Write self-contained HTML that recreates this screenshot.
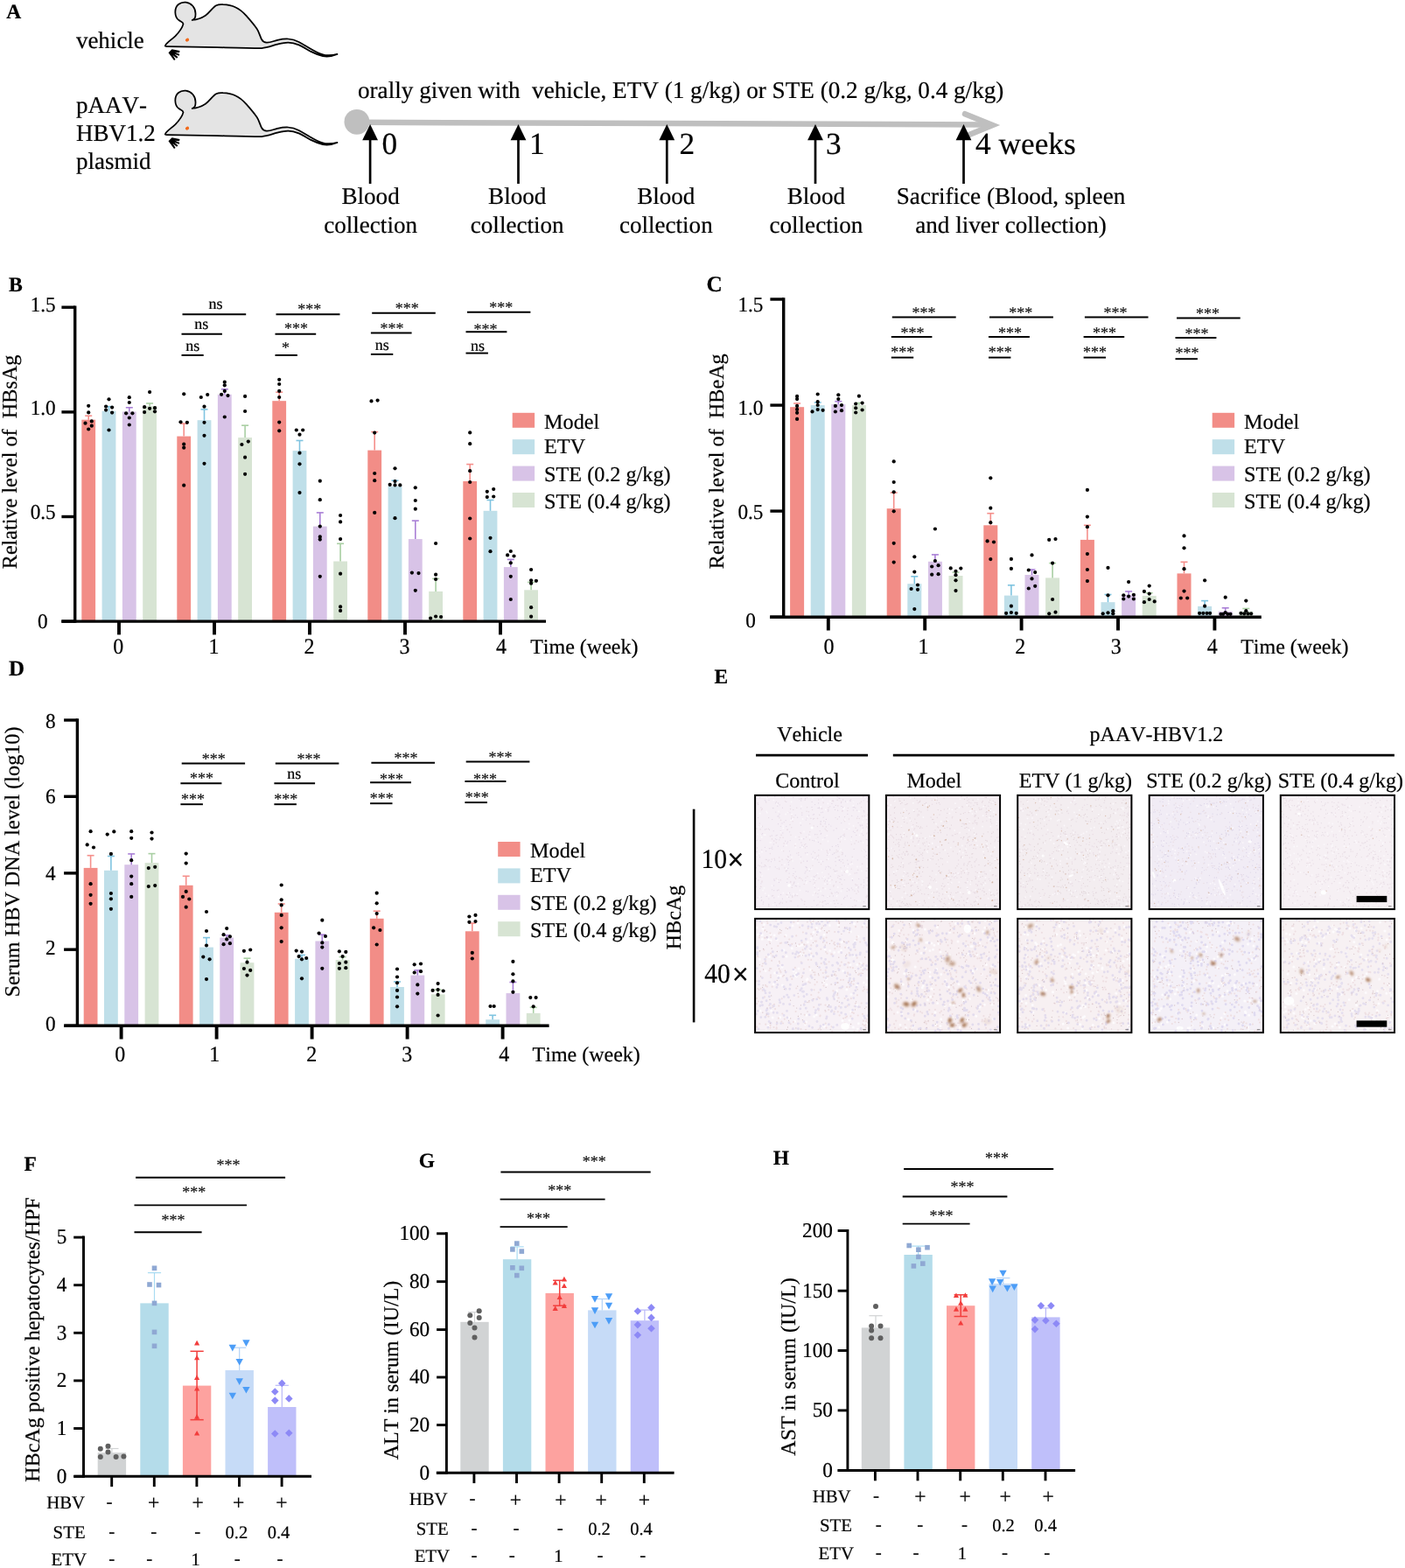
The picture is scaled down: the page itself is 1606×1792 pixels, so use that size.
<!DOCTYPE html>
<html lang="en">
<head>
<meta charset="utf-8">
<title>Figure</title>
<style>
html,body{margin:0;padding:0;background:#fff;}
body{width:1606px;height:1792px;overflow:hidden;}
svg{display:block;font-family:'Liberation Serif', serif;font-kerning:none;font-variant-ligatures:none;text-rendering:geometricPrecision;}
text{stroke:#000;stroke-width:0.22px;stroke-opacity:0.9;}
</style>
</head>
<body>
<svg width="1606" height="1792" viewBox="0 0 1606 1792">
<rect width="1606" height="1792" fill="#fff"/>
<g id="panelA">
<text x="7.3" y="21.2" font-size="23.5" font-weight="bold" xml:space="preserve">A</text>
<text x="86.9" y="55.0" font-size="27" xml:space="preserve">vehicle</text>
<text x="86.9" y="129.0" font-size="27" xml:space="preserve">pAAV-</text>
<text x="86.9" y="161.0" font-size="27" xml:space="preserve">HBV1.2</text>
<text x="86.9" y="193.0" font-size="27" xml:space="preserve">plasmid</text>
<g transform="translate(0 0)">
<path d="M188.9 52.1 C190 49 196 45.5 200.5 41.1 C204.5 37 208.5 31.5 209.5 27.4 C209.3 25 206.5 24.5 204.7 23.3 C199 19.5 199 9 204 5 C209 1 216 2 220.5 7 C223 10 224 15 223.2 19.5 C222.8 21.5 221 22.5 219.7 23 C225 22.5 230 21 234.8 17.8 C239.5 14.5 243 8.5 247.1 6.2 C250 4.8 252 4.9 254.7 5.1 C260 5.3 265 6.2 269 8.2 C274 10.5 278 14 281.4 17.8 C286 23 290 27.5 293.7 32.9 C296.5 37 297 41.5 299.2 45.2 C300.5 47.5 302.5 48.6 304.7 48.6 C309 48.8 313 46.8 317 45.9 C321 45 325 44.3 329.3 44.5 C333.5 44.7 338 46 341.6 47.9 C347.5 51 352.5 54.5 358.1 57.5 C362.5 60 367 62.5 371.8 63 C376.5 63.5 381.5 63 385.5 61.9 C381 63.8 374 65 369 64.1 C364 63 359.5 61 355.3 58.9 C350.5 56.3 346 53.5 341.6 51.4 C337.5 49.6 333.5 48.6 329.3 48.6 C325 48.6 321 49.7 317 50.7 C311 52.3 305 54.6 299.2 55.1 C282 55 265 54.5 248.5 54.1 C229 53.7 210 53.5 191 53.2 C189 53 188.4 52.6 188.9 52.1 Z" fill="#e4e4e4" stroke="#000" stroke-width="1.75" stroke-linejoin="round"/>
<path d="M196.5 56.3 L205.5 58 L205 60.2 L200.2 59.8 L205.3 61.9 L204.6 63.8 L199.5 61.8 L203.4 65.2 L202 66.8 L197.5 63 L200.6 68 L199 69 L192.5 60.3 Z" fill="#000"/>
<ellipse cx="214" cy="45.6" rx="2.2" ry="1.9" fill="#f26a1b" transform="rotate(-25 214 45.6)"/>
</g>
<g transform="translate(0 101)">
<path d="M188.9 52.1 C190 49 196 45.5 200.5 41.1 C204.5 37 208.5 31.5 209.5 27.4 C209.3 25 206.5 24.5 204.7 23.3 C199 19.5 199 9 204 5 C209 1 216 2 220.5 7 C223 10 224 15 223.2 19.5 C222.8 21.5 221 22.5 219.7 23 C225 22.5 230 21 234.8 17.8 C239.5 14.5 243 8.5 247.1 6.2 C250 4.8 252 4.9 254.7 5.1 C260 5.3 265 6.2 269 8.2 C274 10.5 278 14 281.4 17.8 C286 23 290 27.5 293.7 32.9 C296.5 37 297 41.5 299.2 45.2 C300.5 47.5 302.5 48.6 304.7 48.6 C309 48.8 313 46.8 317 45.9 C321 45 325 44.3 329.3 44.5 C333.5 44.7 338 46 341.6 47.9 C347.5 51 352.5 54.5 358.1 57.5 C362.5 60 367 62.5 371.8 63 C376.5 63.5 381.5 63 385.5 61.9 C381 63.8 374 65 369 64.1 C364 63 359.5 61 355.3 58.9 C350.5 56.3 346 53.5 341.6 51.4 C337.5 49.6 333.5 48.6 329.3 48.6 C325 48.6 321 49.7 317 50.7 C311 52.3 305 54.6 299.2 55.1 C282 55 265 54.5 248.5 54.1 C229 53.7 210 53.5 191 53.2 C189 53 188.4 52.6 188.9 52.1 Z" fill="#e4e4e4" stroke="#000" stroke-width="1.75" stroke-linejoin="round"/>
<path d="M196.5 56.3 L205.5 58 L205 60.2 L200.2 59.8 L205.3 61.9 L204.6 63.8 L199.5 61.8 L203.4 65.2 L202 66.8 L197.5 63 L200.6 68 L199 69 L192.5 60.3 Z" fill="#000"/>
<ellipse cx="214" cy="45.6" rx="2.2" ry="1.9" fill="#f26a1b" transform="rotate(-25 214 45.6)"/>
</g>
<text x="409.0" y="111.6" font-size="27.16" xml:space="preserve">orally given with  vehicle, ETV (1 g/kg) or STE (0.2 g/kg, 0.4 g/kg)</text>
<line x1="408.0" y1="139.8" x2="1130.0" y2="142.4" stroke="#bfbfbf" stroke-width="6.5"/>
<polyline points="1103,130.2 1134.6,143 1103,156" fill="none" stroke="#bfbfbf" stroke-width="6.5" stroke-linecap="round" stroke-linejoin="miter"/>
<circle cx="407.9" cy="139.3" r="14.4" fill="#bfbfbf"/>
<line x1="423.1" y1="210.0" x2="423.1" y2="158.0" stroke="#000" stroke-width="2.7"/>
<path d="M423.1 142 L432.0 160.3 L414.2 160.3 Z" fill="#000"/>
<text x="436.5" y="176.3" font-size="35.3" xml:space="preserve">0</text>
<line x1="592.5" y1="210.0" x2="592.5" y2="158.0" stroke="#000" stroke-width="2.7"/>
<path d="M592.5 142 L601.4 160.3 L583.6 160.3 Z" fill="#000"/>
<text x="605.0" y="176.3" font-size="35.3" xml:space="preserve">1</text>
<line x1="762.3" y1="210.0" x2="762.3" y2="158.0" stroke="#000" stroke-width="2.7"/>
<path d="M762.3 142 L771.2 160.3 L753.4 160.3 Z" fill="#000"/>
<text x="776.5" y="176.3" font-size="35.3" xml:space="preserve">2</text>
<line x1="932.0" y1="210.0" x2="932.0" y2="158.0" stroke="#000" stroke-width="2.7"/>
<path d="M932.0 142 L940.9 160.3 L923.1 160.3 Z" fill="#000"/>
<text x="944.0" y="176.3" font-size="35.3" xml:space="preserve">3</text>
<line x1="1101.5" y1="210.0" x2="1101.5" y2="158.0" stroke="#000" stroke-width="2.7"/>
<path d="M1101.5 142 L1110.4 160.3 L1092.6 160.3 Z" fill="#000"/>
<text x="1115.0" y="176.3" font-size="35.3" xml:space="preserve">4 weeks</text>
<text x="423.6" y="232.7" font-size="27.1" text-anchor="middle" xml:space="preserve">Blood</text>
<text x="423.6" y="265.8" font-size="27.1" text-anchor="middle" xml:space="preserve">collection</text>
<text x="591.2" y="232.7" font-size="27.1" text-anchor="middle" xml:space="preserve">Blood</text>
<text x="591.2" y="265.8" font-size="27.1" text-anchor="middle" xml:space="preserve">collection</text>
<text x="761.3" y="232.7" font-size="27.1" text-anchor="middle" xml:space="preserve">Blood</text>
<text x="761.3" y="265.8" font-size="27.1" text-anchor="middle" xml:space="preserve">collection</text>
<text x="932.9" y="232.7" font-size="27.1" text-anchor="middle" xml:space="preserve">Blood</text>
<text x="932.9" y="265.8" font-size="27.1" text-anchor="middle" xml:space="preserve">collection</text>
<text x="1155.5" y="232.7" font-size="27.15" text-anchor="middle" xml:space="preserve">Sacrifice (Blood, spleen</text>
<text x="1155.5" y="265.8" font-size="27.15" text-anchor="middle" xml:space="preserve">and liver collection)</text>
</g>
<g id="panelB">
<text x="10.0" y="333.3" font-size="23.7" font-weight="bold" xml:space="preserve">B</text>
<rect x="93.3" y="479.7" width="15.8" height="230.4" fill="#f28d87"/>
<rect x="116.6" y="469.7" width="15.8" height="240.4" fill="#bfdfe9"/>
<rect x="139.9" y="470.5" width="15.8" height="239.6" fill="#d8c3e7"/>
<rect x="163.2" y="463.9" width="15.8" height="246.2" fill="#d7e4d3"/>
<rect x="202.3" y="498.6" width="15.8" height="211.5" fill="#f28d87"/>
<rect x="225.6" y="480.2" width="15.8" height="229.9" fill="#bfdfe9"/>
<rect x="248.9" y="450.8" width="15.8" height="259.3" fill="#d8c3e7"/>
<rect x="272.2" y="500.1" width="15.8" height="210.0" fill="#d7e4d3"/>
<rect x="311.3" y="458.2" width="15.8" height="251.9" fill="#f28d87"/>
<rect x="334.6" y="515.1" width="15.8" height="195.0" fill="#bfdfe9"/>
<rect x="357.9" y="601.6" width="15.8" height="108.5" fill="#d8c3e7"/>
<rect x="381.2" y="641.5" width="15.8" height="68.6" fill="#d7e4d3"/>
<rect x="420.3" y="514.6" width="15.8" height="195.5" fill="#f28d87"/>
<rect x="443.6" y="555.7" width="15.8" height="154.4" fill="#bfdfe9"/>
<rect x="466.9" y="616.1" width="15.8" height="94.0" fill="#d8c3e7"/>
<rect x="490.2" y="675.9" width="15.8" height="34.2" fill="#d7e4d3"/>
<rect x="529.3" y="550.0" width="15.8" height="160.1" fill="#f28d87"/>
<rect x="552.6" y="583.8" width="15.8" height="126.3" fill="#bfdfe9"/>
<rect x="575.9" y="648.1" width="15.8" height="62.0" fill="#d8c3e7"/>
<rect x="599.2" y="674.3" width="15.8" height="35.8" fill="#d7e4d3"/>
<line x1="101.2" y1="479.7" x2="101.2" y2="475.2" stroke="#f58f8b" stroke-width="1.6"/>
<line x1="97.2" y1="475.2" x2="105.2" y2="475.2" stroke="#f58f8b" stroke-width="1.6"/>
<line x1="124.5" y1="469.7" x2="124.5" y2="464.7" stroke="#7fc4e0" stroke-width="1.6"/>
<line x1="120.5" y1="464.7" x2="128.5" y2="464.7" stroke="#7fc4e0" stroke-width="1.6"/>
<line x1="147.8" y1="470.5" x2="147.8" y2="465.8" stroke="#a97fd6" stroke-width="1.6"/>
<line x1="143.8" y1="465.8" x2="151.8" y2="465.8" stroke="#a97fd6" stroke-width="1.6"/>
<line x1="171.1" y1="463.9" x2="171.1" y2="461.0" stroke="#a9cfa3" stroke-width="1.6"/>
<line x1="167.1" y1="461.0" x2="175.1" y2="461.0" stroke="#a9cfa3" stroke-width="1.6"/>
<line x1="210.2" y1="498.6" x2="210.2" y2="484.1" stroke="#f58f8b" stroke-width="1.6"/>
<line x1="206.2" y1="484.1" x2="214.2" y2="484.1" stroke="#f58f8b" stroke-width="1.6"/>
<line x1="233.5" y1="480.2" x2="233.5" y2="467.9" stroke="#7fc4e0" stroke-width="1.6"/>
<line x1="229.5" y1="467.9" x2="237.5" y2="467.9" stroke="#7fc4e0" stroke-width="1.6"/>
<line x1="256.8" y1="450.8" x2="256.8" y2="444.8" stroke="#a97fd6" stroke-width="1.6"/>
<line x1="252.8" y1="444.8" x2="260.8" y2="444.8" stroke="#a97fd6" stroke-width="1.6"/>
<line x1="280.1" y1="500.1" x2="280.1" y2="486.2" stroke="#a9cfa3" stroke-width="1.6"/>
<line x1="276.1" y1="486.2" x2="284.1" y2="486.2" stroke="#a9cfa3" stroke-width="1.6"/>
<line x1="319.2" y1="458.2" x2="319.2" y2="448.2" stroke="#f58f8b" stroke-width="1.6"/>
<line x1="315.2" y1="448.2" x2="323.2" y2="448.2" stroke="#f58f8b" stroke-width="1.6"/>
<line x1="342.5" y1="515.1" x2="342.5" y2="503.5" stroke="#7fc4e0" stroke-width="1.6"/>
<line x1="338.5" y1="503.5" x2="346.5" y2="503.5" stroke="#7fc4e0" stroke-width="1.6"/>
<line x1="365.8" y1="601.6" x2="365.8" y2="585.9" stroke="#a97fd6" stroke-width="1.6"/>
<line x1="361.8" y1="585.9" x2="369.8" y2="585.9" stroke="#a97fd6" stroke-width="1.6"/>
<line x1="389.1" y1="641.5" x2="389.1" y2="621.3" stroke="#a9cfa3" stroke-width="1.6"/>
<line x1="385.1" y1="621.3" x2="393.1" y2="621.3" stroke="#a9cfa3" stroke-width="1.6"/>
<line x1="428.2" y1="514.6" x2="428.2" y2="493.6" stroke="#f58f8b" stroke-width="1.6"/>
<line x1="424.2" y1="493.6" x2="432.2" y2="493.6" stroke="#f58f8b" stroke-width="1.6"/>
<line x1="451.5" y1="555.7" x2="451.5" y2="549.2" stroke="#7fc4e0" stroke-width="1.6"/>
<line x1="447.5" y1="549.2" x2="455.5" y2="549.2" stroke="#7fc4e0" stroke-width="1.6"/>
<line x1="474.8" y1="616.1" x2="474.8" y2="595.1" stroke="#a97fd6" stroke-width="1.6"/>
<line x1="470.8" y1="595.1" x2="478.8" y2="595.1" stroke="#a97fd6" stroke-width="1.6"/>
<line x1="498.1" y1="675.9" x2="498.1" y2="661.4" stroke="#a9cfa3" stroke-width="1.6"/>
<line x1="494.1" y1="661.4" x2="502.1" y2="661.4" stroke="#a9cfa3" stroke-width="1.6"/>
<line x1="537.2" y1="550.0" x2="537.2" y2="530.6" stroke="#f58f8b" stroke-width="1.6"/>
<line x1="533.2" y1="530.6" x2="541.2" y2="530.6" stroke="#f58f8b" stroke-width="1.6"/>
<line x1="560.5" y1="583.8" x2="560.5" y2="571.5" stroke="#7fc4e0" stroke-width="1.6"/>
<line x1="556.5" y1="571.5" x2="564.5" y2="571.5" stroke="#7fc4e0" stroke-width="1.6"/>
<line x1="583.8" y1="648.1" x2="583.8" y2="639.4" stroke="#a97fd6" stroke-width="1.6"/>
<line x1="579.8" y1="639.4" x2="587.8" y2="639.4" stroke="#a97fd6" stroke-width="1.6"/>
<line x1="607.1" y1="674.3" x2="607.1" y2="665.4" stroke="#a9cfa3" stroke-width="1.6"/>
<line x1="603.1" y1="665.4" x2="611.1" y2="665.4" stroke="#a9cfa3" stroke-width="1.6"/>
<line x1="85.7" y1="349.5" x2="85.7" y2="711.8" stroke="#000" stroke-width="3.4"/>
<line x1="70.3" y1="710.1" x2="624.0" y2="710.1" stroke="#000" stroke-width="3.4"/>
<line x1="70.4" y1="351.2" x2="85.7" y2="351.2" stroke="#000" stroke-width="3.4"/>
<text transform="translate(63.7 356.1) scale(1 1.04)" font-size="23.2" text-anchor="end">1.5</text>
<line x1="70.4" y1="470.9" x2="85.7" y2="470.9" stroke="#000" stroke-width="3.4"/>
<text transform="translate(63.7 473.8) scale(1 1.04)" font-size="23.2" text-anchor="end">1.0</text>
<line x1="70.4" y1="590.5" x2="85.7" y2="590.5" stroke="#000" stroke-width="3.4"/>
<text transform="translate(63.7 592.7) scale(1 1.04)" font-size="23.2" text-anchor="end">0.5</text>
<line x1="70.4" y1="710.1" x2="85.7" y2="710.1" stroke="#000" stroke-width="3.4"/>
<text transform="translate(54.6 717.6) scale(1 1.04)" font-size="23.2" text-anchor="end">0</text>
<line x1="136.0" y1="710.1" x2="136.0" y2="725.4" stroke="#000" stroke-width="3.9"/>
<text transform="translate(135.2 747.2) scale(1 1.05)" font-size="24" text-anchor="middle">0</text>
<line x1="245.0" y1="710.1" x2="245.0" y2="725.4" stroke="#000" stroke-width="3.9"/>
<text transform="translate(244.6 747.2) scale(1 1.05)" font-size="24" text-anchor="middle">1</text>
<line x1="354.0" y1="710.1" x2="354.0" y2="725.4" stroke="#000" stroke-width="3.9"/>
<text transform="translate(353.6 747.2) scale(1 1.05)" font-size="24" text-anchor="middle">2</text>
<line x1="463.0" y1="710.1" x2="463.0" y2="725.4" stroke="#000" stroke-width="3.9"/>
<text transform="translate(462.6 747.2) scale(1 1.05)" font-size="24" text-anchor="middle">3</text>
<line x1="572.0" y1="710.1" x2="572.0" y2="725.4" stroke="#000" stroke-width="3.9"/>
<text transform="translate(573.0 747.2) scale(1 1.05)" font-size="24" text-anchor="middle">4</text>
<text x="606.2" y="747.2" font-size="24" xml:space="preserve">Time (week)</text>
<circle cx="101.2" cy="463.8" r="2.1" fill="#000"/>
<circle cx="101.2" cy="471.4" r="2.1" fill="#000"/>
<circle cx="104.8" cy="481.4" r="2.1" fill="#000"/>
<circle cx="97.5" cy="483.7" r="2.1" fill="#000"/>
<circle cx="104.8" cy="486.7" r="2.1" fill="#000"/>
<circle cx="101.2" cy="490.5" r="2.1" fill="#000"/>
<circle cx="124.5" cy="456.3" r="2.1" fill="#000"/>
<circle cx="121.1" cy="464.5" r="2.1" fill="#000"/>
<circle cx="128.1" cy="465.6" r="2.1" fill="#000"/>
<circle cx="121.1" cy="468.6" r="2.1" fill="#000"/>
<circle cx="128.1" cy="471.6" r="2.1" fill="#000"/>
<circle cx="124.5" cy="491.5" r="2.1" fill="#000"/>
<circle cx="147.8" cy="454.2" r="2.1" fill="#000"/>
<circle cx="147.8" cy="460.0" r="2.1" fill="#000"/>
<circle cx="144.1" cy="472.3" r="2.1" fill="#000"/>
<circle cx="151.4" cy="472.3" r="2.1" fill="#000"/>
<circle cx="147.8" cy="477.5" r="2.1" fill="#000"/>
<circle cx="147.8" cy="485.5" r="2.1" fill="#000"/>
<circle cx="171.1" cy="448.1" r="2.1" fill="#000"/>
<circle cx="165.1" cy="465.2" r="2.1" fill="#000"/>
<circle cx="171.1" cy="466.8" r="2.1" fill="#000"/>
<circle cx="177.0" cy="466.2" r="2.1" fill="#000"/>
<circle cx="165.1" cy="471.1" r="2.1" fill="#000"/>
<circle cx="177.0" cy="470.3" r="2.1" fill="#000"/>
<circle cx="210.2" cy="450.3" r="2.1" fill="#000"/>
<circle cx="206.5" cy="482.3" r="2.1" fill="#000"/>
<circle cx="213.9" cy="482.8" r="2.1" fill="#000"/>
<circle cx="210.2" cy="507.7" r="2.1" fill="#000"/>
<circle cx="210.2" cy="511.7" r="2.1" fill="#000"/>
<circle cx="210.2" cy="554.7" r="2.1" fill="#000"/>
<circle cx="229.8" cy="454.0" r="2.1" fill="#000"/>
<circle cx="237.2" cy="451.1" r="2.1" fill="#000"/>
<circle cx="233.5" cy="464.7" r="2.1" fill="#000"/>
<circle cx="233.5" cy="482.8" r="2.1" fill="#000"/>
<circle cx="233.5" cy="497.8" r="2.1" fill="#000"/>
<circle cx="233.5" cy="529.8" r="2.1" fill="#000"/>
<circle cx="256.8" cy="436.7" r="2.1" fill="#000"/>
<circle cx="256.8" cy="440.3" r="2.1" fill="#000"/>
<circle cx="253.1" cy="450.8" r="2.1" fill="#000"/>
<circle cx="260.5" cy="452.1" r="2.1" fill="#000"/>
<circle cx="256.8" cy="446.9" r="2.1" fill="#000"/>
<circle cx="256.8" cy="476.5" r="2.1" fill="#000"/>
<circle cx="280.1" cy="452.9" r="2.1" fill="#000"/>
<circle cx="280.1" cy="470.0" r="2.1" fill="#000"/>
<circle cx="276.4" cy="508.0" r="2.1" fill="#000"/>
<circle cx="283.8" cy="504.6" r="2.1" fill="#000"/>
<circle cx="280.1" cy="522.7" r="2.1" fill="#000"/>
<circle cx="280.1" cy="541.8" r="2.1" fill="#000"/>
<circle cx="319.2" cy="433.8" r="2.1" fill="#000"/>
<circle cx="319.2" cy="439.0" r="2.1" fill="#000"/>
<circle cx="319.2" cy="446.9" r="2.1" fill="#000"/>
<circle cx="319.2" cy="454.0" r="2.1" fill="#000"/>
<circle cx="319.2" cy="482.6" r="2.1" fill="#000"/>
<circle cx="319.2" cy="492.3" r="2.1" fill="#000"/>
<circle cx="338.8" cy="491.5" r="2.1" fill="#000"/>
<circle cx="346.2" cy="491.5" r="2.1" fill="#000"/>
<circle cx="342.5" cy="496.7" r="2.1" fill="#000"/>
<circle cx="342.5" cy="517.7" r="2.1" fill="#000"/>
<circle cx="342.5" cy="530.3" r="2.1" fill="#000"/>
<circle cx="342.5" cy="563.1" r="2.1" fill="#000"/>
<circle cx="365.8" cy="549.7" r="2.1" fill="#000"/>
<circle cx="365.8" cy="571.2" r="2.1" fill="#000"/>
<circle cx="365.8" cy="601.6" r="2.1" fill="#000"/>
<circle cx="365.8" cy="613.4" r="2.1" fill="#000"/>
<circle cx="365.8" cy="616.6" r="2.1" fill="#000"/>
<circle cx="365.8" cy="658.8" r="2.1" fill="#000"/>
<circle cx="389.1" cy="589.0" r="2.1" fill="#000"/>
<circle cx="389.1" cy="596.4" r="2.1" fill="#000"/>
<circle cx="389.1" cy="616.1" r="2.1" fill="#000"/>
<circle cx="389.1" cy="655.7" r="2.1" fill="#000"/>
<circle cx="389.1" cy="693.4" r="2.1" fill="#000"/>
<circle cx="389.1" cy="697.9" r="2.1" fill="#000"/>
<circle cx="424.5" cy="458.4" r="2.1" fill="#000"/>
<circle cx="431.6" cy="457.6" r="2.1" fill="#000"/>
<circle cx="428.2" cy="494.6" r="2.1" fill="#000"/>
<circle cx="428.2" cy="541.0" r="2.1" fill="#000"/>
<circle cx="428.2" cy="549.2" r="2.1" fill="#000"/>
<circle cx="428.2" cy="585.9" r="2.1" fill="#000"/>
<circle cx="451.5" cy="535.3" r="2.1" fill="#000"/>
<circle cx="451.5" cy="550.0" r="2.1" fill="#000"/>
<circle cx="445.7" cy="553.9" r="2.1" fill="#000"/>
<circle cx="451.5" cy="554.4" r="2.1" fill="#000"/>
<circle cx="457.3" cy="554.4" r="2.1" fill="#000"/>
<circle cx="451.5" cy="592.2" r="2.1" fill="#000"/>
<circle cx="474.8" cy="557.3" r="2.1" fill="#000"/>
<circle cx="474.8" cy="572.0" r="2.1" fill="#000"/>
<circle cx="474.8" cy="581.7" r="2.1" fill="#000"/>
<circle cx="470.9" cy="654.6" r="2.1" fill="#000"/>
<circle cx="478.5" cy="655.1" r="2.1" fill="#000"/>
<circle cx="474.8" cy="674.8" r="2.1" fill="#000"/>
<circle cx="498.1" cy="621.0" r="2.1" fill="#000"/>
<circle cx="498.1" cy="656.7" r="2.1" fill="#000"/>
<circle cx="498.1" cy="662.0" r="2.1" fill="#000"/>
<circle cx="492.1" cy="706.6" r="2.1" fill="#000"/>
<circle cx="498.1" cy="704.5" r="2.1" fill="#000"/>
<circle cx="504.1" cy="705.0" r="2.1" fill="#000"/>
<circle cx="537.2" cy="494.4" r="2.1" fill="#000"/>
<circle cx="537.2" cy="507.2" r="2.1" fill="#000"/>
<circle cx="537.2" cy="538.2" r="2.1" fill="#000"/>
<circle cx="537.2" cy="551.0" r="2.1" fill="#000"/>
<circle cx="537.2" cy="592.5" r="2.1" fill="#000"/>
<circle cx="537.2" cy="615.5" r="2.1" fill="#000"/>
<circle cx="556.8" cy="561.8" r="2.1" fill="#000"/>
<circle cx="564.2" cy="559.1" r="2.1" fill="#000"/>
<circle cx="556.8" cy="568.1" r="2.1" fill="#000"/>
<circle cx="564.2" cy="567.5" r="2.1" fill="#000"/>
<circle cx="560.5" cy="614.8" r="2.1" fill="#000"/>
<circle cx="560.5" cy="630.2" r="2.1" fill="#000"/>
<circle cx="583.8" cy="630.0" r="2.1" fill="#000"/>
<circle cx="580.1" cy="634.4" r="2.1" fill="#000"/>
<circle cx="587.5" cy="635.5" r="2.1" fill="#000"/>
<circle cx="583.8" cy="643.3" r="2.1" fill="#000"/>
<circle cx="583.8" cy="658.8" r="2.1" fill="#000"/>
<circle cx="583.8" cy="685.0" r="2.1" fill="#000"/>
<circle cx="607.1" cy="651.0" r="2.1" fill="#000"/>
<circle cx="607.1" cy="663.3" r="2.1" fill="#000"/>
<circle cx="612.9" cy="663.8" r="2.1" fill="#000"/>
<circle cx="607.1" cy="666.7" r="2.1" fill="#000"/>
<circle cx="607.1" cy="694.2" r="2.1" fill="#000"/>
<circle cx="607.1" cy="704.7" r="2.1" fill="#000"/>
<line x1="208.5" y1="359.3" x2="281.2" y2="359.3" stroke="#000" stroke-width="1.95"/>
<text x="246.6" y="353.2" font-size="18" text-anchor="middle" xml:space="preserve">ns</text>
<line x1="207.5" y1="381.8" x2="253.9" y2="381.8" stroke="#000" stroke-width="1.95"/>
<text x="230.3" y="376.3" font-size="18" text-anchor="middle" xml:space="preserve">ns</text>
<line x1="207.5" y1="406.0" x2="232.7" y2="406.0" stroke="#000" stroke-width="1.95"/>
<text x="220.3" y="401.0" font-size="18" text-anchor="middle" xml:space="preserve">ns</text>
<line x1="315.5" y1="359.3" x2="388.5" y2="359.3" stroke="#000" stroke-width="1.95"/>
<text x="353.7" y="358.8" font-size="18" text-anchor="middle" fill="#222" xml:space="preserve">***</text>
<line x1="314.5" y1="381.8" x2="361.2" y2="381.8" stroke="#000" stroke-width="1.95"/>
<text x="338.6" y="381.1" font-size="18" text-anchor="middle" fill="#222" xml:space="preserve">***</text>
<line x1="314.5" y1="406.0" x2="339.9" y2="406.0" stroke="#000" stroke-width="1.95"/>
<text x="326.6" y="403.4" font-size="18" text-anchor="middle" fill="#222" xml:space="preserve">*</text>
<line x1="425.2" y1="357.7" x2="497.8" y2="357.7" stroke="#000" stroke-width="1.95"/>
<text x="465.2" y="358.0" font-size="18" text-anchor="middle" fill="#222" xml:space="preserve">***</text>
<line x1="423.9" y1="380.5" x2="470.6" y2="380.5" stroke="#000" stroke-width="1.95"/>
<text x="448.1" y="381.1" font-size="18" text-anchor="middle" fill="#222" xml:space="preserve">***</text>
<line x1="423.9" y1="404.9" x2="449.3" y2="404.9" stroke="#000" stroke-width="1.95"/>
<text x="436.7" y="399.7" font-size="18" text-anchor="middle" xml:space="preserve">ns</text>
<line x1="534.0" y1="356.7" x2="606.4" y2="356.7" stroke="#000" stroke-width="1.95"/>
<text x="572.7" y="357.2" font-size="18" text-anchor="middle" fill="#222" xml:space="preserve">***</text>
<line x1="532.5" y1="379.2" x2="579.4" y2="379.2" stroke="#000" stroke-width="1.95"/>
<text x="555.1" y="382.2" font-size="18" text-anchor="middle" fill="#222" xml:space="preserve">***</text>
<line x1="532.5" y1="403.6" x2="557.9" y2="403.6" stroke="#000" stroke-width="1.95"/>
<text x="546.1" y="401.0" font-size="18" text-anchor="middle" xml:space="preserve">ns</text>
<text x="19.2" y="528.0" font-size="24.2" text-anchor="middle" transform="rotate(-90 19.2 528.0)" xml:space="preserve">Relative level of  HBsAg</text>
<rect x="585.7" y="471.8" width="25.4" height="17.0" fill="#f28d87"/>
<text x="622.1" y="490.2" font-size="24.2" xml:space="preserve">Model</text>
<rect x="585.7" y="502.2" width="25.4" height="17.0" fill="#bfdfe9"/>
<text x="622.1" y="517.9" font-size="24.2" xml:space="preserve">ETV</text>
<rect x="585.7" y="532.6" width="25.4" height="17.0" fill="#d8c3e7"/>
<text x="622.1" y="549.6" font-size="24.2" xml:space="preserve">STE (0.2 g/kg)</text>
<rect x="585.7" y="563.0" width="25.4" height="17.0" fill="#d7e4d3"/>
<text x="622.1" y="581.0" font-size="24.2" xml:space="preserve">STE (0.4 g/kg)</text>
</g>
<g id="panelC">
<text x="807.6" y="333.3" font-size="25.2" font-weight="bold" xml:space="preserve">C</text>
<rect x="903.1" y="465.2" width="16.0" height="240.0" fill="#f28d87"/>
<rect x="926.7" y="463.1" width="16.0" height="242.1" fill="#bfdfe9"/>
<rect x="950.3" y="462.1" width="16.0" height="243.1" fill="#d8c3e7"/>
<rect x="973.9" y="463.1" width="16.0" height="242.1" fill="#d7e4d3"/>
<rect x="1013.7" y="581.2" width="16.0" height="124.0" fill="#f28d87"/>
<rect x="1037.3" y="667.2" width="16.0" height="38.0" fill="#bfdfe9"/>
<rect x="1060.9" y="641.8" width="16.0" height="63.4" fill="#d8c3e7"/>
<rect x="1084.5" y="658.0" width="16.0" height="47.2" fill="#d7e4d3"/>
<rect x="1124.3" y="600.3" width="16.0" height="104.9" fill="#f28d87"/>
<rect x="1147.9" y="680.6" width="16.0" height="24.6" fill="#bfdfe9"/>
<rect x="1171.5" y="657.0" width="16.0" height="48.2" fill="#d8c3e7"/>
<rect x="1195.1" y="660.4" width="16.0" height="44.8" fill="#d7e4d3"/>
<rect x="1234.9" y="616.9" width="16.0" height="88.3" fill="#f28d87"/>
<rect x="1258.5" y="688.2" width="16.0" height="17.0" fill="#bfdfe9"/>
<rect x="1282.1" y="679.8" width="16.0" height="25.4" fill="#d8c3e7"/>
<rect x="1305.7" y="680.9" width="16.0" height="24.3" fill="#d7e4d3"/>
<rect x="1345.5" y="655.4" width="16.0" height="49.8" fill="#f28d87"/>
<rect x="1369.1" y="692.9" width="16.0" height="12.3" fill="#bfdfe9"/>
<rect x="1392.7" y="698.7" width="16.0" height="6.5" fill="#d8c3e7"/>
<rect x="1416.3" y="698.7" width="16.0" height="6.5" fill="#d7e4d3"/>
<line x1="911.1" y1="465.2" x2="911.1" y2="461.0" stroke="#f58f8b" stroke-width="1.6"/>
<line x1="907.1" y1="461.0" x2="915.1" y2="461.0" stroke="#f58f8b" stroke-width="1.6"/>
<line x1="934.7" y1="463.1" x2="934.7" y2="460.0" stroke="#7fc4e0" stroke-width="1.6"/>
<line x1="930.7" y1="460.0" x2="938.7" y2="460.0" stroke="#7fc4e0" stroke-width="1.6"/>
<line x1="958.3" y1="462.1" x2="958.3" y2="458.7" stroke="#a97fd6" stroke-width="1.6"/>
<line x1="954.3" y1="458.7" x2="962.3" y2="458.7" stroke="#a97fd6" stroke-width="1.6"/>
<line x1="981.9" y1="463.1" x2="981.9" y2="460.5" stroke="#a9cfa3" stroke-width="1.6"/>
<line x1="977.9" y1="460.5" x2="985.9" y2="460.5" stroke="#a9cfa3" stroke-width="1.6"/>
<line x1="1021.7" y1="581.2" x2="1021.7" y2="563.1" stroke="#f58f8b" stroke-width="1.6"/>
<line x1="1017.7" y1="563.1" x2="1025.7" y2="563.1" stroke="#f58f8b" stroke-width="1.6"/>
<line x1="1045.3" y1="667.2" x2="1045.3" y2="658.8" stroke="#7fc4e0" stroke-width="1.6"/>
<line x1="1041.3" y1="658.8" x2="1049.3" y2="658.8" stroke="#7fc4e0" stroke-width="1.6"/>
<line x1="1068.9" y1="641.8" x2="1068.9" y2="633.9" stroke="#a97fd6" stroke-width="1.6"/>
<line x1="1064.9" y1="633.9" x2="1072.9" y2="633.9" stroke="#a97fd6" stroke-width="1.6"/>
<line x1="1092.5" y1="658.0" x2="1092.5" y2="654.1" stroke="#a9cfa3" stroke-width="1.6"/>
<line x1="1088.5" y1="654.1" x2="1096.5" y2="654.1" stroke="#a9cfa3" stroke-width="1.6"/>
<line x1="1132.3" y1="600.3" x2="1132.3" y2="586.7" stroke="#f58f8b" stroke-width="1.6"/>
<line x1="1128.3" y1="586.7" x2="1136.3" y2="586.7" stroke="#f58f8b" stroke-width="1.6"/>
<line x1="1155.9" y1="680.6" x2="1155.9" y2="668.8" stroke="#7fc4e0" stroke-width="1.6"/>
<line x1="1151.9" y1="668.8" x2="1159.9" y2="668.8" stroke="#7fc4e0" stroke-width="1.6"/>
<line x1="1179.5" y1="657.0" x2="1179.5" y2="651.0" stroke="#a97fd6" stroke-width="1.6"/>
<line x1="1175.5" y1="651.0" x2="1183.5" y2="651.0" stroke="#a97fd6" stroke-width="1.6"/>
<line x1="1203.1" y1="660.4" x2="1203.1" y2="643.6" stroke="#a9cfa3" stroke-width="1.6"/>
<line x1="1199.1" y1="643.6" x2="1207.1" y2="643.6" stroke="#a9cfa3" stroke-width="1.6"/>
<line x1="1242.9" y1="616.9" x2="1242.9" y2="600.3" stroke="#f58f8b" stroke-width="1.6"/>
<line x1="1238.9" y1="600.3" x2="1246.9" y2="600.3" stroke="#f58f8b" stroke-width="1.6"/>
<line x1="1266.5" y1="688.2" x2="1266.5" y2="679.5" stroke="#7fc4e0" stroke-width="1.6"/>
<line x1="1262.5" y1="679.5" x2="1270.5" y2="679.5" stroke="#7fc4e0" stroke-width="1.6"/>
<line x1="1290.1" y1="679.8" x2="1290.1" y2="675.9" stroke="#a97fd6" stroke-width="1.6"/>
<line x1="1286.1" y1="675.9" x2="1294.1" y2="675.9" stroke="#a97fd6" stroke-width="1.6"/>
<line x1="1313.7" y1="680.9" x2="1313.7" y2="677.7" stroke="#a9cfa3" stroke-width="1.6"/>
<line x1="1309.7" y1="677.7" x2="1317.7" y2="677.7" stroke="#a9cfa3" stroke-width="1.6"/>
<line x1="1353.5" y1="655.4" x2="1353.5" y2="642.3" stroke="#f58f8b" stroke-width="1.6"/>
<line x1="1349.5" y1="642.3" x2="1357.5" y2="642.3" stroke="#f58f8b" stroke-width="1.6"/>
<line x1="1377.1" y1="692.9" x2="1377.1" y2="686.6" stroke="#7fc4e0" stroke-width="1.6"/>
<line x1="1373.1" y1="686.6" x2="1381.1" y2="686.6" stroke="#7fc4e0" stroke-width="1.6"/>
<line x1="1400.7" y1="698.7" x2="1400.7" y2="694.8" stroke="#a97fd6" stroke-width="1.6"/>
<line x1="1396.7" y1="694.8" x2="1404.7" y2="694.8" stroke="#a97fd6" stroke-width="1.6"/>
<line x1="1424.3" y1="698.7" x2="1424.3" y2="695.5" stroke="#a9cfa3" stroke-width="1.6"/>
<line x1="1420.3" y1="695.5" x2="1428.3" y2="695.5" stroke="#a9cfa3" stroke-width="1.6"/>
<line x1="895.7" y1="340.3" x2="895.7" y2="706.9" stroke="#000" stroke-width="3.4"/>
<line x1="880.0" y1="705.2" x2="1441.8" y2="705.2" stroke="#000" stroke-width="3.4"/>
<line x1="880.4" y1="342.0" x2="895.7" y2="342.0" stroke="#000" stroke-width="3.4"/>
<text transform="translate(872.4 356.1) scale(1 1.04)" font-size="23.2" text-anchor="end">1.5</text>
<line x1="880.4" y1="463.1" x2="895.7" y2="463.1" stroke="#000" stroke-width="3.4"/>
<text transform="translate(872.4 473.8) scale(1 1.04)" font-size="23.2" text-anchor="end">1.0</text>
<line x1="880.4" y1="584.1" x2="895.7" y2="584.1" stroke="#000" stroke-width="3.4"/>
<text transform="translate(872.4 592.5) scale(1 1.04)" font-size="23.2" text-anchor="end">0.5</text>
<line x1="880.4" y1="705.2" x2="895.7" y2="705.2" stroke="#000" stroke-width="3.4"/>
<text transform="translate(863.9 717.3) scale(1 1.04)" font-size="23.2" text-anchor="end">0</text>
<line x1="946.8" y1="705.2" x2="946.8" y2="720.5" stroke="#000" stroke-width="3.9"/>
<text transform="translate(947.4 747.2) scale(1 1.05)" font-size="24" text-anchor="middle">0</text>
<line x1="1057.2" y1="705.2" x2="1057.2" y2="720.5" stroke="#000" stroke-width="3.9"/>
<text transform="translate(1055.6 747.2) scale(1 1.05)" font-size="24" text-anchor="middle">1</text>
<line x1="1167.6" y1="705.2" x2="1167.6" y2="720.5" stroke="#000" stroke-width="3.9"/>
<text transform="translate(1166.2 747.2) scale(1 1.05)" font-size="24" text-anchor="middle">2</text>
<line x1="1278.0" y1="705.2" x2="1278.0" y2="720.5" stroke="#000" stroke-width="3.9"/>
<text transform="translate(1275.8 747.2) scale(1 1.05)" font-size="24" text-anchor="middle">3</text>
<line x1="1388.4" y1="705.2" x2="1388.4" y2="720.5" stroke="#000" stroke-width="3.9"/>
<text transform="translate(1385.8 747.2) scale(1 1.05)" font-size="24" text-anchor="middle">4</text>
<text x="1418.2" y="747.2" font-size="24" xml:space="preserve">Time (week)</text>
<circle cx="911.1" cy="452.9" r="2.1" fill="#000"/>
<circle cx="911.1" cy="456.1" r="2.1" fill="#000"/>
<circle cx="911.1" cy="463.9" r="2.1" fill="#000"/>
<circle cx="911.1" cy="467.9" r="2.1" fill="#000"/>
<circle cx="911.1" cy="471.8" r="2.1" fill="#000"/>
<circle cx="911.1" cy="478.9" r="2.1" fill="#000"/>
<circle cx="934.7" cy="450.5" r="2.1" fill="#000"/>
<circle cx="934.7" cy="459.2" r="2.1" fill="#000"/>
<circle cx="934.7" cy="463.0" r="2.1" fill="#000"/>
<circle cx="928.5" cy="470.4" r="2.1" fill="#000"/>
<circle cx="934.7" cy="468.1" r="2.1" fill="#000"/>
<circle cx="940.6" cy="468.8" r="2.1" fill="#000"/>
<circle cx="958.3" cy="451.3" r="2.1" fill="#000"/>
<circle cx="958.3" cy="456.1" r="2.1" fill="#000"/>
<circle cx="954.9" cy="463.9" r="2.1" fill="#000"/>
<circle cx="962.0" cy="463.1" r="2.1" fill="#000"/>
<circle cx="954.9" cy="470.5" r="2.1" fill="#000"/>
<circle cx="962.0" cy="469.2" r="2.1" fill="#000"/>
<circle cx="981.9" cy="452.7" r="2.1" fill="#000"/>
<circle cx="978.2" cy="461.5" r="2.1" fill="#000"/>
<circle cx="985.6" cy="460.6" r="2.1" fill="#000"/>
<circle cx="978.2" cy="466.3" r="2.1" fill="#000"/>
<circle cx="985.6" cy="468.5" r="2.1" fill="#000"/>
<circle cx="978.2" cy="471.5" r="2.1" fill="#000"/>
<circle cx="1021.7" cy="527.4" r="2.1" fill="#000"/>
<circle cx="1021.7" cy="551.0" r="2.1" fill="#000"/>
<circle cx="1021.7" cy="562.3" r="2.1" fill="#000"/>
<circle cx="1021.7" cy="584.3" r="2.1" fill="#000"/>
<circle cx="1021.7" cy="620.8" r="2.1" fill="#000"/>
<circle cx="1021.7" cy="642.6" r="2.1" fill="#000"/>
<circle cx="1045.3" cy="636.3" r="2.1" fill="#000"/>
<circle cx="1045.3" cy="653.6" r="2.1" fill="#000"/>
<circle cx="1041.6" cy="673.0" r="2.1" fill="#000"/>
<circle cx="1049.0" cy="668.5" r="2.1" fill="#000"/>
<circle cx="1049.0" cy="673.8" r="2.1" fill="#000"/>
<circle cx="1045.3" cy="696.1" r="2.1" fill="#000"/>
<circle cx="1068.9" cy="604.5" r="2.1" fill="#000"/>
<circle cx="1068.9" cy="641.0" r="2.1" fill="#000"/>
<circle cx="1065.2" cy="647.5" r="2.1" fill="#000"/>
<circle cx="1072.6" cy="646.2" r="2.1" fill="#000"/>
<circle cx="1065.2" cy="656.7" r="2.1" fill="#000"/>
<circle cx="1072.6" cy="656.2" r="2.1" fill="#000"/>
<circle cx="1086.7" cy="649.4" r="2.1" fill="#000"/>
<circle cx="1098.3" cy="649.6" r="2.1" fill="#000"/>
<circle cx="1092.5" cy="652.8" r="2.1" fill="#000"/>
<circle cx="1092.5" cy="657.2" r="2.1" fill="#000"/>
<circle cx="1092.5" cy="663.3" r="2.1" fill="#000"/>
<circle cx="1092.5" cy="675.1" r="2.1" fill="#000"/>
<circle cx="1132.3" cy="546.3" r="2.1" fill="#000"/>
<circle cx="1132.3" cy="580.7" r="2.1" fill="#000"/>
<circle cx="1132.3" cy="597.2" r="2.1" fill="#000"/>
<circle cx="1128.6" cy="618.4" r="2.1" fill="#000"/>
<circle cx="1136.0" cy="619.5" r="2.1" fill="#000"/>
<circle cx="1132.3" cy="639.1" r="2.1" fill="#000"/>
<circle cx="1155.9" cy="638.9" r="2.1" fill="#000"/>
<circle cx="1155.9" cy="649.9" r="2.1" fill="#000"/>
<circle cx="1155.9" cy="692.7" r="2.1" fill="#000"/>
<circle cx="1150.1" cy="700.8" r="2.1" fill="#000"/>
<circle cx="1155.9" cy="700.0" r="2.1" fill="#000"/>
<circle cx="1161.7" cy="700.8" r="2.1" fill="#000"/>
<circle cx="1179.5" cy="634.4" r="2.1" fill="#000"/>
<circle cx="1175.8" cy="651.5" r="2.1" fill="#000"/>
<circle cx="1183.2" cy="654.1" r="2.1" fill="#000"/>
<circle cx="1179.5" cy="661.4" r="2.1" fill="#000"/>
<circle cx="1175.8" cy="672.5" r="2.1" fill="#000"/>
<circle cx="1183.2" cy="669.8" r="2.1" fill="#000"/>
<circle cx="1199.2" cy="616.9" r="2.1" fill="#000"/>
<circle cx="1206.5" cy="616.1" r="2.1" fill="#000"/>
<circle cx="1203.1" cy="643.6" r="2.1" fill="#000"/>
<circle cx="1203.1" cy="685.0" r="2.1" fill="#000"/>
<circle cx="1199.2" cy="701.3" r="2.1" fill="#000"/>
<circle cx="1206.5" cy="699.7" r="2.1" fill="#000"/>
<circle cx="1242.9" cy="559.9" r="2.1" fill="#000"/>
<circle cx="1242.9" cy="590.6" r="2.1" fill="#000"/>
<circle cx="1242.9" cy="602.2" r="2.1" fill="#000"/>
<circle cx="1242.9" cy="633.1" r="2.1" fill="#000"/>
<circle cx="1242.9" cy="651.0" r="2.1" fill="#000"/>
<circle cx="1242.9" cy="664.1" r="2.1" fill="#000"/>
<circle cx="1266.5" cy="648.9" r="2.1" fill="#000"/>
<circle cx="1266.5" cy="680.3" r="2.1" fill="#000"/>
<circle cx="1260.7" cy="701.3" r="2.1" fill="#000"/>
<circle cx="1266.5" cy="700.3" r="2.1" fill="#000"/>
<circle cx="1272.3" cy="698.2" r="2.1" fill="#000"/>
<circle cx="1272.3" cy="701.3" r="2.1" fill="#000"/>
<circle cx="1290.1" cy="665.1" r="2.1" fill="#000"/>
<circle cx="1284.3" cy="680.3" r="2.1" fill="#000"/>
<circle cx="1290.1" cy="681.6" r="2.1" fill="#000"/>
<circle cx="1295.9" cy="679.8" r="2.1" fill="#000"/>
<circle cx="1284.3" cy="684.5" r="2.1" fill="#000"/>
<circle cx="1295.9" cy="684.5" r="2.1" fill="#000"/>
<circle cx="1313.7" cy="669.6" r="2.1" fill="#000"/>
<circle cx="1307.9" cy="675.9" r="2.1" fill="#000"/>
<circle cx="1313.7" cy="678.5" r="2.1" fill="#000"/>
<circle cx="1307.9" cy="688.2" r="2.1" fill="#000"/>
<circle cx="1313.7" cy="685.0" r="2.1" fill="#000"/>
<circle cx="1319.7" cy="687.4" r="2.1" fill="#000"/>
<circle cx="1353.5" cy="612.4" r="2.1" fill="#000"/>
<circle cx="1353.5" cy="626.3" r="2.1" fill="#000"/>
<circle cx="1353.5" cy="650.2" r="2.1" fill="#000"/>
<circle cx="1353.5" cy="675.6" r="2.1" fill="#000"/>
<circle cx="1349.8" cy="683.5" r="2.1" fill="#000"/>
<circle cx="1357.2" cy="683.5" r="2.1" fill="#000"/>
<circle cx="1377.1" cy="663.3" r="2.1" fill="#000"/>
<circle cx="1377.1" cy="692.7" r="2.1" fill="#000"/>
<circle cx="1371.1" cy="700.8" r="2.1" fill="#000"/>
<circle cx="1375.3" cy="700.8" r="2.1" fill="#000"/>
<circle cx="1379.5" cy="700.8" r="2.1" fill="#000"/>
<circle cx="1383.1" cy="700.8" r="2.1" fill="#000"/>
<circle cx="1400.7" cy="682.7" r="2.1" fill="#000"/>
<circle cx="1400.7" cy="700.0" r="2.1" fill="#000"/>
<circle cx="1395.5" cy="701.8" r="2.1" fill="#000"/>
<circle cx="1398.1" cy="701.8" r="2.1" fill="#000"/>
<circle cx="1403.3" cy="701.8" r="2.1" fill="#000"/>
<circle cx="1406.5" cy="701.8" r="2.1" fill="#000"/>
<circle cx="1424.3" cy="686.6" r="2.1" fill="#000"/>
<circle cx="1424.3" cy="698.2" r="2.1" fill="#000"/>
<circle cx="1418.5" cy="700.8" r="2.1" fill="#000"/>
<circle cx="1422.2" cy="701.3" r="2.1" fill="#000"/>
<circle cx="1426.4" cy="701.3" r="2.1" fill="#000"/>
<circle cx="1430.1" cy="701.3" r="2.1" fill="#000"/>
<line x1="1019.8" y1="362.4" x2="1092.7" y2="362.4" stroke="#000" stroke-width="1.95"/>
<text x="1055.9" y="362.8" font-size="18" text-anchor="middle" fill="#222" xml:space="preserve">***</text>
<line x1="1018.8" y1="385.0" x2="1065.4" y2="385.0" stroke="#000" stroke-width="1.95"/>
<text x="1043.0" y="385.8" font-size="18" text-anchor="middle" fill="#222" xml:space="preserve">***</text>
<line x1="1018.8" y1="408.6" x2="1044.2" y2="408.6" stroke="#000" stroke-width="1.95"/>
<text x="1031.7" y="408.1" font-size="18" text-anchor="middle" fill="#222" xml:space="preserve">***</text>
<line x1="1131.0" y1="362.4" x2="1203.9" y2="362.4" stroke="#000" stroke-width="1.95"/>
<text x="1166.8" y="362.8" font-size="18" text-anchor="middle" fill="#222" xml:space="preserve">***</text>
<line x1="1130.0" y1="385.0" x2="1176.9" y2="385.0" stroke="#000" stroke-width="1.95"/>
<text x="1154.4" y="385.8" font-size="18" text-anchor="middle" fill="#222" xml:space="preserve">***</text>
<line x1="1130.0" y1="408.6" x2="1155.4" y2="408.6" stroke="#000" stroke-width="1.95"/>
<text x="1143.2" y="408.1" font-size="18" text-anchor="middle" fill="#222" xml:space="preserve">***</text>
<line x1="1239.9" y1="362.4" x2="1312.5" y2="362.4" stroke="#000" stroke-width="1.95"/>
<text x="1275.1" y="362.8" font-size="18" text-anchor="middle" fill="#222" xml:space="preserve">***</text>
<line x1="1238.6" y1="385.0" x2="1285.2" y2="385.0" stroke="#000" stroke-width="1.95"/>
<text x="1262.6" y="385.8" font-size="18" text-anchor="middle" fill="#222" xml:space="preserve">***</text>
<line x1="1238.6" y1="408.6" x2="1264.0" y2="408.6" stroke="#000" stroke-width="1.95"/>
<text x="1251.5" y="408.1" font-size="18" text-anchor="middle" fill="#222" xml:space="preserve">***</text>
<line x1="1345.0" y1="363.5" x2="1417.7" y2="363.5" stroke="#000" stroke-width="1.95"/>
<text x="1380.6" y="363.8" font-size="18" text-anchor="middle" fill="#222" xml:space="preserve">***</text>
<line x1="1343.5" y1="386.0" x2="1390.4" y2="386.0" stroke="#000" stroke-width="1.95"/>
<text x="1368.0" y="386.9" font-size="18" text-anchor="middle" fill="#222" xml:space="preserve">***</text>
<line x1="1343.5" y1="410.2" x2="1368.9" y2="410.2" stroke="#000" stroke-width="1.95"/>
<text x="1357.0" y="409.4" font-size="18" text-anchor="middle" fill="#222" xml:space="preserve">***</text>
<text x="827.4" y="527.2" font-size="24.2" text-anchor="middle" transform="rotate(-90 827.4 527.2)" xml:space="preserve">Relative level of  HBeAg</text>
<rect x="1385.7" y="471.8" width="25.4" height="17.0" fill="#f28d87"/>
<text x="1422.1" y="490.2" font-size="24.2" xml:space="preserve">Model</text>
<rect x="1385.7" y="502.2" width="25.4" height="17.0" fill="#bfdfe9"/>
<text x="1422.1" y="517.9" font-size="24.2" xml:space="preserve">ETV</text>
<rect x="1385.7" y="532.6" width="25.4" height="17.0" fill="#d8c3e7"/>
<text x="1422.1" y="549.6" font-size="24.2" xml:space="preserve">STE (0.2 g/kg)</text>
<rect x="1385.7" y="563.0" width="25.4" height="17.0" fill="#d7e4d3"/>
<text x="1422.1" y="581.0" font-size="24.2" xml:space="preserve">STE (0.4 g/kg)</text>
</g>
<g id="panelD">
<text x="10.0" y="771.8" font-size="25" font-weight="bold" xml:space="preserve">D</text>
<rect x="95.7" y="991.9" width="15.8" height="180.4" fill="#f28d87"/>
<rect x="119.0" y="994.8" width="15.8" height="177.5" fill="#bfdfe9"/>
<rect x="142.3" y="988.2" width="15.8" height="184.1" fill="#d8c3e7"/>
<rect x="165.6" y="986.1" width="15.8" height="186.2" fill="#d7e4d3"/>
<rect x="204.8" y="1011.8" width="15.8" height="160.5" fill="#f28d87"/>
<rect x="228.1" y="1082.6" width="15.8" height="89.7" fill="#bfdfe9"/>
<rect x="251.3" y="1071.6" width="15.8" height="100.7" fill="#d8c3e7"/>
<rect x="274.6" y="1100.2" width="15.8" height="72.1" fill="#d7e4d3"/>
<rect x="313.8" y="1042.8" width="15.8" height="129.5" fill="#f28d87"/>
<rect x="337.1" y="1095.7" width="15.8" height="76.6" fill="#bfdfe9"/>
<rect x="360.4" y="1075.5" width="15.8" height="96.8" fill="#d8c3e7"/>
<rect x="383.7" y="1097.0" width="15.8" height="75.3" fill="#d7e4d3"/>
<rect x="422.8" y="1049.8" width="15.8" height="122.5" fill="#f28d87"/>
<rect x="446.1" y="1128.0" width="15.8" height="44.3" fill="#bfdfe9"/>
<rect x="469.4" y="1114.6" width="15.8" height="57.7" fill="#d8c3e7"/>
<rect x="492.8" y="1136.4" width="15.8" height="35.9" fill="#d7e4d3"/>
<rect x="531.9" y="1064.3" width="15.8" height="108.0" fill="#f28d87"/>
<rect x="555.2" y="1165.2" width="15.8" height="7.1" fill="#bfdfe9"/>
<rect x="578.5" y="1135.1" width="15.8" height="37.2" fill="#d8c3e7"/>
<rect x="601.8" y="1157.9" width="15.8" height="14.4" fill="#d7e4d3"/>
<line x1="103.6" y1="991.9" x2="103.6" y2="977.7" stroke="#f58f8b" stroke-width="1.6"/>
<line x1="99.6" y1="977.7" x2="107.6" y2="977.7" stroke="#f58f8b" stroke-width="1.6"/>
<line x1="126.9" y1="994.8" x2="126.9" y2="978.5" stroke="#7fc4e0" stroke-width="1.6"/>
<line x1="122.9" y1="978.5" x2="130.9" y2="978.5" stroke="#7fc4e0" stroke-width="1.6"/>
<line x1="150.2" y1="988.2" x2="150.2" y2="975.9" stroke="#a97fd6" stroke-width="1.6"/>
<line x1="146.2" y1="975.9" x2="154.2" y2="975.9" stroke="#a97fd6" stroke-width="1.6"/>
<line x1="173.5" y1="986.1" x2="173.5" y2="975.6" stroke="#a9cfa3" stroke-width="1.6"/>
<line x1="169.5" y1="975.6" x2="177.5" y2="975.6" stroke="#a9cfa3" stroke-width="1.6"/>
<line x1="212.7" y1="1011.8" x2="212.7" y2="1001.3" stroke="#f58f8b" stroke-width="1.6"/>
<line x1="208.7" y1="1001.3" x2="216.7" y2="1001.3" stroke="#f58f8b" stroke-width="1.6"/>
<line x1="236.0" y1="1082.6" x2="236.0" y2="1071.6" stroke="#7fc4e0" stroke-width="1.6"/>
<line x1="232.0" y1="1071.6" x2="240.0" y2="1071.6" stroke="#7fc4e0" stroke-width="1.6"/>
<line x1="259.2" y1="1071.6" x2="259.2" y2="1069.0" stroke="#a97fd6" stroke-width="1.6"/>
<line x1="255.2" y1="1069.0" x2="263.2" y2="1069.0" stroke="#a97fd6" stroke-width="1.6"/>
<line x1="282.5" y1="1100.2" x2="282.5" y2="1095.2" stroke="#a9cfa3" stroke-width="1.6"/>
<line x1="278.5" y1="1095.2" x2="286.5" y2="1095.2" stroke="#a9cfa3" stroke-width="1.6"/>
<line x1="321.7" y1="1042.8" x2="321.7" y2="1033.0" stroke="#f58f8b" stroke-width="1.6"/>
<line x1="317.7" y1="1033.0" x2="325.7" y2="1033.0" stroke="#f58f8b" stroke-width="1.6"/>
<line x1="345.0" y1="1095.7" x2="345.0" y2="1091.5" stroke="#7fc4e0" stroke-width="1.6"/>
<line x1="341.0" y1="1091.5" x2="349.0" y2="1091.5" stroke="#7fc4e0" stroke-width="1.6"/>
<line x1="368.3" y1="1075.5" x2="368.3" y2="1068.2" stroke="#a97fd6" stroke-width="1.6"/>
<line x1="364.3" y1="1068.2" x2="372.3" y2="1068.2" stroke="#a97fd6" stroke-width="1.6"/>
<line x1="391.6" y1="1097.0" x2="391.6" y2="1093.6" stroke="#a9cfa3" stroke-width="1.6"/>
<line x1="387.6" y1="1093.6" x2="395.6" y2="1093.6" stroke="#a9cfa3" stroke-width="1.6"/>
<line x1="430.7" y1="1049.8" x2="430.7" y2="1041.2" stroke="#f58f8b" stroke-width="1.6"/>
<line x1="426.7" y1="1041.2" x2="434.7" y2="1041.2" stroke="#f58f8b" stroke-width="1.6"/>
<line x1="454.0" y1="1128.0" x2="454.0" y2="1122.0" stroke="#7fc4e0" stroke-width="1.6"/>
<line x1="450.0" y1="1122.0" x2="458.0" y2="1122.0" stroke="#7fc4e0" stroke-width="1.6"/>
<line x1="477.3" y1="1114.6" x2="477.3" y2="1108.9" stroke="#a97fd6" stroke-width="1.6"/>
<line x1="473.3" y1="1108.9" x2="481.3" y2="1108.9" stroke="#a97fd6" stroke-width="1.6"/>
<line x1="500.6" y1="1136.4" x2="500.6" y2="1131.1" stroke="#a9cfa3" stroke-width="1.6"/>
<line x1="496.6" y1="1131.1" x2="504.6" y2="1131.1" stroke="#a9cfa3" stroke-width="1.6"/>
<line x1="539.8" y1="1064.3" x2="539.8" y2="1055.1" stroke="#f58f8b" stroke-width="1.6"/>
<line x1="535.8" y1="1055.1" x2="543.8" y2="1055.1" stroke="#f58f8b" stroke-width="1.6"/>
<line x1="563.1" y1="1165.2" x2="563.1" y2="1160.3" stroke="#7fc4e0" stroke-width="1.6"/>
<line x1="559.1" y1="1160.3" x2="567.1" y2="1160.3" stroke="#7fc4e0" stroke-width="1.6"/>
<line x1="586.4" y1="1135.1" x2="586.4" y2="1122.5" stroke="#a97fd6" stroke-width="1.6"/>
<line x1="582.4" y1="1122.5" x2="590.4" y2="1122.5" stroke="#a97fd6" stroke-width="1.6"/>
<line x1="609.7" y1="1157.9" x2="609.7" y2="1151.3" stroke="#a9cfa3" stroke-width="1.6"/>
<line x1="605.7" y1="1151.3" x2="613.7" y2="1151.3" stroke="#a9cfa3" stroke-width="1.6"/>
<line x1="88.4" y1="821.3" x2="88.4" y2="1174.0" stroke="#000" stroke-width="3.4"/>
<line x1="73.4" y1="1172.3" x2="627.6" y2="1172.3" stroke="#000" stroke-width="3.4"/>
<line x1="73.1" y1="823.0" x2="88.4" y2="823.0" stroke="#000" stroke-width="3.4"/>
<text transform="translate(63.7 831.6) scale(1 1.04)" font-size="23.2" text-anchor="end">8</text>
<line x1="73.1" y1="910.3" x2="88.4" y2="910.3" stroke="#000" stroke-width="3.4"/>
<text transform="translate(63.7 918.2) scale(1 1.04)" font-size="23.2" text-anchor="end">6</text>
<line x1="73.1" y1="997.9" x2="88.4" y2="997.9" stroke="#000" stroke-width="3.4"/>
<text transform="translate(63.7 1005.6) scale(1 1.04)" font-size="23.2" text-anchor="end">4</text>
<line x1="73.1" y1="1085.2" x2="88.4" y2="1085.2" stroke="#000" stroke-width="3.4"/>
<text transform="translate(63.7 1091.0) scale(1 1.04)" font-size="23.2" text-anchor="end">2</text>
<line x1="73.1" y1="1172.3" x2="88.4" y2="1172.3" stroke="#000" stroke-width="3.4"/>
<text transform="translate(63.7 1178.0) scale(1 1.04)" font-size="23.2" text-anchor="end">0</text>
<line x1="138.6" y1="1172.3" x2="138.6" y2="1187.6" stroke="#000" stroke-width="3.9"/>
<text transform="translate(137.2 1213.2) scale(1 1.05)" font-size="24" text-anchor="middle">0</text>
<line x1="247.6" y1="1172.3" x2="247.6" y2="1187.6" stroke="#000" stroke-width="3.9"/>
<text transform="translate(245.2 1213.2) scale(1 1.05)" font-size="24" text-anchor="middle">1</text>
<line x1="356.6" y1="1172.3" x2="356.6" y2="1187.6" stroke="#000" stroke-width="3.9"/>
<text transform="translate(356.2 1213.2) scale(1 1.05)" font-size="24" text-anchor="middle">2</text>
<line x1="465.6" y1="1172.3" x2="465.6" y2="1187.6" stroke="#000" stroke-width="3.9"/>
<text transform="translate(465.2 1213.2) scale(1 1.05)" font-size="24" text-anchor="middle">3</text>
<line x1="574.6" y1="1172.3" x2="574.6" y2="1187.6" stroke="#000" stroke-width="3.9"/>
<text transform="translate(576.2 1213.2) scale(1 1.05)" font-size="24" text-anchor="middle">4</text>
<text x="608.6" y="1213.2" font-size="24" xml:space="preserve">Time (week)</text>
<circle cx="103.6" cy="950.2" r="2.1" fill="#000"/>
<circle cx="99.7" cy="965.4" r="2.1" fill="#000"/>
<circle cx="107.0" cy="968.5" r="2.1" fill="#000"/>
<circle cx="103.6" cy="1010.2" r="2.1" fill="#000"/>
<circle cx="103.6" cy="1022.8" r="2.1" fill="#000"/>
<circle cx="103.6" cy="1032.8" r="2.1" fill="#000"/>
<circle cx="122.7" cy="953.6" r="2.1" fill="#000"/>
<circle cx="130.3" cy="950.4" r="2.1" fill="#000"/>
<circle cx="126.9" cy="975.9" r="2.1" fill="#000"/>
<circle cx="126.9" cy="1021.0" r="2.1" fill="#000"/>
<circle cx="126.9" cy="1027.3" r="2.1" fill="#000"/>
<circle cx="126.9" cy="1038.8" r="2.1" fill="#000"/>
<circle cx="150.2" cy="950.2" r="2.1" fill="#000"/>
<circle cx="150.2" cy="957.8" r="2.1" fill="#000"/>
<circle cx="150.2" cy="983.2" r="2.1" fill="#000"/>
<circle cx="150.2" cy="1001.6" r="2.1" fill="#000"/>
<circle cx="150.2" cy="1010.2" r="2.1" fill="#000"/>
<circle cx="150.2" cy="1024.9" r="2.1" fill="#000"/>
<circle cx="173.5" cy="951.5" r="2.1" fill="#000"/>
<circle cx="173.5" cy="958.6" r="2.1" fill="#000"/>
<circle cx="169.8" cy="992.1" r="2.1" fill="#000"/>
<circle cx="177.2" cy="990.8" r="2.1" fill="#000"/>
<circle cx="169.8" cy="1013.1" r="2.1" fill="#000"/>
<circle cx="177.2" cy="1012.1" r="2.1" fill="#000"/>
<circle cx="212.7" cy="975.6" r="2.1" fill="#000"/>
<circle cx="212.7" cy="986.6" r="2.1" fill="#000"/>
<circle cx="212.7" cy="1018.9" r="2.1" fill="#000"/>
<circle cx="209.0" cy="1024.9" r="2.1" fill="#000"/>
<circle cx="216.3" cy="1027.5" r="2.1" fill="#000"/>
<circle cx="212.7" cy="1036.7" r="2.1" fill="#000"/>
<circle cx="236.0" cy="1042.0" r="2.1" fill="#000"/>
<circle cx="236.0" cy="1064.0" r="2.1" fill="#000"/>
<circle cx="236.0" cy="1080.5" r="2.1" fill="#000"/>
<circle cx="232.3" cy="1093.6" r="2.1" fill="#000"/>
<circle cx="239.6" cy="1096.3" r="2.1" fill="#000"/>
<circle cx="236.0" cy="1119.1" r="2.1" fill="#000"/>
<circle cx="259.2" cy="1061.1" r="2.1" fill="#000"/>
<circle cx="255.6" cy="1068.2" r="2.1" fill="#000"/>
<circle cx="262.9" cy="1070.3" r="2.1" fill="#000"/>
<circle cx="259.2" cy="1073.4" r="2.1" fill="#000"/>
<circle cx="255.6" cy="1079.2" r="2.1" fill="#000"/>
<circle cx="262.9" cy="1078.2" r="2.1" fill="#000"/>
<circle cx="278.9" cy="1086.8" r="2.1" fill="#000"/>
<circle cx="286.2" cy="1085.5" r="2.1" fill="#000"/>
<circle cx="282.5" cy="1099.7" r="2.1" fill="#000"/>
<circle cx="278.9" cy="1107.0" r="2.1" fill="#000"/>
<circle cx="286.2" cy="1108.9" r="2.1" fill="#000"/>
<circle cx="282.5" cy="1114.6" r="2.1" fill="#000"/>
<circle cx="321.7" cy="1011.5" r="2.1" fill="#000"/>
<circle cx="321.7" cy="1028.3" r="2.1" fill="#000"/>
<circle cx="321.7" cy="1034.4" r="2.1" fill="#000"/>
<circle cx="321.7" cy="1045.9" r="2.1" fill="#000"/>
<circle cx="321.7" cy="1060.3" r="2.1" fill="#000"/>
<circle cx="321.7" cy="1076.1" r="2.1" fill="#000"/>
<circle cx="338.7" cy="1086.6" r="2.1" fill="#000"/>
<circle cx="345.0" cy="1087.6" r="2.1" fill="#000"/>
<circle cx="341.6" cy="1093.1" r="2.1" fill="#000"/>
<circle cx="350.2" cy="1095.0" r="2.1" fill="#000"/>
<circle cx="345.0" cy="1096.3" r="2.1" fill="#000"/>
<circle cx="345.0" cy="1118.3" r="2.1" fill="#000"/>
<circle cx="368.3" cy="1051.7" r="2.1" fill="#000"/>
<circle cx="364.6" cy="1066.6" r="2.1" fill="#000"/>
<circle cx="372.0" cy="1070.0" r="2.1" fill="#000"/>
<circle cx="368.3" cy="1077.4" r="2.1" fill="#000"/>
<circle cx="368.3" cy="1082.6" r="2.1" fill="#000"/>
<circle cx="368.3" cy="1106.8" r="2.1" fill="#000"/>
<circle cx="387.9" cy="1087.3" r="2.1" fill="#000"/>
<circle cx="395.3" cy="1087.9" r="2.1" fill="#000"/>
<circle cx="391.6" cy="1093.1" r="2.1" fill="#000"/>
<circle cx="387.9" cy="1101.0" r="2.1" fill="#000"/>
<circle cx="395.3" cy="1099.7" r="2.1" fill="#000"/>
<circle cx="387.9" cy="1106.8" r="2.1" fill="#000"/>
<circle cx="395.3" cy="1106.2" r="2.1" fill="#000"/>
<circle cx="430.7" cy="1020.7" r="2.1" fill="#000"/>
<circle cx="430.7" cy="1032.3" r="2.1" fill="#000"/>
<circle cx="430.7" cy="1044.1" r="2.1" fill="#000"/>
<circle cx="427.1" cy="1060.3" r="2.1" fill="#000"/>
<circle cx="434.4" cy="1063.0" r="2.1" fill="#000"/>
<circle cx="430.7" cy="1079.5" r="2.1" fill="#000"/>
<circle cx="454.0" cy="1107.5" r="2.1" fill="#000"/>
<circle cx="454.0" cy="1116.5" r="2.1" fill="#000"/>
<circle cx="454.0" cy="1123.3" r="2.1" fill="#000"/>
<circle cx="454.0" cy="1131.9" r="2.1" fill="#000"/>
<circle cx="454.0" cy="1139.5" r="2.1" fill="#000"/>
<circle cx="454.0" cy="1150.3" r="2.1" fill="#000"/>
<circle cx="473.7" cy="1102.3" r="2.1" fill="#000"/>
<circle cx="481.0" cy="1101.5" r="2.1" fill="#000"/>
<circle cx="473.7" cy="1111.5" r="2.1" fill="#000"/>
<circle cx="481.0" cy="1110.2" r="2.1" fill="#000"/>
<circle cx="477.3" cy="1125.4" r="2.1" fill="#000"/>
<circle cx="477.3" cy="1135.6" r="2.1" fill="#000"/>
<circle cx="500.6" cy="1124.1" r="2.1" fill="#000"/>
<circle cx="494.6" cy="1131.9" r="2.1" fill="#000"/>
<circle cx="500.6" cy="1131.1" r="2.1" fill="#000"/>
<circle cx="506.7" cy="1132.5" r="2.1" fill="#000"/>
<circle cx="500.6" cy="1136.9" r="2.1" fill="#000"/>
<circle cx="500.6" cy="1160.5" r="2.1" fill="#000"/>
<circle cx="536.4" cy="1047.5" r="2.1" fill="#000"/>
<circle cx="543.5" cy="1045.9" r="2.1" fill="#000"/>
<circle cx="536.4" cy="1053.8" r="2.1" fill="#000"/>
<circle cx="543.5" cy="1053.0" r="2.1" fill="#000"/>
<circle cx="539.8" cy="1088.9" r="2.1" fill="#000"/>
<circle cx="539.8" cy="1095.5" r="2.1" fill="#000"/>
<circle cx="560.5" cy="1150.0" r="2.1" fill="#000"/>
<circle cx="564.7" cy="1150.0" r="2.1" fill="#000"/>
<circle cx="586.4" cy="1098.9" r="2.1" fill="#000"/>
<circle cx="586.4" cy="1113.3" r="2.1" fill="#000"/>
<circle cx="586.4" cy="1121.4" r="2.1" fill="#000"/>
<circle cx="586.4" cy="1133.8" r="2.1" fill="#000"/>
<circle cx="606.3" cy="1140.1" r="2.1" fill="#000"/>
<circle cx="612.6" cy="1140.1" r="2.1" fill="#000"/>
<circle cx="609.7" cy="1150.3" r="2.1" fill="#000"/>
<line x1="207.7" y1="872.5" x2="280.1" y2="872.5" stroke="#000" stroke-width="1.95"/>
<text x="244.3" y="873.1" font-size="18" text-anchor="middle" fill="#222" xml:space="preserve">***</text>
<line x1="206.4" y1="895.3" x2="253.4" y2="895.3" stroke="#000" stroke-width="1.95"/>
<text x="230.4" y="895.4" font-size="18" text-anchor="middle" fill="#222" xml:space="preserve">***</text>
<line x1="206.4" y1="919.2" x2="231.9" y2="919.2" stroke="#000" stroke-width="1.95"/>
<text x="220.5" y="918.8" font-size="18" text-anchor="middle" fill="#222" xml:space="preserve">***</text>
<line x1="314.8" y1="872.5" x2="387.4" y2="872.5" stroke="#000" stroke-width="1.95"/>
<text x="352.9" y="873.1" font-size="18" text-anchor="middle" fill="#222" xml:space="preserve">***</text>
<line x1="313.4" y1="895.3" x2="360.1" y2="895.3" stroke="#000" stroke-width="1.95"/>
<text x="336.3" y="890.4" font-size="18" text-anchor="middle" xml:space="preserve">ns</text>
<line x1="313.4" y1="919.2" x2="338.9" y2="919.2" stroke="#000" stroke-width="1.95"/>
<text x="326.7" y="918.8" font-size="18" text-anchor="middle" fill="#222" xml:space="preserve">***</text>
<line x1="424.4" y1="871.7" x2="497.0" y2="871.7" stroke="#000" stroke-width="1.95"/>
<text x="463.9" y="872.3" font-size="18" text-anchor="middle" fill="#222" xml:space="preserve">***</text>
<line x1="423.1" y1="894.3" x2="470.0" y2="894.3" stroke="#000" stroke-width="1.95"/>
<text x="447.6" y="895.7" font-size="18" text-anchor="middle" fill="#222" xml:space="preserve">***</text>
<line x1="423.1" y1="918.2" x2="448.5" y2="918.2" stroke="#000" stroke-width="1.95"/>
<text x="436.3" y="918.2" font-size="18" text-anchor="middle" fill="#222" xml:space="preserve">***</text>
<line x1="532.7" y1="870.4" x2="605.4" y2="870.4" stroke="#000" stroke-width="1.95"/>
<text x="571.9" y="871.3" font-size="18" text-anchor="middle" fill="#222" xml:space="preserve">***</text>
<line x1="531.4" y1="893.0" x2="578.4" y2="893.0" stroke="#000" stroke-width="1.95"/>
<text x="554.4" y="895.7" font-size="18" text-anchor="middle" fill="#222" xml:space="preserve">***</text>
<line x1="531.4" y1="917.1" x2="556.9" y2="917.1" stroke="#000" stroke-width="1.95"/>
<text x="545.2" y="916.9" font-size="18" text-anchor="middle" fill="#222" xml:space="preserve">***</text>
<text x="21.5" y="985.0" font-size="24.2" text-anchor="middle" transform="rotate(-90 21.5 985.0)" xml:space="preserve">Serum HBV DNA level (log10)</text>
<rect x="569.2" y="962.0" width="25.4" height="17.0" fill="#f28d87"/>
<text x="606.1" y="980.4" font-size="24.2" xml:space="preserve">Model</text>
<rect x="569.2" y="992.4" width="25.4" height="17.0" fill="#bfdfe9"/>
<text x="606.1" y="1008.1" font-size="24.2" xml:space="preserve">ETV</text>
<rect x="569.2" y="1022.8" width="25.4" height="17.0" fill="#d8c3e7"/>
<text x="606.1" y="1039.8" font-size="24.2" xml:space="preserve">STE (0.2 g/kg)</text>
<rect x="569.2" y="1053.2" width="25.4" height="17.0" fill="#d7e4d3"/>
<text x="606.1" y="1071.2" font-size="24.2" xml:space="preserve">STE (0.4 g/kg)</text>
</g>
<g id="panelE">
<text x="816.5" y="781.2" font-size="23.5" font-weight="bold" xml:space="preserve">E</text>
<text x="925.6" y="846.6" font-size="24" text-anchor="middle" xml:space="preserve">Vehicle</text>
<text x="1321.9" y="846.6" font-size="24" text-anchor="middle" xml:space="preserve">pAAV-HBV1.2</text>
<line x1="864.0" y1="863.1" x2="992.0" y2="863.1" stroke="#000" stroke-width="2.6"/>
<line x1="1020.8" y1="863.1" x2="1593.9" y2="863.1" stroke="#000" stroke-width="2.6"/>
<text x="923.0" y="899.8" font-size="24" text-anchor="middle" xml:space="preserve">Control</text>
<text x="1067.8" y="899.8" font-size="24" text-anchor="middle" xml:space="preserve">Model</text>
<text x="1229.4" y="899.8" font-size="24" text-anchor="middle" xml:space="preserve">ETV (1 g/kg)</text>
<text x="1381.8" y="899.8" font-size="24" text-anchor="middle" xml:space="preserve">STE (0.2 g/kg)</text>
<text x="1532.3" y="899.8" font-size="24" text-anchor="middle" xml:space="preserve">STE (0.4 g/kg)</text>
<line x1="793.1" y1="924.7" x2="793.1" y2="1168.4" stroke="#000" stroke-width="2.6"/>
<text x="777.6" y="1048.5" font-size="24" text-anchor="middle" transform="rotate(-90 777.6 1048.5)" xml:space="preserve">HBcAg</text>
<text transform="translate(801.4 991.8) scale(1 1.06)" font-size="29.6" xml:space="preserve">10<tspan font-size="33" dx="0.6" dy="1.7" style="stroke-width:0.7px">×</tspan></text>
<text transform="translate(805.2 1122.9) scale(1 1.06)" font-size="29.6" xml:space="preserve">40<tspan font-size="33" dx="2.2" dy="1.7" style="stroke-width:0.7px">×</tspan></text>
<defs><filter id="bl" x="-5%" y="-5%" width="110%" height="110%"><feGaussianBlur stdDeviation="0.7"/></filter><filter id="bl2" x="-5%" y="-5%" width="110%" height="110%"><feGaussianBlur stdDeviation="0.8"/></filter>
<clipPath id="cp00"><rect x="864.0" y="909.8" width="128.4" height="128.4"/></clipPath>
<clipPath id="cp01"><rect x="1013.8" y="909.8" width="128.4" height="128.4"/></clipPath>
<clipPath id="cp02"><rect x="1164.1" y="909.8" width="128.4" height="128.4"/></clipPath>
<clipPath id="cp03"><rect x="1314.6" y="909.8" width="128.4" height="128.4"/></clipPath>
<clipPath id="cp04"><rect x="1464.7" y="909.8" width="128.4" height="128.4"/></clipPath>
<clipPath id="cp10"><rect x="864.0" y="1050.8" width="128.4" height="128.4"/></clipPath>
<clipPath id="cp11"><rect x="1013.8" y="1050.8" width="128.4" height="128.4"/></clipPath>
<clipPath id="cp12"><rect x="1164.1" y="1050.8" width="128.4" height="128.4"/></clipPath>
<clipPath id="cp13"><rect x="1314.6" y="1050.8" width="128.4" height="128.4"/></clipPath>
<clipPath id="cp14"><rect x="1464.7" y="1050.8" width="128.4" height="128.4"/></clipPath>
</defs>
<rect x="863.1" y="908.9" width="130.2" height="130.2" fill="#f5eff5"/>
<g clip-path="url(#cp00)"><g filter="url(#bl)">
<path d="M882.7 968.1h0M962.8 1000.2h0M957.8 965.4h0M966.5 978.1h0M874.4 968.3h0M870.2 1029.3h0M985.3 952.8h0M903.7 1008.2h0M890.2 932.7h0M888.2 954.3h0M944.3 1033.2h0M891.1 1032.3h0M935.2 1025.2h0M968.8 930.4h0M947.1 925.8h0M864.8 960.5h0M963.1 982.4h0M888.8 1017.6h0M981.1 940.3h0M921.5 991.5h0M979.6 926.1h0M935.0 1033.9h0M942.1 1001.7h0M963.3 974.8h0M901.2 985.5h0M931.7 953.8h0M973.4 956.4h0M926.0 1007.4h0M968.3 1023.9h0M947.5 942.2h0M972.6 1026.3h0M955.6 1008.1h0M929.8 973.1h0M938.7 928.7h0M950.6 1020.2h0M885.2 1006.4h0M954.5 925.4h0M870.6 986.1h0M892.2 949.6h0M943.6 993.2h0M959.9 982.6h0M906.8 911.5h0M878.7 934.6h0M931.3 1002.1h0M890.9 959.8h0M984.0 961.2h0M955.4 989.1h0M948.5 970.9h0M933.9 999.6h0M884.7 1012.1h0M975.8 915.9h0M889.5 941.7h0M876.2 927.8h0M946.2 925.6h0M872.7 1031.0h0M915.6 979.1h0M924.8 953.9h0M922.2 934.8h0M938.3 942.1h0M882.7 936.6h0M916.9 1029.0h0M940.6 1035.4h0M915.4 943.2h0M955.1 934.3h0M991.9 959.9h0M898.8 944.6h0M903.1 1029.8h0M991.1 981.4h0M893.8 911.1h0M874.3 948.0h0M946.4 990.1h0M973.3 1015.0h0M909.2 996.1h0M921.0 1003.1h0M887.7 1034.9h0M867.0 989.0h0M909.2 1012.4h0M882.5 1023.9h0M864.5 1004.0h0M954.1 974.8h0M886.4 958.8h0M921.3 937.1h0M884.7 1017.7h0M934.4 944.6h0M944.2 990.9h0M881.5 984.7h0M938.9 924.1h0M902.6 1020.4h0M938.2 938.5h0M914.5 968.6h0M954.8 1020.1h0M875.3 915.9h0M920.6 912.5h0M883.9 923.5h0M875.4 989.9h0M876.3 982.4h0M987.8 927.9h0M961.2 984.7h0M885.9 1031.5h0M958.4 958.5h0M977.8 923.2h0M970.8 1017.7h0M878.9 1027.1h0M964.5 1027.0h0M900.1 1004.4h0M963.9 954.5h0M868.6 911.7h0M928.9 980.0h0M880.1 990.7h0M870.8 971.1h0M929.5 936.0h0M870.2 1025.5h0M973.2 985.2h0M867.9 977.1h0M987.4 1008.1h0M952.2 915.0h0M938.1 939.7h0M990.4 911.3h0M892.6 1022.5h0M879.5 948.3h0M903.3 1022.8h0M953.2 1029.4h0M888.7 921.2h0M908.0 1008.0h0M943.3 1029.6h0M955.3 920.4h0M904.4 936.0h0M898.4 995.2h0M920.9 1006.7h0M866.1 1026.2h0M884.9 1005.0h0M972.2 915.3h0M933.5 1034.7h0M865.0 973.5h0M918.5 958.7h0M889.0 933.0h0M898.1 937.7h0M901.7 1025.3h0M985.6 943.2h0M867.6 944.0h0M973.7 932.4h0M948.8 921.8h0M909.2 931.6h0M943.0 957.3h0M963.2 976.2h0M915.8 912.7h0M971.4 914.9h0M928.0 1036.3h0M965.3 955.4h0M983.1 943.0h0M938.5 983.5h0M956.4 946.8h0M915.0 951.4h0M981.7 1004.4h0M907.6 1008.9h0M943.2 941.5h0M928.0 922.4h0M891.2 919.8h0M874.4 988.7h0M970.3 1016.7h0M892.2 1031.2h0M907.0 998.4h0M940.3 970.8h0M952.4 1023.9h0M953.2 975.1h0M974.4 1005.4h0M912.0 1035.2h0M915.7 915.0h0M987.4 1030.6h0M932.6 1005.9h0M953.2 922.5h0M965.9 990.3h0M987.7 971.2h0M899.7 1008.4h0M934.9 1021.6h0M869.6 997.5h0M980.5 933.2h0M875.7 972.7h0M947.7 990.7h0M931.9 953.3h0M955.1 1036.4h0M928.9 960.5h0M988.1 932.6h0M936.1 1017.4h0M965.3 1005.6h0M951.3 967.5h0M987.7 910.1h0M918.3 967.6h0M956.0 946.7h0M889.4 967.2h0M945.5 977.6h0M976.1 970.4h0M890.4 992.1h0M913.9 913.1h0M915.4 924.1h0M945.9 1025.5h0M957.9 1032.4h0M882.4 1016.8h0M961.8 940.6h0M924.7 932.0h0M903.7 977.0h0M913.8 959.7h0M955.1 996.6h0M879.0 982.9h0M963.6 914.0h0M959.7 912.5h0M918.9 958.8h0M866.7 919.4h0M949.9 944.1h0M930.5 930.7h0M942.9 1029.6h0M960.4 956.8h0M986.7 954.7h0M899.7 963.9h0M990.2 959.4h0M901.3 979.4h0M945.5 1007.0h0M954.9 996.0h0M916.8 966.0h0M989.7 973.2h0M961.5 955.9h0M865.5 960.0h0M930.9 961.0h0M891.0 930.5h0M870.5 1000.3h0M931.6 1014.3h0M974.6 1006.2h0M965.8 1025.5h0M981.1 1014.9h0M978.8 954.5h0M991.7 1024.2h0M968.1 1018.6h0M959.6 983.4h0M930.4 1029.1h0M900.8 992.4h0M983.6 943.9h0M884.2 949.7h0M920.7 974.9h0M894.0 940.9h0M882.9 970.2h0M882.2 955.0h0M886.2 990.9h0M943.5 939.3h0M992.0 946.3h0M980.2 948.3h0M936.0 985.4h0M938.1 953.2h0M965.3 989.6h0M935.9 971.6h0M900.4 962.1h0M958.1 1000.8h0M991.5 1003.1h0M991.1 951.9h0M899.5 1037.5h0M918.6 984.1h0M975.3 925.9h0M879.3 969.7h0M889.7 917.8h0M955.3 980.4h0M922.3 991.7h0M903.2 960.6h0M907.0 992.4h0M922.8 983.9h0M934.4 982.7h0M869.9 1009.8h0M980.4 918.8h0M959.1 983.0h0M958.9 912.0h0M868.6 979.6h0M935.0 923.4h0M963.5 922.4h0M978.3 1011.9h0M956.7 1019.5h0M901.4 988.2h0M867.0 1006.0h0M887.3 916.3h0M961.4 917.7h0M946.4 1032.7h0M933.3 980.0h0M961.4 1005.0h0M928.1 916.5h0M990.1 1003.1h0M925.3 995.3h0M896.2 939.7h0M869.1 960.7h0M936.5 922.9h0M887.8 959.6h0M864.1 1013.5h0M884.8 1025.9h0M937.1 949.7h0M873.2 990.5h0M871.6 952.6h0M991.8 1016.0h0M955.0 984.7h0M943.3 1005.2h0M976.3 922.5h0M978.7 1034.8h0M938.7 952.3h0M870.8 953.9h0M868.7 996.6h0M940.2 1003.5h0M975.4 950.2h0M960.1 1004.5h0M935.6 917.9h0M974.8 980.4h0M923.6 1019.0h0M879.0 914.3h0M949.3 1001.5h0M931.9 981.4h0M962.9 1015.5h0M947.1 1003.7h0M929.2 931.1h0M966.5 916.0h0M885.7 983.0h0M911.1 1023.6h0M902.6 972.8h0M888.3 1017.8h0M910.3 1001.7h0M958.3 967.5h0M878.8 1033.4h0M868.8 1015.6h0M884.3 964.9h0M920.9 964.3h0M939.5 996.5h0M950.9 918.4h0M911.6 934.2h0M988.0 979.1h0M990.8 936.8h0M951.8 976.5h0M906.3 934.3h0M941.5 1023.8h0M927.3 976.1h0M985.1 943.1h0M909.2 1022.8h0M874.3 914.6h0M949.0 971.6h0M980.2 982.8h0M899.7 994.7h0M921.0 990.3h0M889.3 918.1h0M980.6 1017.8h0M883.4 923.6h0M970.1 1000.6h0M921.5 1018.5h0M968.7 1015.3h0M981.1 1013.5h0M864.4 991.8h0M876.2 1024.4h0M969.5 987.5h0M920.1 997.9h0M902.1 998.1h0M987.2 914.8h0M914.1 1013.1h0M887.1 954.9h0M968.7 983.1h0M897.7 961.2h0M910.8 975.1h0M991.2 941.7h0M905.4 1023.9h0M926.5 992.6h0M975.1 922.8h0M886.8 928.1h0M886.7 917.9h0M894.4 1027.2h0M979.2 997.7h0M930.1 1005.4h0M986.5 946.1h0M957.6 926.2h0M912.9 977.2h0M944.4 936.4h0M916.8 931.3h0M910.5 1012.8h0M894.8 952.0h0M941.1 934.2h0M977.0 951.4h0M902.7 950.8h0M922.2 967.4h0M915.9 963.0h0M889.0 918.2h0M974.8 1016.8h0M959.3 972.0h0M987.4 926.5h0M870.7 1028.6h0M933.6 979.2h0M930.2 1001.7h0M949.0 1004.8h0M929.9 1010.8h0M949.0 1016.4h0M963.2 926.3h0M921.0 995.9h0M955.6 966.7h0M940.0 1023.2h0M892.3 944.3h0M903.0 928.8h0M940.7 984.7h0M990.4 977.7h0M894.5 923.2h0M940.5 928.2h0M881.1 969.4h0M968.0 947.3h0M898.8 916.4h0M987.6 1012.3h0M931.5 919.6h0M985.4 987.3h0M954.8 995.2h0M935.4 962.5h0M961.8 921.4h0M899.0 981.9h0M922.8 974.3h0M936.3 923.8h0M885.8 910.5h0M949.3 992.0h0M866.6 934.6h0M906.0 1011.6h0M959.4 933.5h0M922.5 984.3h0M965.6 933.6h0M890.4 1008.4h0M953.0 948.9h0M895.6 967.1h0" stroke="#e3d9e6" stroke-width="1.3" stroke-linecap="round" fill="none"/>
<path d="M868.6 989.8h0M964.9 937.2h0M976.9 1018.2h0M871.1 1007.0h0M963.8 986.1h0M893.1 971.3h0M985.8 987.2h0M987.1 1014.5h0M940.8 1014.9h0M924.4 927.8h0M934.5 935.4h0M903.4 921.0h0M931.3 1008.9h0M991.9 1006.9h0M955.7 1007.5h0M893.8 988.5h0M980.8 994.2h0M913.5 1003.4h0M977.0 964.1h0M893.1 954.4h0M957.3 936.1h0M891.1 1033.0h0M869.8 923.0h0M967.1 994.5h0M976.7 1028.7h0M887.3 1004.0h0M898.6 995.9h0M870.9 1008.1h0M890.6 993.4h0M922.7 994.4h0M916.0 912.9h0M903.0 942.6h0M991.9 915.7h0M962.8 927.1h0M906.4 1000.7h0M935.8 914.0h0M900.4 948.0h0M946.7 975.5h0M922.5 911.6h0M920.4 969.0h0M882.3 982.0h0M882.5 958.9h0M880.4 955.8h0M875.3 982.3h0M940.8 1030.4h0M903.5 924.6h0M915.9 1004.2h0M894.4 1032.1h0M897.0 992.0h0M878.0 984.0h0M962.5 974.2h0M900.4 982.7h0M991.1 943.8h0M959.1 978.9h0M990.5 945.0h0M972.6 913.8h0M984.4 916.3h0M906.1 938.8h0M899.9 1022.7h0M891.1 984.4h0M941.1 917.4h0M962.0 1033.6h0M930.6 935.5h0M902.7 983.6h0M987.5 1005.6h0M900.8 927.9h0M957.8 972.9h0M905.2 1014.2h0M903.7 1007.6h0M962.2 1010.8h0M895.6 972.8h0M978.1 946.2h0M875.7 917.0h0M945.1 972.1h0M956.3 1029.0h0M938.0 964.4h0M977.1 998.0h0M871.4 944.4h0M941.8 938.3h0M991.4 916.2h0M979.3 1029.7h0M913.4 956.5h0M937.8 941.7h0M991.4 992.5h0M930.1 944.0h0M938.6 987.7h0M957.7 1003.0h0M957.8 920.9h0M925.5 959.9h0M965.5 938.7h0M904.8 945.8h0M904.5 1029.9h0M977.3 1035.1h0M908.8 966.6h0M870.8 990.7h0M921.6 956.8h0M976.0 1037.8h0M951.0 1005.6h0M952.7 1012.9h0M937.4 1031.0h0M888.3 992.7h0M925.7 950.7h0M952.7 915.7h0M979.9 1011.6h0M883.6 1023.5h0M908.4 1002.9h0M869.9 1013.6h0M960.4 962.1h0M912.7 974.6h0M878.7 1035.4h0M928.9 989.3h0M936.8 931.4h0M954.1 1032.7h0M991.3 966.2h0M921.8 1036.8h0M965.3 996.6h0M951.1 1021.4h0M904.0 954.3h0M907.2 934.3h0M940.6 911.1h0M943.1 947.2h0M916.7 929.0h0M970.4 936.0h0M869.5 1013.3h0M869.1 947.9h0M991.8 931.2h0M932.8 1000.8h0M935.6 977.2h0M961.8 916.4h0M905.0 932.6h0M990.2 1024.9h0M890.6 980.0h0M958.0 979.2h0M960.0 1008.5h0M871.3 924.4h0M892.5 937.4h0M878.5 947.3h0M919.8 965.6h0M885.1 981.2h0M944.3 944.9h0M990.3 995.4h0M985.4 972.2h0M961.0 991.8h0M979.7 949.6h0M915.9 1027.6h0M896.1 963.9h0M897.5 915.7h0M986.5 910.9h0M934.9 979.0h0M974.6 1036.4h0M956.0 973.7h0M979.6 935.4h0M945.6 949.8h0M982.9 918.0h0M940.6 944.4h0M985.6 932.8h0M957.1 910.9h0M895.1 957.2h0M945.7 1010.6h0M922.0 927.3h0M906.8 925.5h0M973.3 965.0h0M923.0 1001.8h0M945.6 974.1h0M915.7 985.9h0M869.3 1002.5h0M899.8 948.4h0M872.2 1033.2h0M920.2 914.3h0M991.0 1011.8h0M968.7 926.5h0M892.2 1005.8h0M936.2 1003.9h0M953.9 995.8h0M978.9 1021.2h0M946.6 927.3h0M931.5 974.6h0M919.9 1030.4h0M932.4 1020.9h0M978.0 1010.6h0M874.4 988.8h0M909.5 1004.2h0M877.5 910.8h0M952.9 993.7h0M947.0 923.2h0M948.3 1024.3h0M974.2 979.3h0M908.8 1023.7h0M984.2 1010.9h0M922.6 922.7h0M917.3 1006.1h0M891.8 957.4h0M907.3 1009.9h0M904.5 982.4h0M898.9 1030.9h0M890.0 1017.1h0M914.3 1003.2h0M984.6 922.5h0M890.9 934.8h0M889.7 1005.8h0M900.6 978.8h0M880.4 975.6h0M902.0 1002.5h0M910.8 923.2h0M925.8 941.5h0M865.5 969.1h0M942.4 1006.9h0M957.1 914.2h0M915.6 952.4h0M973.2 993.2h0M894.1 982.4h0M968.7 996.2h0M945.1 982.6h0M990.8 1023.3h0M919.5 1033.5h0M972.6 960.7h0M920.4 914.0h0M969.4 923.5h0M905.9 1024.8h0M982.2 935.5h0M934.0 953.8h0M956.2 971.5h0M947.2 999.0h0M990.6 952.8h0M864.9 946.9h0M866.2 917.9h0M868.3 941.0h0M939.7 924.1h0M919.2 1010.5h0M934.9 957.0h0M956.8 1024.7h0M981.3 962.3h0M959.8 1001.5h0M905.0 934.8h0M951.5 915.2h0M868.4 1037.4h0M933.0 959.3h0M926.9 935.4h0M884.7 961.0h0M958.3 1020.8h0M869.6 955.3h0M962.4 976.8h0M978.7 960.8h0M950.2 1020.8h0M928.6 925.5h0M870.5 925.6h0M939.6 1031.4h0M887.2 963.1h0M870.9 945.1h0M896.5 911.4h0M953.1 1011.9h0M905.7 1025.4h0M981.2 1019.2h0M944.2 948.8h0M965.1 953.4h0M990.4 1025.8h0M899.1 1022.2h0M876.1 947.5h0M911.6 1023.6h0M956.7 995.2h0" stroke="#eadfe6" stroke-width="1.6" stroke-linecap="round" fill="none"/>
<path d="M959.6 972.1h0M900.5 928.2h0M961.7 958.5h0M917.6 936.1h0M989.9 934.7h0M866.1 953.4h0M895.3 946.4h0M872.1 1017.5h0M922.3 1007.5h0M946.3 918.5h0M970.7 947.2h0M965.9 959.2h0M904.6 916.5h0M876.1 927.3h0M931.0 1019.5h0M874.9 1021.1h0M907.0 1021.7h0M905.1 930.7h0M889.8 1024.6h0M968.9 916.6h0M925.1 993.2h0M929.0 982.3h0M943.8 925.2h0M876.7 912.3h0M869.8 954.9h0M923.0 933.4h0M946.8 981.6h0M932.1 1004.9h0M992.1 927.5h0M985.2 948.6h0M946.5 961.4h0M983.4 1029.5h0M884.3 914.4h0M932.8 959.9h0M955.1 997.7h0M970.1 1000.3h0M949.0 915.4h0M927.3 1003.6h0M948.0 1006.2h0M938.4 1032.1h0M949.7 1031.8h0M975.2 920.7h0M981.7 927.2h0M946.2 1024.6h0M898.8 992.9h0M935.4 1015.6h0M965.7 937.1h0M882.3 1012.1h0M878.8 1023.5h0M864.9 977.2h0M965.2 923.3h0M922.7 976.5h0M906.0 983.8h0M888.1 919.0h0M888.9 1006.5h0M975.6 943.8h0M870.8 957.0h0M945.8 1037.2h0M909.4 968.6h0M964.4 924.9h0M980.7 1029.3h0M972.9 960.5h0M961.9 995.3h0M964.7 948.1h0M974.2 1004.2h0M921.8 1009.3h0M911.1 1021.8h0M968.9 991.6h0M939.6 971.1h0M947.7 976.1h0M914.9 940.5h0M934.2 980.0h0M922.7 909.9h0M868.3 1024.9h0M984.3 950.6h0M971.8 999.2h0M881.3 962.9h0M873.5 954.2h0M941.0 1002.8h0M974.3 987.2h0M986.6 963.0h0M938.2 1018.6h0M898.2 1037.1h0M878.3 993.4h0M930.6 1011.6h0M919.0 950.4h0M928.9 912.3h0M978.8 1014.1h0M961.2 971.1h0M883.8 1033.8h0M873.5 1014.9h0M945.3 954.8h0M980.0 990.5h0M866.3 1027.6h0M984.9 995.3h0M895.1 944.1h0M906.3 935.1h0M916.0 921.4h0M943.5 1015.6h0M903.9 937.4h0M982.3 927.3h0M917.3 968.4h0M870.9 1001.0h0M943.1 1010.2h0M901.2 1020.7h0M949.0 1004.9h0M927.6 993.1h0M925.8 956.4h0M991.7 943.3h0M898.1 930.5h0M870.2 944.5h0M985.9 939.4h0M972.3 988.0h0M909.4 956.7h0M940.4 959.6h0M991.3 990.2h0M868.7 929.7h0M975.7 916.1h0M880.2 962.9h0M982.7 954.3h0M912.3 1009.9h0M948.9 1009.3h0M905.6 936.7h0M970.7 941.6h0M957.9 1014.0h0M905.0 979.8h0M897.1 988.2h0M875.0 954.2h0M939.8 997.0h0M938.6 984.0h0M940.4 914.0h0M967.5 1036.7h0M956.7 1024.6h0M986.9 935.6h0M899.9 1024.7h0M864.6 959.7h0M898.7 966.2h0M909.3 964.5h0M971.2 998.6h0M956.8 1023.7h0M938.2 922.0h0M934.5 998.5h0M867.0 944.6h0M975.0 980.8h0M892.3 950.6h0M929.3 1023.0h0M870.9 973.7h0M890.0 927.3h0M868.0 975.6h0M914.3 1017.4h0M876.8 928.8h0M893.4 971.4h0M915.0 981.8h0M961.6 1018.5h0M942.8 1001.9h0M966.4 990.1h0M983.4 990.6h0M986.3 971.7h0M895.3 1020.6h0M916.2 958.3h0" stroke="#fbf8fb" stroke-width="1.8" stroke-linecap="round" fill="none"/>
<ellipse cx="902.1" cy="1011.9" rx="1.8" ry="1.8" fill="#fff" opacity="0.9" transform="rotate(0 902.1 1011.9)"/>
<ellipse cx="968.1" cy="995.9" rx="2" ry="2" fill="#fff" opacity="0.9" transform="rotate(0 968.1 995.9)"/>
<ellipse cx="928.1" cy="945.9" rx="1.5" ry="1.5" fill="#fff" opacity="0.9" transform="rotate(0 928.1 945.9)"/>
</g><g>
</g></g>
<rect x="863.1" y="908.9" width="130.2" height="130.2" fill="none" stroke="#000" stroke-width="2"/>
<line x1="986.3" y1="1035.8" x2="989.8" y2="1035.8" stroke="#444" stroke-width="0.7"/>
<rect x="1012.9" y="908.9" width="130.2" height="130.2" fill="#f4edf1"/>
<g clip-path="url(#cp01)"><g filter="url(#bl)">
<path d="M1088.3 934.8h0M1137.5 1028.2h0M1073.7 994.8h0M1041.4 938.3h0M1050.8 998.5h0M1041.1 1034.2h0M1022.9 934.6h0M1025.3 1008.4h0M1060.8 970.3h0M1055.6 991.5h0M1065.6 936.6h0M1069.0 948.8h0M1028.1 1015.3h0M1101.0 995.0h0M1126.9 960.4h0M1062.4 964.0h0M1065.7 995.5h0M1014.7 969.3h0M1082.4 954.1h0M1016.7 1000.1h0M1015.1 982.1h0M1033.5 914.3h0M1037.0 918.3h0M1033.2 997.6h0M1107.1 956.3h0M1097.4 970.7h0M1077.7 1022.0h0M1053.7 1021.3h0M1102.4 997.4h0M1014.7 920.7h0M1018.0 954.2h0M1135.0 1022.0h0M1121.2 925.1h0M1104.2 1009.0h0M1117.5 1011.3h0M1031.9 932.8h0M1115.3 1004.4h0M1128.1 967.0h0M1127.8 927.7h0M1136.4 1023.1h0M1057.1 918.5h0M1084.1 998.1h0M1058.7 917.3h0M1049.6 1015.4h0M1025.5 1029.9h0M1045.9 936.1h0M1028.3 1035.5h0M1129.2 950.8h0M1026.1 993.5h0M1127.5 911.5h0M1094.9 1019.6h0M1072.6 982.8h0M1116.8 940.4h0M1048.9 994.4h0M1084.6 978.4h0M1056.7 1029.8h0M1050.8 996.8h0M1128.4 961.2h0M1020.9 938.1h0M1022.4 928.9h0M1029.3 953.7h0M1061.3 967.2h0M1099.0 996.5h0M1101.9 956.5h0M1098.7 980.3h0M1030.2 979.8h0M1054.6 996.4h0M1108.0 940.7h0M1069.6 968.1h0M1051.9 915.1h0M1020.3 1037.0h0M1108.6 966.1h0M1099.2 944.3h0M1104.8 1031.6h0M1112.9 969.4h0M1139.8 1027.9h0M1021.4 962.6h0M1071.8 945.0h0M1092.8 928.3h0M1109.5 1019.7h0M1021.8 998.5h0M1047.9 991.6h0M1102.4 1034.9h0M1116.1 953.3h0M1107.3 928.7h0M1105.2 963.3h0M1047.8 940.4h0M1041.6 1011.8h0M1026.2 939.6h0M1038.5 930.1h0M1107.3 985.1h0M1099.0 1025.1h0M1071.3 914.7h0M1038.1 976.0h0M1105.5 1027.5h0M1079.3 938.9h0M1089.8 1029.5h0M1056.5 1029.1h0M1129.6 983.7h0M1075.5 926.4h0M1028.0 915.1h0M1092.2 1001.1h0M1141.1 987.0h0M1141.1 961.5h0M1031.0 917.5h0M1050.8 977.8h0M1140.1 947.9h0M1044.0 1002.5h0M1063.6 981.4h0M1033.3 1019.1h0M1131.6 1006.6h0M1133.7 952.5h0M1018.0 948.9h0M1128.8 970.0h0M1039.5 929.3h0M1034.9 966.1h0M1132.4 1023.0h0M1110.9 1006.7h0M1038.3 1009.4h0M1042.6 977.2h0M1018.2 1024.1h0M1030.3 985.8h0M1098.7 992.3h0M1101.2 957.2h0M1115.3 1030.0h0M1092.9 1035.3h0M1122.7 917.0h0M1099.9 921.6h0M1098.5 957.4h0M1123.3 915.6h0M1135.1 915.5h0M1021.2 910.2h0M1030.0 1036.1h0M1120.8 1027.3h0M1037.8 997.9h0M1115.7 1002.9h0M1048.4 1034.2h0M1107.1 997.5h0M1050.3 960.8h0M1110.9 976.0h0M1076.4 1027.6h0M1067.7 1019.8h0M1019.9 977.8h0M1105.2 911.3h0M1103.0 946.5h0M1094.0 989.7h0M1031.4 1030.7h0M1045.0 927.4h0M1070.6 918.1h0M1026.9 1007.4h0M1026.4 979.2h0M1127.2 968.0h0M1118.2 1016.2h0M1035.0 919.7h0M1114.3 1020.8h0M1123.1 1001.3h0M1079.2 1032.5h0M1108.6 1007.6h0M1130.6 916.9h0M1108.8 984.7h0M1015.5 942.6h0M1105.6 977.6h0M1085.9 946.7h0M1086.5 1022.4h0M1139.3 980.6h0M1107.5 921.1h0M1031.9 981.5h0M1119.7 925.2h0M1032.8 973.9h0M1052.9 927.9h0M1034.2 964.3h0M1115.4 931.8h0M1117.1 919.5h0M1046.0 995.5h0M1014.8 951.1h0M1033.7 939.4h0M1127.4 930.3h0M1106.1 1026.4h0M1045.4 1020.3h0M1054.9 1008.8h0M1088.3 954.8h0M1127.3 999.0h0M1054.8 983.3h0M1051.6 946.5h0M1134.0 1034.8h0M1034.1 1027.2h0M1105.3 911.3h0M1027.8 965.7h0M1127.5 1021.7h0M1046.0 966.9h0M1132.3 936.7h0M1027.3 963.0h0M1101.0 1021.6h0M1126.1 911.4h0M1036.4 926.3h0M1090.2 961.8h0M1132.0 988.7h0M1092.6 997.8h0M1040.1 1024.4h0M1124.1 1015.2h0M1114.1 932.0h0M1020.7 956.6h0M1105.7 935.6h0M1125.1 1019.6h0M1103.1 971.9h0M1033.2 1013.5h0M1036.0 973.4h0M1111.0 991.2h0M1044.1 1022.4h0M1054.9 963.7h0M1070.0 999.7h0M1018.9 991.6h0M1076.3 1012.4h0M1060.7 983.0h0M1137.8 917.4h0M1115.3 969.8h0M1052.3 945.0h0M1041.7 1017.8h0M1039.8 1033.1h0M1080.0 946.4h0M1114.1 984.3h0M1127.1 928.4h0M1102.5 913.5h0M1037.4 963.0h0M1054.0 946.1h0M1086.8 1005.5h0M1067.1 975.0h0M1114.0 938.8h0M1141.6 912.9h0M1061.4 1015.5h0M1044.0 952.2h0M1035.8 1034.6h0M1126.0 920.3h0M1082.8 929.4h0M1016.2 938.2h0M1103.8 977.6h0M1050.7 984.1h0M1024.5 953.7h0M1026.5 1015.4h0M1062.9 1001.5h0M1056.8 963.1h0M1087.5 943.1h0M1083.9 1008.8h0M1023.4 935.3h0M1016.5 972.4h0M1028.0 976.6h0M1034.5 977.2h0M1050.0 1005.8h0M1118.3 1032.7h0M1073.2 1023.8h0M1124.2 952.9h0M1139.4 1032.5h0M1034.0 1006.1h0M1101.9 988.8h0M1104.9 945.5h0M1120.7 1002.3h0M1037.4 1033.5h0M1107.8 917.0h0M1018.0 931.6h0M1098.7 1002.4h0M1133.1 1023.0h0M1040.1 934.8h0M1024.8 959.8h0M1068.1 958.6h0M1119.0 988.4h0M1116.8 1020.3h0M1111.8 975.7h0M1066.3 978.5h0M1072.8 995.5h0M1123.0 996.4h0M1046.5 982.1h0M1072.2 925.6h0M1027.4 967.6h0M1134.3 999.9h0M1021.1 1027.2h0M1106.7 987.2h0M1014.7 949.6h0M1056.6 971.7h0M1029.6 990.5h0M1092.2 991.9h0M1077.2 981.3h0M1028.4 1015.7h0M1125.0 1018.9h0M1112.1 940.9h0M1051.5 916.4h0M1114.4 1019.9h0M1133.8 986.8h0M1116.2 1018.1h0M1029.4 918.6h0M1126.1 1034.1h0M1105.6 989.2h0M1064.6 1019.8h0M1050.4 916.8h0M1116.8 917.7h0M1105.6 993.1h0M1028.0 965.8h0M1048.8 1013.2h0M1113.4 952.0h0M1033.6 953.7h0M1070.2 987.4h0M1135.2 951.0h0M1032.8 990.1h0M1068.4 1004.8h0M1098.7 979.9h0M1118.3 935.0h0M1114.1 933.3h0M1075.3 981.0h0M1083.5 924.2h0M1072.7 945.8h0M1049.3 963.8h0M1066.8 936.3h0M1101.7 1029.1h0M1135.2 933.0h0M1043.6 962.0h0M1090.0 998.6h0M1089.3 973.0h0M1141.7 1032.9h0M1116.8 942.1h0M1112.1 914.5h0M1135.2 999.7h0M1132.3 964.1h0M1104.9 942.0h0M1132.3 932.7h0M1015.0 945.8h0M1099.0 978.7h0M1117.2 997.4h0M1113.8 1030.5h0M1022.4 923.4h0M1050.8 927.0h0M1084.5 1002.0h0M1037.1 973.4h0M1045.5 912.1h0M1047.8 943.9h0M1101.9 1033.9h0M1022.5 972.7h0M1073.3 990.3h0M1032.9 1032.3h0M1049.2 984.0h0M1066.2 981.9h0M1126.6 989.0h0M1057.6 1031.8h0M1036.4 1032.7h0M1100.1 941.2h0M1140.1 1020.7h0M1079.0 1013.4h0M1025.9 945.1h0M1075.2 1030.7h0M1061.2 1036.9h0M1088.1 1001.8h0M1114.0 926.8h0M1131.5 985.8h0M1029.5 929.2h0M1116.2 981.8h0M1132.6 1020.0h0M1084.2 963.5h0M1111.4 1035.1h0M1053.1 976.4h0M1029.0 915.6h0M1021.7 957.8h0M1092.9 1020.4h0M1109.9 1033.3h0M1046.6 1019.2h0M1055.0 957.9h0M1083.5 1037.5h0M1073.3 917.4h0M1060.8 982.5h0M1101.3 929.6h0M1050.3 931.2h0M1079.5 960.2h0M1054.7 975.0h0M1110.3 988.8h0M1107.8 961.6h0M1132.4 924.8h0M1023.1 922.3h0M1075.4 951.5h0M1039.3 910.8h0M1114.7 917.3h0M1094.7 1033.5h0M1046.2 985.3h0M1127.0 966.0h0M1131.6 914.3h0M1087.2 1009.5h0M1077.1 1016.0h0M1139.5 1017.2h0M1075.2 998.4h0M1125.4 989.7h0M1019.8 936.3h0M1092.1 924.7h0M1034.3 1034.3h0M1078.1 1036.5h0M1121.1 1010.1h0M1067.6 939.9h0M1022.4 938.3h0M1077.5 987.8h0M1033.1 968.4h0M1061.1 1022.4h0M1052.1 1017.1h0M1096.4 1029.7h0M1049.7 944.7h0M1076.2 943.3h0M1091.0 1031.8h0M1082.0 934.6h0M1020.7 990.5h0M1071.1 911.1h0M1061.0 1012.0h0M1094.1 952.8h0M1136.8 1035.6h0M1017.3 939.0h0M1092.0 953.4h0M1041.1 1012.8h0M1129.5 972.9h0M1137.3 983.6h0M1094.5 975.8h0M1115.8 1025.3h0M1078.1 971.0h0M1115.5 1017.6h0M1098.1 930.4h0M1030.4 956.5h0M1019.7 955.1h0M1060.2 925.8h0" stroke="#e2d5db" stroke-width="1.3" stroke-linecap="round" fill="none"/>
<path d="M1032.3 991.5h0M1127.9 938.0h0M1106.4 962.8h0M1015.3 1029.3h0M1028.1 971.5h0M1016.1 946.2h0M1059.1 958.5h0M1080.6 1033.7h0M1092.3 967.6h0M1120.5 968.2h0M1103.4 967.0h0M1109.6 922.0h0M1036.0 999.2h0M1108.7 956.1h0M1019.2 988.3h0M1027.3 959.4h0M1117.3 1012.4h0M1119.1 923.3h0M1107.6 913.7h0M1139.7 1005.0h0M1112.8 1019.8h0M1118.9 1007.4h0M1133.1 918.2h0M1024.1 1000.2h0M1029.0 1012.7h0M1067.1 1006.4h0M1027.4 980.4h0M1105.8 1004.4h0M1037.0 940.8h0M1122.5 1011.0h0M1079.1 912.3h0M1105.9 1006.5h0M1096.8 1034.5h0M1095.0 1014.3h0M1045.6 946.8h0M1139.3 1037.8h0M1027.7 989.7h0M1101.7 988.0h0M1063.6 955.1h0M1131.9 927.8h0M1025.3 1005.6h0M1015.7 959.2h0M1085.5 996.7h0M1046.8 991.4h0M1097.9 1014.9h0M1074.3 1029.2h0M1071.6 1027.2h0M1064.8 1003.0h0M1051.2 990.2h0M1109.9 917.8h0M1113.0 920.6h0M1115.0 928.3h0M1044.6 950.2h0M1047.5 987.7h0M1058.6 1015.1h0M1062.5 1009.5h0M1054.4 977.8h0M1089.1 954.9h0M1114.5 990.1h0M1084.9 994.7h0M1043.2 951.0h0M1126.0 998.6h0M1073.4 1037.6h0M1134.6 1000.6h0M1029.3 959.9h0M1064.3 981.5h0M1051.9 969.3h0M1127.3 924.1h0M1025.1 977.8h0M1016.0 956.5h0M1045.8 1008.6h0M1037.5 977.1h0M1125.1 996.3h0M1064.1 934.1h0M1134.9 1008.2h0M1102.1 942.7h0M1044.7 1021.5h0M1120.3 1016.4h0M1052.8 1001.5h0M1118.2 1024.6h0M1105.2 918.3h0M1020.7 946.0h0M1116.1 953.0h0M1020.3 969.8h0M1034.7 962.8h0M1104.4 974.3h0M1083.3 975.5h0M1137.1 1028.7h0M1079.3 925.1h0M1103.1 928.5h0M1015.1 922.0h0M1070.2 1019.6h0M1077.6 1009.7h0M1081.8 1002.5h0M1080.4 1003.5h0M1059.4 944.3h0M1115.8 1010.5h0M1115.2 996.3h0M1115.5 983.5h0M1098.8 998.5h0M1065.2 914.8h0M1125.0 1023.0h0M1055.4 965.1h0M1028.2 1029.4h0M1023.7 965.3h0M1017.2 1020.1h0M1103.2 1008.5h0M1087.7 997.8h0M1129.8 921.2h0M1048.5 924.5h0M1074.3 919.2h0M1095.5 987.5h0M1106.0 1015.9h0M1022.3 914.9h0M1070.8 976.5h0M1105.0 952.8h0M1133.8 978.2h0M1076.4 996.6h0M1130.5 1004.5h0M1127.8 933.3h0M1027.8 912.9h0M1090.7 1003.0h0M1038.9 987.1h0M1040.6 985.7h0M1139.5 1021.7h0M1049.4 917.7h0M1045.1 978.4h0M1057.4 967.0h0M1079.9 1026.6h0M1059.2 962.0h0M1055.1 980.7h0M1034.2 975.9h0M1080.0 1012.4h0M1084.2 1027.7h0M1056.9 970.8h0M1058.9 910.3h0M1106.5 999.4h0M1137.3 916.5h0M1123.9 1008.7h0M1128.8 928.3h0M1047.5 1004.0h0M1100.4 922.6h0M1018.7 1033.7h0M1106.1 958.0h0M1074.0 931.1h0M1051.0 1032.9h0M1025.8 1029.8h0M1113.2 957.3h0M1111.0 979.9h0M1095.6 983.1h0M1067.6 1031.3h0M1111.8 961.5h0M1082.7 945.7h0M1030.5 945.3h0M1123.3 939.1h0M1048.2 914.8h0M1139.4 943.3h0M1038.2 1001.2h0M1025.8 1012.8h0M1105.9 914.9h0M1114.8 937.5h0M1026.0 1006.1h0M1133.1 956.2h0M1051.0 974.2h0M1114.3 1034.4h0M1100.8 958.9h0M1073.7 1021.0h0M1048.3 958.0h0M1038.1 1035.8h0M1114.9 940.4h0M1113.4 1031.1h0M1052.9 952.2h0M1049.9 1018.9h0M1071.7 1019.2h0M1064.0 1005.8h0M1136.0 972.0h0M1037.1 1022.7h0M1137.1 961.8h0M1126.7 1037.2h0M1137.7 1023.8h0M1072.1 951.6h0M1043.8 942.5h0M1049.1 930.5h0M1014.1 950.4h0M1028.8 1006.3h0M1065.9 1035.7h0M1101.5 941.3h0M1102.1 986.7h0M1138.3 1001.0h0M1048.7 932.4h0M1067.9 951.7h0M1043.0 1011.6h0M1052.6 976.2h0M1060.3 991.3h0M1036.5 956.1h0M1049.1 984.3h0M1087.2 1020.3h0M1098.8 910.4h0M1110.0 1018.1h0M1132.4 939.1h0M1088.7 933.5h0M1093.9 1003.2h0M1124.7 976.7h0M1085.9 947.7h0M1026.2 964.2h0M1037.1 997.7h0M1044.3 958.8h0M1015.5 949.4h0M1122.1 924.6h0M1078.6 1004.6h0M1134.6 992.4h0M1019.9 1006.8h0M1122.9 1017.9h0M1114.9 1001.7h0M1110.2 965.4h0M1021.3 937.7h0M1074.1 974.5h0M1141.2 956.7h0M1069.6 1007.1h0M1051.2 958.3h0M1036.4 972.3h0M1032.6 988.4h0M1071.3 934.4h0M1047.6 985.4h0M1055.0 1034.9h0M1137.7 960.1h0M1102.4 941.7h0M1036.1 1010.0h0M1133.5 941.0h0M1053.0 990.3h0M1033.3 936.5h0M1076.8 965.8h0M1048.6 972.9h0M1049.6 961.8h0M1114.2 985.2h0M1070.1 968.4h0M1137.6 1033.9h0M1126.0 1006.4h0M1069.0 976.4h0M1030.4 1031.7h0M1036.4 919.2h0M1093.9 923.5h0M1109.2 948.9h0M1108.4 980.2h0M1031.1 976.0h0M1099.2 910.2h0M1030.9 957.7h0M1089.6 962.0h0M1065.7 995.2h0M1044.9 947.9h0M1073.8 1029.5h0M1065.6 919.2h0M1043.4 976.6h0M1138.8 992.4h0M1082.1 940.2h0M1056.8 1021.9h0M1139.5 957.2h0M1096.3 999.1h0M1106.9 946.3h0M1044.2 957.1h0" stroke="#eadfe6" stroke-width="1.6" stroke-linecap="round" fill="none"/>
<path d="M1075.8 938.7h0M1018.4 1027.5h0M1059.5 972.8h0M1051.0 1030.9h0M1097.8 1020.0h0M1043.5 1007.6h0M1070.0 941.6h0M1096.4 923.0h0M1135.9 928.2h0M1117.1 966.2h0M1032.1 1009.0h0M1024.1 1015.1h0M1042.6 944.9h0M1018.2 920.0h0M1124.4 1011.6h0M1070.9 1016.0h0M1049.7 964.6h0M1065.2 955.8h0M1080.3 971.7h0M1105.9 1007.6h0M1061.9 965.0h0M1085.5 929.6h0M1022.8 915.3h0M1111.5 930.1h0M1027.7 1006.1h0M1099.9 966.4h0M1031.2 1025.6h0M1044.2 926.0h0M1108.3 939.4h0M1138.2 1024.2h0M1070.2 1008.1h0M1033.9 996.3h0M1055.4 934.0h0M1106.1 1029.9h0M1083.7 1010.4h0M1062.9 955.6h0M1104.4 995.6h0M1015.3 936.9h0M1100.7 974.4h0M1032.3 955.6h0M1132.5 925.8h0M1014.4 917.8h0M1085.0 1032.5h0M1137.1 982.0h0M1033.4 924.7h0M1126.3 1009.3h0M1093.9 1031.9h0M1084.0 1003.8h0M1065.2 909.9h0M1129.4 968.9h0M1021.0 1013.2h0M1030.3 944.1h0M1119.3 997.5h0M1133.7 1021.0h0M1057.8 957.9h0M1034.1 1012.2h0M1123.2 965.0h0M1116.9 1037.4h0M1096.7 973.0h0M1100.2 979.8h0M1060.2 973.9h0M1123.0 944.6h0M1025.2 1032.6h0M1035.7 934.4h0M1051.1 1033.6h0M1084.9 1015.6h0M1105.6 1014.2h0M1016.0 923.0h0M1096.3 1008.2h0M1113.8 958.8h0M1061.9 1026.1h0M1113.9 953.5h0M1105.3 919.9h0M1113.0 946.5h0M1032.0 986.3h0M1083.0 985.1h0M1042.9 1018.6h0M1097.6 913.1h0M1139.1 941.9h0M1024.6 995.3h0M1088.3 925.3h0M1041.3 958.2h0M1123.7 932.2h0M1040.7 912.3h0M1058.9 920.1h0M1072.4 967.9h0M1041.9 956.4h0M1084.5 999.9h0M1130.8 925.9h0M1128.1 964.5h0M1033.4 952.1h0M1045.6 1019.4h0M1015.2 937.1h0M1083.1 937.8h0M1124.2 921.7h0M1132.0 995.1h0M1124.0 973.3h0M1020.8 1014.2h0M1063.2 982.4h0M1109.7 926.7h0M1044.3 950.7h0M1035.1 1020.9h0M1097.1 951.7h0M1109.2 1007.6h0M1054.0 1006.8h0M1109.2 1010.6h0M1117.9 913.4h0M1065.8 964.2h0M1069.6 1035.0h0M1089.9 1024.8h0M1065.7 963.3h0M1050.3 992.2h0M1118.7 1001.4h0M1016.4 953.1h0M1014.8 946.4h0M1040.5 937.9h0M1032.0 934.8h0M1134.5 916.7h0M1115.2 1017.0h0M1115.9 927.7h0M1127.3 1035.1h0M1116.8 1028.9h0M1053.9 1011.3h0M1070.3 912.5h0M1085.1 924.5h0M1126.5 1002.8h0M1080.7 1020.1h0M1132.3 944.7h0M1087.7 1008.9h0M1019.7 938.7h0M1136.9 968.3h0M1132.5 975.8h0M1129.7 1026.7h0M1106.1 1016.9h0M1124.8 980.1h0M1054.7 1008.0h0M1130.9 1017.2h0M1091.2 949.1h0M1108.7 927.2h0M1032.5 1001.3h0M1048.0 1009.0h0M1107.9 949.0h0M1139.7 938.8h0M1070.0 999.6h0M1019.3 969.3h0M1085.7 1026.3h0M1130.8 934.3h0M1045.1 952.4h0M1043.8 917.8h0M1091.8 1000.1h0M1018.9 1026.9h0M1095.3 998.0h0M1065.1 1020.5h0M1115.8 961.0h0M1084.4 1023.9h0M1091.9 918.2h0M1017.7 1018.8h0M1104.2 970.3h0M1086.9 968.6h0M1021.7 996.5h0" stroke="#fbf8fb" stroke-width="1.8" stroke-linecap="round" fill="none"/>
<path d="M1021.2 939.4h0M1074.7 962.1h0M1095.2 1013.7h0M1071.1 976.3h0M1087.2 997.8h0M1043.1 953.3h0M1122.7 955.8h0M1082.2 1019.5h0M1087.7 1027.0h0M1074.8 949.1h0M1076.5 965.7h0M1089.8 1028.2h0M1122.5 965.0h0M1054.7 920.3h0M1023.7 1014.6h0M1074.8 997.3h0M1140.0 982.5h0M1123.6 967.9h0M1040.2 1005.4h0M1067.4 930.9h0M1120.9 1026.7h0M1043.4 999.9h0M1106.4 960.1h0M1067.3 1025.6h0M1020.3 944.6h0M1081.9 938.4h0M1118.2 1033.4h0M1066.0 970.2h0M1138.1 991.4h0M1095.1 965.6h0M1095.2 963.4h0M1111.3 924.4h0M1129.5 987.1h0M1134.9 973.4h0M1112.2 959.8h0M1138.3 930.9h0M1046.8 1030.6h0M1032.8 928.4h0M1117.1 1018.9h0M1104.0 941.5h0M1044.7 998.3h0M1130.3 926.3h0M1068.8 914.3h0M1137.9 919.4h0M1121.2 996.4h0M1039.1 966.2h0M1113.9 965.7h0M1018.1 1011.8h0M1062.4 920.9h0M1015.7 978.9h0" stroke="#dcc2b6" stroke-width="1.5" stroke-linecap="round" fill="none"/>
<ellipse cx="1062.9" cy="1013.9" rx="2" ry="2" fill="#fff" opacity="0.9" transform="rotate(0 1062.9 1013.9)"/>
<ellipse cx="1107.9" cy="1019.9" rx="2" ry="2" fill="#fff" opacity="0.9" transform="rotate(0 1107.9 1019.9)"/>
<ellipse cx="1047.9" cy="954.9" rx="1.6" ry="1.6" fill="#fff" opacity="0.9" transform="rotate(0 1047.9 954.9)"/>
</g><g>
<ellipse cx="1039.0" cy="948.6" rx="1.1" ry="0.8" fill="#b4805a" opacity="0.48" transform="rotate(109 1039.0 948.6)"/>
<ellipse cx="1067.9" cy="955.2" rx="1.1" ry="0.8" fill="#b4805a" opacity="0.48" transform="rotate(54 1067.9 955.2)"/>
<ellipse cx="1081.0" cy="959.8" rx="1.1" ry="0.8" fill="#b4805a" opacity="0.48" transform="rotate(144 1081.0 959.8)"/>
<ellipse cx="1078.2" cy="944.0" rx="1.1" ry="0.8" fill="#b4805a" opacity="0.48" transform="rotate(118 1078.2 944.0)"/>
<ellipse cx="1047.4" cy="982.3" rx="1.1" ry="0.8" fill="#b4805a" opacity="0.48" transform="rotate(112 1047.4 982.3)"/>
<ellipse cx="1051.1" cy="991.6" rx="1.1" ry="0.8" fill="#b4805a" opacity="0.48" transform="rotate(61 1051.1 991.6)"/>
<ellipse cx="1048.3" cy="1001.9" rx="1.1" ry="0.8" fill="#b4805a" opacity="0.48" transform="rotate(171 1048.3 1001.9)"/>
<ellipse cx="1030.6" cy="1005.6" rx="1.1" ry="0.8" fill="#b4805a" opacity="0.48" transform="rotate(156 1030.6 1005.6)"/>
<ellipse cx="1020.3" cy="981.3" rx="1.1" ry="0.8" fill="#b4805a" opacity="0.48" transform="rotate(90 1020.3 981.3)"/>
<ellipse cx="1082.0" cy="1000.9" rx="1.1" ry="0.8" fill="#b4805a" opacity="0.48" transform="rotate(51 1082.0 1000.9)"/>
<ellipse cx="1114.6" cy="958.0" rx="1.1" ry="0.8" fill="#b4805a" opacity="0.48" transform="rotate(139 1114.6 958.0)"/>
<ellipse cx="1134.3" cy="1008.4" rx="1.1" ry="0.8" fill="#b4805a" opacity="0.48" transform="rotate(125 1134.3 1008.4)"/>
<ellipse cx="1041.8" cy="1023.3" rx="1.1" ry="0.8" fill="#b4805a" opacity="0.48" transform="rotate(32 1041.8 1023.3)"/>
<ellipse cx="1134.3" cy="1029.0" rx="1.1" ry="0.8" fill="#b4805a" opacity="0.48" transform="rotate(145 1134.3 1029.0)"/>
<ellipse cx="1125.9" cy="980.4" rx="1.1" ry="0.8" fill="#b4805a" opacity="0.48" transform="rotate(17 1125.9 980.4)"/>
<ellipse cx="1060.5" cy="922.5" rx="1.1" ry="0.8" fill="#b4805a" opacity="0.48" transform="rotate(107 1060.5 922.5)"/>
<ellipse cx="1097.8" cy="937.4" rx="1.1" ry="0.8" fill="#b4805a" opacity="0.48" transform="rotate(73 1097.8 937.4)"/>
<ellipse cx="1023.1" cy="1012.1" rx="1.1" ry="0.8" fill="#b4805a" opacity="0.48" transform="rotate(158 1023.1 1012.1)"/>
</g></g>
<rect x="1012.9" y="908.9" width="130.2" height="130.2" fill="none" stroke="#000" stroke-width="2"/>
<line x1="1136.1" y1="1035.8" x2="1139.6" y2="1035.8" stroke="#444" stroke-width="0.7"/>
<rect x="1163.2" y="908.9" width="130.2" height="130.2" fill="#f3edf0"/>
<g clip-path="url(#cp02)"><g filter="url(#bl)">
<path d="M1183.2 988.7h0M1185.9 1001.1h0M1242.0 959.1h0M1243.2 982.4h0M1169.7 977.8h0M1243.5 976.4h0M1276.8 1004.0h0M1212.5 938.9h0M1180.6 1013.6h0M1252.5 987.9h0M1220.7 974.0h0M1192.6 977.8h0M1182.8 989.4h0M1244.9 995.7h0M1195.7 921.7h0M1206.8 997.9h0M1229.5 1005.6h0M1219.4 960.9h0M1280.4 931.3h0M1190.7 985.3h0M1245.0 965.3h0M1235.6 966.3h0M1249.8 1023.7h0M1269.8 991.7h0M1224.4 1031.2h0M1221.4 990.0h0M1275.4 997.4h0M1214.2 1005.0h0M1241.0 1027.0h0M1244.0 978.2h0M1288.9 977.4h0M1215.2 1029.9h0M1285.0 931.9h0M1173.5 1019.7h0M1277.2 959.1h0M1196.8 997.5h0M1284.5 937.2h0M1221.5 994.7h0M1192.5 963.0h0M1182.5 971.3h0M1193.6 920.2h0M1214.0 929.1h0M1179.4 929.2h0M1217.7 950.6h0M1257.4 962.9h0M1195.3 934.0h0M1202.2 1005.0h0M1190.0 969.5h0M1267.5 1016.1h0M1223.4 1017.8h0M1246.4 938.9h0M1176.1 931.7h0M1265.3 959.8h0M1271.4 1033.7h0M1281.9 970.0h0M1165.2 945.3h0M1192.2 993.0h0M1254.0 1027.9h0M1254.5 1032.7h0M1245.9 970.7h0M1271.3 945.0h0M1263.8 1003.0h0M1275.2 917.6h0M1188.3 1031.5h0M1182.4 967.7h0M1241.2 971.6h0M1276.7 1032.2h0M1207.9 927.1h0M1281.3 968.0h0M1196.0 927.6h0M1165.4 984.5h0M1200.2 981.1h0M1282.5 971.9h0M1286.2 918.5h0M1261.2 1006.5h0M1286.9 913.9h0M1229.1 981.1h0M1240.8 970.2h0M1199.1 1025.5h0M1276.6 999.7h0M1287.0 980.7h0M1174.4 998.7h0M1177.6 1006.0h0M1247.2 936.4h0M1183.7 918.5h0M1186.8 1035.1h0M1193.4 1023.1h0M1181.4 953.2h0M1224.6 955.8h0M1287.6 940.6h0M1226.1 936.2h0M1178.2 998.3h0M1207.6 972.2h0M1252.9 921.3h0M1171.2 997.9h0M1291.4 912.3h0M1222.1 1037.2h0M1270.8 1036.5h0M1231.9 1034.3h0M1171.4 970.3h0M1272.7 959.9h0M1220.6 967.4h0M1212.8 1014.0h0M1288.7 939.4h0M1205.5 1012.8h0M1259.4 1014.1h0M1251.5 1027.0h0M1272.3 991.0h0M1200.5 920.8h0M1274.3 1019.7h0M1278.3 943.8h0M1258.7 1029.0h0M1190.7 912.9h0M1186.5 937.9h0M1251.2 1015.0h0M1269.0 998.1h0M1289.4 1034.4h0M1220.4 1027.9h0M1256.2 941.3h0M1239.1 931.7h0M1215.4 1014.0h0M1165.5 978.6h0M1220.0 946.1h0M1172.5 976.9h0M1206.9 922.4h0M1215.6 996.9h0M1174.4 1010.4h0M1174.9 970.1h0M1211.1 1019.6h0M1278.5 1004.3h0M1201.9 951.4h0M1269.8 975.2h0M1245.5 1002.6h0M1188.7 959.1h0M1286.4 952.4h0M1272.8 929.7h0M1166.0 974.2h0M1200.4 986.2h0M1262.7 914.9h0M1228.1 957.7h0M1280.2 1018.0h0M1277.4 1004.8h0M1208.6 989.2h0M1233.8 957.0h0M1201.3 992.9h0M1278.9 940.9h0M1209.8 930.2h0M1210.9 959.6h0M1176.2 992.5h0M1208.2 1013.2h0M1195.3 1003.9h0M1289.6 931.5h0M1211.6 1034.3h0M1215.8 952.0h0M1183.8 1016.0h0M1205.9 1022.5h0M1235.6 932.9h0M1291.3 1025.2h0M1260.0 986.9h0M1260.7 1031.2h0M1189.4 940.8h0M1261.8 963.4h0M1290.3 1016.6h0M1231.0 930.3h0M1242.5 986.9h0M1238.5 1009.6h0M1225.3 1024.2h0M1240.4 930.4h0M1269.3 931.5h0M1280.1 1028.5h0M1189.2 935.7h0M1254.1 968.4h0M1212.2 1006.0h0M1207.1 926.6h0M1234.7 1022.2h0M1287.1 923.5h0M1259.7 951.3h0M1288.5 959.8h0M1177.3 952.2h0M1230.2 932.4h0M1262.7 952.1h0M1259.2 939.6h0M1227.1 994.3h0M1190.6 946.9h0M1271.7 960.4h0M1208.8 989.0h0M1252.7 1020.5h0M1236.5 1019.2h0M1278.5 1028.5h0M1281.9 998.8h0M1253.3 959.7h0M1177.8 1028.0h0M1217.2 953.2h0M1234.5 1006.7h0M1270.4 924.5h0M1264.5 1030.4h0M1289.4 1030.5h0M1237.4 1023.7h0M1239.8 1018.5h0M1290.9 957.9h0M1180.0 1005.9h0M1284.3 1025.7h0M1223.4 967.4h0M1180.2 1018.9h0M1199.0 925.5h0M1177.2 1029.1h0M1217.4 1011.4h0M1173.2 971.5h0M1259.7 1008.7h0M1188.5 971.5h0M1268.2 1026.8h0M1176.2 985.1h0M1278.1 989.3h0M1264.7 948.0h0M1227.2 911.7h0M1266.4 982.0h0M1187.4 1030.4h0M1191.3 914.2h0M1256.9 920.1h0M1248.5 927.4h0M1167.1 1004.2h0M1242.7 994.3h0M1254.9 1001.7h0M1186.7 964.2h0M1240.0 1020.8h0M1246.8 972.3h0M1269.1 1018.0h0M1196.2 933.4h0M1164.9 1021.5h0M1191.3 983.9h0M1231.5 994.1h0M1284.3 994.0h0M1186.2 965.0h0M1187.9 958.8h0M1259.0 993.4h0M1244.6 1020.4h0M1291.9 942.1h0M1254.0 992.6h0M1167.7 1036.9h0M1215.3 996.1h0M1193.6 964.1h0M1179.3 1033.8h0M1169.6 919.2h0M1257.2 983.7h0M1205.5 1030.3h0M1253.7 967.3h0M1255.3 1029.8h0M1275.9 956.5h0M1263.3 938.1h0M1213.6 1037.0h0M1258.3 961.2h0M1233.8 965.8h0M1254.7 976.8h0M1222.2 963.6h0M1276.8 1013.7h0M1195.2 960.8h0M1279.5 1003.3h0M1241.1 990.5h0M1190.0 982.6h0M1259.7 966.4h0M1216.6 965.1h0M1240.9 938.0h0M1269.4 918.2h0M1263.2 977.1h0M1196.3 942.1h0M1198.7 930.6h0M1291.3 945.6h0M1175.0 994.1h0M1289.1 946.7h0M1193.8 984.7h0M1205.9 968.7h0M1237.5 1037.7h0M1212.5 956.3h0M1254.8 982.9h0M1276.4 965.5h0M1245.6 975.2h0M1241.5 972.5h0M1185.0 925.7h0M1215.0 1037.9h0M1229.4 973.8h0M1221.6 1009.2h0M1209.5 959.8h0M1207.2 983.1h0M1225.6 987.1h0M1284.0 953.8h0M1244.2 1036.9h0M1259.2 1017.9h0M1268.2 935.0h0M1245.3 954.1h0M1209.7 926.3h0M1264.2 1028.0h0M1274.6 965.7h0M1281.8 1012.8h0M1243.0 1012.7h0M1263.7 911.4h0M1243.6 993.1h0M1210.2 1013.4h0M1258.7 921.6h0M1213.8 911.0h0M1212.1 924.1h0M1164.4 948.1h0M1255.9 932.3h0M1288.3 933.8h0M1270.3 944.5h0M1276.3 974.8h0M1271.8 966.9h0M1200.0 1023.3h0M1166.8 926.3h0M1182.1 981.6h0M1261.4 941.3h0M1238.6 1019.0h0M1164.8 1007.6h0M1181.8 913.3h0M1227.3 959.4h0M1214.7 991.4h0M1166.1 987.3h0M1182.9 1030.7h0M1224.8 937.2h0M1231.3 962.7h0M1173.3 1007.4h0M1219.3 1017.8h0M1261.3 1015.6h0M1286.1 947.7h0M1236.5 983.0h0M1243.3 1005.3h0M1261.9 993.2h0M1241.4 979.3h0M1182.3 944.7h0M1179.5 986.3h0M1241.7 938.6h0M1212.6 1020.8h0M1184.2 978.6h0M1229.8 970.2h0M1200.7 1031.8h0M1236.0 974.2h0M1174.1 914.8h0M1224.3 943.8h0M1251.8 1000.6h0M1171.9 958.4h0M1204.0 993.0h0M1236.7 1020.1h0M1169.2 971.2h0M1257.3 931.1h0M1169.4 967.0h0M1194.2 915.7h0M1272.9 1004.8h0M1250.0 1021.6h0M1258.3 966.4h0M1262.1 1029.0h0M1285.2 1021.8h0M1265.4 1033.8h0M1285.0 990.6h0M1218.0 998.5h0M1289.0 921.9h0M1219.7 927.6h0M1177.7 983.1h0M1188.1 923.1h0M1238.5 980.9h0M1227.6 913.1h0M1181.4 978.9h0M1172.3 923.9h0M1208.0 1030.9h0M1262.1 1023.5h0M1264.3 923.1h0M1256.7 995.7h0M1282.4 917.6h0M1186.4 926.4h0M1218.4 953.4h0M1199.1 1009.1h0M1284.1 1030.0h0M1174.1 931.2h0M1221.5 1008.6h0M1261.7 1017.3h0M1180.2 981.4h0M1170.9 998.0h0M1270.4 950.2h0M1212.9 919.3h0M1276.5 953.5h0M1200.0 958.8h0M1184.4 1036.5h0M1284.0 979.5h0M1215.2 972.2h0M1284.0 914.3h0M1192.4 996.3h0M1204.2 973.6h0M1176.5 964.8h0M1283.5 999.1h0M1240.4 1018.8h0M1186.7 1000.4h0M1287.6 957.6h0M1166.2 987.6h0M1281.3 924.2h0M1199.3 1000.1h0M1231.9 1036.9h0M1234.6 956.5h0M1210.0 972.7h0M1264.3 1007.1h0M1220.5 958.3h0M1242.7 933.6h0M1226.5 954.2h0M1166.5 997.0h0M1175.5 947.8h0M1241.2 1020.7h0M1246.3 1032.4h0M1167.0 1012.7h0M1258.8 1000.4h0M1287.1 918.7h0M1174.9 1031.9h0M1277.9 924.6h0M1223.3 1021.8h0M1240.0 913.8h0M1192.0 1016.7h0M1184.1 946.3h0M1269.4 933.4h0M1239.2 931.8h0M1185.8 980.3h0M1264.2 959.7h0M1195.6 1000.5h0M1256.7 911.7h0M1250.2 976.8h0" stroke="#e1d5d9" stroke-width="1.3" stroke-linecap="round" fill="none"/>
<path d="M1290.5 986.9h0M1242.9 919.5h0M1225.6 916.3h0M1186.1 974.4h0M1273.6 1033.7h0M1271.5 973.6h0M1221.6 998.9h0M1209.9 912.8h0M1259.9 1031.1h0M1277.8 991.8h0M1266.6 935.3h0M1194.3 1021.1h0M1230.2 939.0h0M1247.4 1002.4h0M1277.4 925.8h0M1202.8 975.5h0M1271.8 1036.2h0M1177.3 952.1h0M1217.4 1029.0h0M1248.1 949.3h0M1238.3 934.7h0M1274.6 963.6h0M1236.3 1012.0h0M1229.9 918.5h0M1209.0 911.2h0M1219.1 1036.0h0M1262.1 1034.7h0M1182.8 997.4h0M1264.3 966.8h0M1269.0 922.6h0M1279.8 1032.7h0M1190.2 919.1h0M1275.4 984.5h0M1290.3 980.4h0M1193.7 944.3h0M1249.2 953.6h0M1289.8 1009.3h0M1238.3 1021.4h0M1266.6 959.1h0M1241.9 964.8h0M1169.8 924.6h0M1198.1 913.6h0M1275.5 974.5h0M1196.0 921.5h0M1251.1 964.0h0M1274.6 989.9h0M1176.7 1033.9h0M1277.2 956.0h0M1266.1 991.0h0M1177.2 940.4h0M1205.1 982.1h0M1228.6 982.4h0M1168.0 956.6h0M1181.1 959.0h0M1291.7 922.6h0M1165.7 961.8h0M1212.9 920.6h0M1274.3 1012.5h0M1269.9 992.5h0M1229.5 982.1h0M1187.2 912.9h0M1286.9 1024.8h0M1199.8 977.4h0M1179.2 1015.4h0M1279.6 1035.3h0M1176.1 1034.6h0M1177.4 1006.6h0M1288.0 933.0h0M1240.4 1013.1h0M1265.9 1015.1h0M1249.7 974.9h0M1233.1 1007.6h0M1260.1 995.2h0M1275.6 944.9h0M1207.1 961.1h0M1197.8 1001.0h0M1166.1 1030.7h0M1184.3 993.5h0M1259.4 945.3h0M1168.6 1036.1h0M1281.1 973.9h0M1194.4 972.5h0M1242.5 925.5h0M1242.9 999.2h0M1191.9 954.9h0M1213.3 946.2h0M1220.1 926.3h0M1206.7 1021.2h0M1250.1 967.8h0M1180.8 953.5h0M1255.8 970.9h0M1261.6 998.5h0M1228.1 998.7h0M1228.5 953.7h0M1290.6 1003.9h0M1213.1 911.0h0M1223.7 952.7h0M1276.3 1033.0h0M1255.6 913.8h0M1251.3 935.2h0M1236.0 1015.1h0M1172.3 1034.4h0M1271.0 963.9h0M1232.1 954.1h0M1271.3 1033.4h0M1223.9 1010.4h0M1177.5 927.7h0M1282.6 932.1h0M1258.5 1003.5h0M1172.5 1017.9h0M1235.9 974.1h0M1255.6 961.8h0M1275.3 983.0h0M1263.4 964.6h0M1217.8 953.3h0M1188.1 1020.9h0M1239.6 1028.7h0M1245.7 1007.5h0M1237.6 973.9h0M1273.5 925.8h0M1243.5 911.1h0M1180.5 1035.2h0M1167.1 1013.3h0M1291.4 999.3h0M1289.3 929.4h0M1256.3 988.6h0M1228.9 919.6h0M1172.3 1012.8h0M1186.1 997.6h0M1182.7 992.3h0M1171.4 1034.1h0M1251.6 938.9h0M1288.3 930.3h0M1225.4 985.1h0M1182.8 998.3h0M1198.3 1012.7h0M1288.6 1029.0h0M1178.5 972.1h0M1252.6 914.4h0M1166.6 1009.3h0M1254.1 934.8h0M1258.8 1013.3h0M1200.9 980.7h0M1262.1 917.5h0M1255.8 1033.3h0M1289.9 1036.9h0M1268.1 1030.0h0M1213.5 947.6h0M1264.2 939.8h0M1197.3 988.1h0M1215.5 1028.6h0M1182.1 954.7h0M1277.7 948.6h0M1256.8 976.1h0M1285.4 928.9h0M1229.2 951.1h0M1255.5 1030.7h0M1252.2 1033.6h0M1272.3 969.1h0M1196.8 916.5h0M1212.4 953.1h0M1241.1 1034.6h0M1231.4 935.1h0M1271.5 956.2h0M1250.4 995.6h0M1246.9 922.5h0M1176.9 1004.1h0M1224.4 993.3h0M1279.3 952.0h0M1213.2 1003.0h0M1187.3 975.6h0M1175.5 1007.0h0M1199.1 937.6h0M1225.6 1009.6h0M1245.5 962.7h0M1177.7 965.5h0M1165.3 970.5h0M1177.4 996.3h0M1275.8 956.0h0M1288.1 986.5h0M1221.5 980.5h0M1266.5 1005.0h0M1280.4 1028.7h0M1189.4 1024.9h0M1280.3 956.3h0M1248.3 967.1h0M1208.9 967.8h0M1288.9 954.9h0M1169.7 1013.9h0M1193.6 912.1h0M1191.5 936.1h0M1237.5 922.7h0M1278.3 1001.1h0M1287.1 1026.4h0M1276.3 1030.9h0M1206.3 1019.0h0M1215.8 1029.1h0M1169.0 990.9h0M1226.6 1019.9h0M1191.2 1000.8h0M1207.3 1036.2h0M1230.4 960.4h0M1273.5 994.2h0M1248.0 994.5h0M1237.6 1004.1h0M1259.7 1001.1h0M1167.8 994.8h0M1292.0 1000.3h0M1237.0 925.2h0M1228.6 966.0h0M1186.4 948.6h0M1200.9 913.2h0M1226.0 1012.3h0M1243.3 1029.4h0M1281.2 991.5h0M1187.5 914.0h0M1239.6 920.2h0M1249.1 1019.3h0M1208.7 943.1h0M1190.5 1035.3h0M1219.8 954.3h0M1237.0 996.7h0M1218.9 987.1h0M1180.5 931.6h0M1207.5 987.3h0M1226.4 949.0h0M1208.6 915.3h0M1253.0 1019.9h0M1256.7 1006.0h0M1198.0 951.0h0M1221.3 929.6h0M1172.0 1014.4h0M1230.1 1018.6h0M1259.3 961.1h0M1186.1 943.1h0M1228.3 993.9h0M1203.7 955.5h0M1196.0 953.4h0M1209.2 972.6h0M1169.6 1010.2h0M1264.0 986.7h0M1261.9 983.4h0M1227.9 1024.6h0M1283.5 1028.1h0M1290.1 951.7h0M1209.6 1008.4h0M1210.3 966.2h0M1214.4 1012.3h0M1196.8 911.8h0M1280.8 985.9h0M1282.2 943.3h0M1167.0 916.2h0M1225.9 952.0h0M1184.1 1029.2h0M1288.0 939.6h0M1269.6 1033.0h0M1244.0 938.9h0M1174.5 952.1h0M1171.0 1026.2h0M1247.2 990.8h0" stroke="#eadfe6" stroke-width="1.6" stroke-linecap="round" fill="none"/>
<path d="M1281.8 955.1h0M1186.0 1004.5h0M1194.1 963.9h0M1282.1 1035.5h0M1209.6 956.3h0M1226.8 951.7h0M1166.9 923.5h0M1220.5 968.0h0M1283.9 925.2h0M1183.8 912.8h0M1201.2 924.3h0M1238.5 952.4h0M1283.5 945.2h0M1223.1 965.8h0M1258.9 939.9h0M1169.7 1009.4h0M1193.1 995.0h0M1253.6 982.0h0M1247.1 946.8h0M1275.0 941.8h0M1283.4 951.6h0M1246.4 972.4h0M1201.2 935.7h0M1229.5 1036.1h0M1223.8 1007.9h0M1279.2 946.0h0M1233.8 925.8h0M1279.8 1006.4h0M1189.6 1025.9h0M1257.7 984.4h0M1239.4 979.1h0M1266.8 961.0h0M1210.0 955.1h0M1177.8 1024.3h0M1197.7 927.9h0M1216.6 943.5h0M1274.9 928.8h0M1262.8 990.7h0M1169.9 947.9h0M1268.0 986.7h0M1225.4 996.6h0M1287.6 1032.3h0M1208.8 937.8h0M1255.7 979.5h0M1279.3 1024.5h0M1272.2 912.6h0M1203.4 1022.4h0M1281.9 923.4h0M1164.7 1031.4h0M1176.4 1001.3h0M1273.2 999.5h0M1214.1 970.4h0M1188.8 915.7h0M1167.9 923.8h0M1283.8 923.2h0M1277.6 946.2h0M1249.7 995.7h0M1188.9 913.6h0M1188.9 1005.0h0M1222.5 936.3h0M1210.8 971.1h0M1290.1 972.5h0M1258.1 912.3h0M1279.0 976.0h0M1205.7 1021.7h0M1184.1 917.8h0M1276.8 1024.5h0M1197.6 948.5h0M1250.8 945.6h0M1230.2 932.6h0M1278.1 940.7h0M1229.2 1017.8h0M1273.8 993.9h0M1195.8 920.8h0M1237.2 982.1h0M1257.2 973.5h0M1239.0 987.2h0M1276.5 1020.8h0M1172.1 1025.4h0M1210.7 928.8h0M1172.2 942.1h0M1219.5 961.5h0M1240.2 1017.6h0M1275.3 929.5h0M1171.7 1000.4h0M1256.6 1002.3h0M1201.0 959.9h0M1279.1 965.7h0M1212.1 984.0h0M1266.4 947.1h0M1222.2 1017.2h0M1248.9 924.8h0M1242.7 971.8h0M1219.5 981.6h0M1177.5 999.6h0M1167.1 941.1h0M1228.0 928.3h0M1224.2 917.2h0M1235.5 1036.3h0M1170.3 1035.2h0M1250.7 1005.5h0M1180.0 934.9h0M1234.6 1006.3h0M1174.7 916.1h0M1283.4 1007.3h0M1267.7 909.9h0M1179.1 986.5h0M1276.6 938.6h0M1259.5 1001.7h0M1240.0 985.2h0M1223.9 980.7h0M1242.1 950.6h0M1243.8 1022.1h0M1184.8 930.9h0M1276.8 1011.0h0M1193.9 937.3h0M1280.1 937.4h0M1169.3 926.9h0M1186.9 1036.8h0M1285.4 966.9h0M1238.1 1035.1h0M1178.7 949.6h0M1208.7 1021.7h0M1268.9 1021.4h0M1272.4 918.7h0M1219.4 955.0h0M1165.1 1035.0h0M1199.0 931.0h0M1228.3 914.5h0M1234.1 975.5h0M1278.8 956.1h0M1167.6 972.6h0M1274.7 993.9h0M1258.1 968.7h0M1204.6 964.2h0M1240.9 986.2h0M1202.5 1002.4h0M1224.8 1020.7h0M1276.6 970.3h0M1204.1 981.2h0M1212.1 987.6h0M1210.5 937.0h0M1174.5 935.3h0M1171.8 956.1h0M1256.0 931.0h0M1287.0 973.9h0M1264.5 1035.5h0M1267.2 991.0h0M1185.8 977.8h0M1236.7 1002.4h0M1285.1 949.9h0M1220.5 1028.4h0M1259.9 925.5h0M1196.5 987.0h0M1288.4 990.2h0M1231.0 1025.2h0M1273.5 1028.3h0M1238.3 993.6h0M1236.0 953.8h0M1221.0 922.8h0" stroke="#fbf8fb" stroke-width="1.8" stroke-linecap="round" fill="none"/>
<path d="M1263.7 1005.6h0M1201.3 911.4h0M1242.9 941.6h0M1183.7 917.5h0M1205.2 918.4h0M1209.3 1018.2h0M1267.4 1018.9h0M1267.6 966.5h0M1215.6 1027.3h0M1220.0 987.0h0M1169.9 982.5h0M1171.2 1000.4h0M1238.4 977.6h0M1238.2 957.7h0M1213.2 925.4h0M1240.0 1027.8h0M1220.5 1004.9h0M1231.3 975.8h0M1271.9 961.9h0M1203.1 1032.3h0M1208.5 960.4h0M1213.3 960.8h0M1202.3 989.9h0M1276.6 1020.4h0M1290.6 1035.4h0M1258.7 946.3h0M1252.6 978.0h0M1233.7 931.5h0M1220.1 959.0h0M1218.0 999.1h0M1213.4 949.7h0M1211.6 995.5h0M1164.3 934.5h0M1263.6 932.6h0M1213.5 977.1h0M1231.2 997.1h0" stroke="#dcc2b6" stroke-width="1.5" stroke-linecap="round" fill="none"/>
<ellipse cx="1218.2" cy="963.9" rx="3.2" ry="1.4" fill="#fff" opacity="0.9" transform="rotate(35 1218.2 963.9)"/>
<ellipse cx="1224.2" cy="1000.9" rx="3" ry="1.2" fill="#fff" opacity="0.9" transform="rotate(-20 1224.2 1000.9)"/>
<ellipse cx="1192.2" cy="977.9" rx="1.5" ry="1.5" fill="#fff" opacity="0.9" transform="rotate(0 1192.2 977.9)"/>
</g><g>
<ellipse cx="1206.4" cy="930.6" rx="0.9" ry="0.7" fill="#b4805a" opacity="0.36" transform="rotate(84 1206.4 930.6)"/>
<ellipse cx="1246.9" cy="920.9" rx="0.9" ry="0.7" fill="#b4805a" opacity="0.36" transform="rotate(85 1246.9 920.9)"/>
<ellipse cx="1232.6" cy="957.2" rx="0.9" ry="0.7" fill="#b4805a" opacity="0.36" transform="rotate(57 1232.6 957.2)"/>
<ellipse cx="1173.4" cy="974.8" rx="0.9" ry="0.7" fill="#b4805a" opacity="0.36" transform="rotate(47 1173.4 974.8)"/>
<ellipse cx="1170.8" cy="965.7" rx="0.9" ry="0.7" fill="#b4805a" opacity="0.36" transform="rotate(2 1170.8 965.7)"/>
<ellipse cx="1174.9" cy="923.1" rx="0.9" ry="0.7" fill="#b4805a" opacity="0.36" transform="rotate(14 1174.9 923.1)"/>
<ellipse cx="1218.8" cy="1014.4" rx="0.9" ry="0.7" fill="#b4805a" opacity="0.36" transform="rotate(31 1218.8 1014.4)"/>
<ellipse cx="1181.6" cy="939.6" rx="0.9" ry="0.7" fill="#b4805a" opacity="0.36" transform="rotate(1 1181.6 939.6)"/>
<ellipse cx="1244.0" cy="1029.4" rx="0.9" ry="0.7" fill="#b4805a" opacity="0.36" transform="rotate(160 1244.0 1029.4)"/>
<ellipse cx="1237.8" cy="961.1" rx="0.9" ry="0.7" fill="#b4805a" opacity="0.36" transform="rotate(130 1237.8 961.1)"/>
<ellipse cx="1287.3" cy="917.7" rx="0.9" ry="0.7" fill="#b4805a" opacity="0.36" transform="rotate(110 1287.3 917.7)"/>
<ellipse cx="1272.7" cy="947.8" rx="0.9" ry="0.7" fill="#b4805a" opacity="0.36" transform="rotate(88 1272.7 947.8)"/>
<ellipse cx="1184.1" cy="926.5" rx="0.9" ry="0.7" fill="#b4805a" opacity="0.36" transform="rotate(0 1184.1 926.5)"/>
<ellipse cx="1204.5" cy="1013.1" rx="0.9" ry="0.7" fill="#b4805a" opacity="0.36" transform="rotate(30 1204.5 1013.1)"/>
<ellipse cx="1188.6" cy="984.0" rx="0.9" ry="0.7" fill="#b4805a" opacity="0.36" transform="rotate(120 1188.6 984.0)"/>
<ellipse cx="1245.4" cy="958.1" rx="0.9" ry="0.7" fill="#b4805a" opacity="0.36" transform="rotate(136 1245.4 958.1)"/>
</g></g>
<rect x="1163.2" y="908.9" width="130.2" height="130.2" fill="none" stroke="#000" stroke-width="2"/>
<line x1="1286.4" y1="1035.8" x2="1289.9" y2="1035.8" stroke="#444" stroke-width="0.7"/>
<rect x="1313.7" y="908.9" width="130.2" height="130.2" fill="#f1ecf5"/>
<g clip-path="url(#cp03)"><g filter="url(#bl)">
<path d="M1440.0 968.3h0M1406.7 1004.0h0M1342.2 919.9h0M1391.9 925.5h0M1363.6 1023.8h0M1426.3 925.1h0M1325.2 938.4h0M1420.7 913.1h0M1343.5 923.6h0M1331.0 976.9h0M1338.2 962.3h0M1408.5 1002.4h0M1367.8 1010.5h0M1388.0 1015.8h0M1346.6 957.1h0M1389.0 1031.0h0M1393.8 970.7h0M1346.8 945.9h0M1342.3 1036.2h0M1428.2 1024.4h0M1382.4 1000.6h0M1352.7 971.5h0M1333.3 963.7h0M1347.0 922.7h0M1432.4 922.3h0M1418.8 999.4h0M1326.2 972.0h0M1442.2 1036.2h0M1386.8 1008.7h0M1405.4 947.2h0M1385.1 986.3h0M1365.1 1014.7h0M1371.6 1005.8h0M1323.0 966.8h0M1320.4 992.7h0M1426.4 979.5h0M1387.1 989.6h0M1344.0 959.3h0M1388.8 992.6h0M1363.3 971.0h0M1357.0 980.9h0M1401.2 951.9h0M1402.4 1018.6h0M1383.4 1035.4h0M1354.3 1027.6h0M1338.0 956.4h0M1419.3 914.1h0M1393.4 1021.4h0M1435.5 997.2h0M1358.9 952.4h0M1395.5 918.4h0M1318.3 1022.8h0M1394.9 930.7h0M1369.6 946.9h0M1426.0 946.5h0M1407.4 1005.1h0M1355.5 942.2h0M1381.4 961.1h0M1390.7 951.9h0M1416.4 963.7h0M1332.1 1009.0h0M1429.3 997.1h0M1384.7 1021.5h0M1434.2 911.1h0M1377.1 912.3h0M1357.4 940.9h0M1373.8 996.6h0M1424.9 943.3h0M1316.2 1037.8h0M1414.8 980.3h0M1329.1 916.6h0M1434.3 977.7h0M1424.8 1010.2h0M1410.8 1013.0h0M1347.1 941.4h0M1370.2 1008.2h0M1416.4 1006.9h0M1388.9 970.9h0M1339.6 995.2h0M1398.4 975.8h0M1407.7 1035.2h0M1435.5 923.6h0M1351.5 988.4h0M1403.0 946.3h0M1433.8 968.9h0M1412.6 916.6h0M1350.4 912.8h0M1416.0 976.7h0M1436.7 987.6h0M1356.3 955.5h0M1362.7 935.2h0M1328.5 993.1h0M1354.9 968.0h0M1405.5 945.0h0M1371.0 951.3h0M1356.2 995.2h0M1327.3 961.0h0M1328.8 995.7h0M1352.8 1033.4h0M1376.5 994.6h0M1381.7 1014.8h0M1404.4 992.0h0M1318.8 928.1h0M1410.8 962.6h0M1439.6 991.3h0M1420.1 1005.3h0M1438.0 994.1h0M1434.7 964.4h0M1348.9 924.0h0M1347.0 1024.4h0M1398.9 915.5h0M1318.3 968.8h0M1384.4 956.1h0M1317.2 943.4h0M1426.9 1002.7h0M1419.5 944.4h0M1400.2 935.2h0M1353.3 1032.3h0M1342.0 947.3h0M1342.6 1021.0h0M1402.7 985.5h0M1423.6 969.2h0M1431.9 1009.4h0M1353.0 940.1h0M1383.5 967.0h0M1415.8 993.4h0M1409.8 987.1h0M1348.5 1005.1h0M1440.3 991.5h0M1405.7 939.8h0M1329.8 967.2h0M1390.7 1003.0h0M1375.4 979.5h0M1326.0 916.0h0M1330.3 950.7h0M1345.8 928.2h0M1358.0 953.0h0M1420.2 1029.6h0M1441.9 1004.3h0M1316.1 940.4h0M1442.6 999.0h0M1424.5 935.5h0M1345.5 922.5h0M1381.9 956.7h0M1375.0 927.6h0M1318.0 959.3h0M1433.3 993.4h0M1387.9 918.0h0M1370.2 957.1h0M1395.4 961.5h0M1417.3 945.1h0M1408.0 910.5h0M1333.4 1011.9h0M1423.9 948.8h0M1340.1 1032.9h0M1390.5 921.4h0M1441.3 982.3h0M1353.0 974.7h0M1362.0 983.8h0M1367.7 958.0h0M1408.4 949.0h0M1421.0 1005.5h0M1435.5 929.6h0M1424.9 1001.2h0M1338.1 1026.6h0M1379.0 932.7h0M1341.5 1037.8h0M1417.4 939.8h0M1428.9 914.8h0M1403.8 990.9h0M1426.0 1026.1h0M1408.4 1017.9h0M1374.1 1029.4h0M1369.7 1003.1h0M1410.8 961.6h0M1419.6 1001.8h0M1335.1 985.1h0M1376.9 986.2h0M1318.4 999.6h0M1365.5 1004.3h0M1345.6 912.5h0M1374.3 991.7h0M1414.4 979.1h0M1427.4 930.9h0M1330.5 961.5h0M1398.8 1007.9h0M1323.0 986.5h0M1359.5 977.5h0M1327.3 930.5h0M1396.2 953.5h0M1439.6 974.8h0M1359.4 933.9h0M1382.1 975.3h0M1347.5 1034.0h0M1379.8 1008.8h0M1402.3 1016.4h0M1327.9 1033.1h0M1391.2 931.0h0M1390.8 917.2h0M1368.8 922.4h0M1320.9 967.5h0M1422.1 1007.0h0M1434.4 1009.6h0M1393.8 986.9h0M1437.4 926.5h0M1381.3 979.6h0M1316.5 1021.9h0M1401.7 953.4h0M1416.4 970.9h0M1407.7 980.2h0M1424.8 974.5h0M1326.2 1007.6h0M1344.2 983.1h0M1434.1 1002.5h0M1323.6 1017.3h0M1438.4 969.4h0M1347.3 969.2h0M1382.8 915.8h0M1423.1 992.2h0M1365.9 1014.2h0M1336.9 1023.8h0M1424.7 970.7h0M1329.1 967.3h0M1328.2 980.1h0M1332.9 976.5h0M1367.1 951.3h0M1389.3 978.3h0M1427.6 967.1h0M1388.2 1003.0h0M1335.7 978.7h0M1337.8 973.3h0M1379.8 1025.9h0M1437.9 948.9h0M1424.0 957.6h0M1346.7 986.2h0M1353.4 1031.0h0M1430.1 914.0h0M1440.7 1023.6h0M1332.3 994.4h0M1386.1 930.2h0M1405.0 911.2h0M1358.9 974.8h0M1417.4 962.0h0M1351.5 970.0h0M1383.7 961.1h0M1327.1 1017.4h0M1341.1 933.8h0M1342.6 1033.3h0M1324.6 989.7h0M1387.9 939.0h0M1415.0 932.8h0M1329.3 913.4h0M1399.3 916.6h0M1393.5 993.9h0M1327.8 1033.8h0M1332.2 951.7h0M1417.2 944.1h0M1414.4 999.0h0M1411.8 958.0h0M1349.9 970.1h0M1394.5 912.8h0M1326.5 944.8h0M1321.3 1006.5h0M1439.2 975.9h0M1357.2 964.4h0M1426.8 1002.5h0M1386.2 991.4h0M1431.7 989.2h0M1341.7 1023.7h0M1320.3 927.8h0M1339.5 958.9h0M1388.4 1015.7h0M1347.3 1022.0h0M1442.1 1021.7h0M1418.7 982.5h0M1372.6 930.0h0M1363.8 938.6h0M1360.9 918.8h0M1438.1 963.5h0M1326.5 926.1h0M1372.0 919.9h0M1400.7 949.2h0M1396.7 953.4h0M1364.4 1022.8h0M1373.3 1026.7h0M1401.2 1005.6h0M1408.5 981.7h0M1354.9 997.1h0M1319.3 941.6h0M1417.7 1018.0h0M1317.5 1010.1h0M1372.3 937.1h0M1432.2 983.7h0M1346.4 1027.4h0M1323.1 1000.3h0M1407.7 1004.3h0M1375.2 948.3h0M1342.8 1007.1h0M1378.8 913.4h0M1403.6 1003.2h0M1415.9 970.8h0M1402.0 987.5h0M1416.1 944.3h0M1342.7 1017.5h0M1348.1 912.4h0M1401.8 1010.3h0M1425.4 1035.8h0M1324.3 1030.8h0M1351.0 927.2h0M1350.9 921.5h0M1315.4 928.8h0M1386.0 918.0h0M1412.0 910.2h0M1342.8 931.2h0M1329.6 909.9h0M1379.9 918.7h0M1329.7 910.1h0M1421.3 930.3h0M1367.3 1009.0h0M1333.3 956.2h0M1421.4 991.0h0M1332.0 976.5h0M1421.7 978.9h0M1349.6 937.0h0M1430.5 960.1h0M1339.8 945.1h0M1391.1 1019.5h0M1399.2 987.7h0M1359.6 940.0h0M1401.1 955.7h0M1352.9 1005.0h0M1432.3 1018.3h0M1330.2 1007.4h0M1383.7 918.5h0M1418.2 979.5h0M1376.5 918.6h0M1385.9 971.4h0M1420.5 1026.1h0M1331.6 1026.2h0M1365.3 912.0h0M1411.0 1013.7h0M1416.3 929.6h0M1409.2 1028.9h0M1436.7 956.2h0M1422.5 924.1h0M1428.2 984.9h0M1399.3 1007.6h0M1347.9 939.1h0M1322.9 1001.1h0M1319.0 912.6h0M1398.2 973.6h0M1441.8 927.4h0M1382.8 934.7h0M1417.5 1032.0h0M1438.1 924.6h0M1408.3 980.2h0M1327.6 965.9h0M1407.6 1002.1h0M1373.1 920.7h0M1363.6 950.9h0M1359.5 1031.6h0M1393.6 990.6h0M1315.0 953.7h0M1413.5 929.6h0M1317.1 946.9h0M1332.5 983.6h0M1356.3 1015.2h0M1414.7 958.1h0M1431.9 1021.5h0M1434.8 1032.8h0M1429.2 1030.2h0M1373.7 1036.6h0M1349.3 994.4h0M1316.9 1037.2h0M1401.8 916.4h0M1438.0 991.2h0M1365.9 973.2h0M1437.9 1027.3h0M1330.9 940.8h0M1337.2 914.1h0M1332.9 984.9h0M1397.8 1008.8h0M1421.3 999.6h0M1433.7 912.7h0M1439.2 966.5h0M1412.0 986.4h0M1413.0 995.4h0M1334.6 978.4h0M1320.8 1021.9h0M1409.6 948.6h0M1356.5 952.0h0M1329.9 978.9h0M1404.6 954.0h0M1369.9 1020.6h0M1404.1 928.4h0M1343.5 1025.5h0M1396.2 929.0h0M1374.8 957.5h0M1392.5 1019.5h0M1416.7 948.5h0M1346.1 922.5h0M1349.3 993.3h0M1399.5 976.1h0M1410.3 922.8h0M1336.2 931.3h0M1405.6 993.4h0M1362.6 1020.3h0M1350.5 1028.1h0M1430.0 932.5h0M1401.4 991.2h0M1347.2 942.8h0M1330.4 960.9h0M1413.2 953.8h0M1415.5 956.8h0M1402.0 952.9h0M1392.7 992.6h0M1377.7 946.0h0M1325.7 931.1h0M1389.4 976.0h0M1322.8 999.8h0" stroke="#dcd5e8" stroke-width="1.3" stroke-linecap="round" fill="none"/>
<path d="M1325.2 928.5h0M1427.6 963.5h0M1367.3 992.5h0M1377.3 951.3h0M1437.5 993.5h0M1378.6 965.8h0M1389.2 1014.8h0M1364.7 939.3h0M1327.9 1024.7h0M1441.4 1012.8h0M1390.6 993.5h0M1397.5 917.5h0M1354.7 957.9h0M1339.5 977.7h0M1433.3 1008.6h0M1358.9 966.9h0M1430.2 982.3h0M1351.8 989.4h0M1335.5 1013.0h0M1363.9 957.6h0M1417.7 930.1h0M1376.3 926.4h0M1361.7 954.5h0M1439.8 1006.5h0M1341.5 927.8h0M1336.1 966.6h0M1399.0 1026.1h0M1377.2 929.4h0M1324.9 984.9h0M1404.2 1015.8h0M1333.1 920.6h0M1328.4 974.1h0M1416.5 954.2h0M1345.2 927.0h0M1377.6 944.9h0M1398.0 969.5h0M1396.8 929.7h0M1386.9 975.9h0M1401.3 944.7h0M1334.0 935.2h0M1396.1 1022.5h0M1384.5 978.9h0M1379.5 1029.6h0M1356.8 913.3h0M1360.0 947.2h0M1340.6 955.0h0M1404.6 1036.4h0M1315.0 929.0h0M1344.5 1005.8h0M1352.5 949.6h0M1385.9 933.0h0M1379.6 913.1h0M1350.2 1019.3h0M1380.3 991.2h0M1350.5 929.6h0M1420.5 972.4h0M1356.8 984.8h0M1414.6 1003.1h0M1345.5 1025.8h0M1366.3 952.6h0M1328.6 1031.6h0M1385.2 980.4h0M1432.6 919.6h0M1351.5 919.0h0M1376.5 912.8h0M1432.9 975.1h0M1419.8 1019.9h0M1432.4 948.6h0M1396.1 993.4h0M1434.4 946.4h0M1398.5 1011.2h0M1384.2 918.8h0M1417.2 914.9h0M1368.9 947.4h0M1370.6 1023.6h0M1437.1 1024.2h0M1422.1 913.6h0M1389.8 979.5h0M1399.5 965.2h0M1415.7 916.6h0M1419.2 1023.1h0M1375.6 979.9h0M1322.3 1015.3h0M1419.9 923.1h0M1378.3 928.8h0M1439.3 1004.5h0M1424.6 978.3h0M1416.6 938.6h0M1376.0 986.9h0M1424.7 954.1h0M1316.5 970.5h0M1343.7 935.2h0M1341.5 1020.9h0M1369.0 952.5h0M1354.6 985.0h0M1378.6 994.0h0M1414.1 1017.0h0M1360.9 974.9h0M1420.1 1005.2h0M1332.9 975.7h0M1364.4 989.0h0M1347.8 990.2h0M1385.2 989.6h0M1401.5 954.3h0M1348.0 920.6h0M1398.3 1021.8h0M1342.1 957.2h0M1333.5 1021.0h0M1401.7 1031.1h0M1376.9 944.0h0M1380.0 951.8h0M1362.2 1006.3h0M1383.2 934.4h0M1357.0 1013.8h0M1392.5 1019.7h0M1415.6 915.5h0M1354.6 999.1h0M1362.7 968.2h0M1407.6 943.0h0M1322.2 935.5h0M1364.9 983.5h0M1319.6 925.6h0M1402.5 1005.6h0M1392.4 997.1h0M1365.9 1025.2h0M1332.1 1012.0h0M1406.1 1007.2h0M1439.0 945.7h0M1359.1 970.6h0M1340.9 966.6h0M1378.3 954.7h0M1420.1 938.3h0M1405.9 1000.1h0M1363.7 1025.5h0M1425.6 921.1h0M1351.6 981.5h0M1421.6 1004.5h0M1400.9 1001.5h0M1380.0 1025.6h0M1324.7 993.6h0M1383.7 975.7h0M1318.0 920.6h0M1404.6 986.9h0M1381.4 979.0h0M1315.7 979.9h0M1439.1 988.8h0M1432.4 910.5h0M1431.7 973.3h0M1387.0 1016.9h0M1348.3 993.2h0M1414.5 1031.4h0M1385.5 949.8h0M1342.2 912.4h0M1342.4 911.6h0M1433.0 1006.2h0M1441.6 993.7h0M1344.8 938.1h0M1420.8 1019.4h0M1329.8 997.1h0M1358.2 923.0h0M1342.2 960.1h0M1328.4 1021.5h0M1419.9 982.7h0M1338.1 1000.2h0M1387.7 1006.9h0M1434.4 1010.3h0M1418.1 1009.2h0M1419.4 933.2h0M1390.6 963.8h0M1335.5 990.0h0M1419.6 1000.3h0M1328.3 942.6h0M1432.4 923.3h0M1370.5 940.5h0M1336.3 1012.0h0M1328.5 1015.8h0M1362.7 990.0h0M1349.5 1004.2h0M1376.0 1009.5h0M1390.5 1023.1h0M1368.9 936.5h0M1320.3 984.8h0M1399.8 986.2h0M1315.2 1000.8h0M1432.7 968.9h0M1364.2 915.8h0M1438.5 955.0h0M1316.2 940.4h0M1332.8 1031.6h0M1421.5 1025.0h0M1343.9 918.1h0M1346.1 996.6h0M1345.1 956.1h0M1396.0 968.9h0M1329.7 947.4h0M1346.3 976.9h0M1323.8 934.7h0M1336.5 942.0h0M1360.9 928.4h0M1347.2 974.8h0M1381.0 1019.7h0M1432.9 949.3h0M1352.3 984.0h0M1344.9 922.2h0M1428.6 911.1h0M1331.9 1021.9h0M1405.0 1000.6h0M1376.8 982.7h0M1405.1 973.9h0M1440.2 1015.5h0M1349.4 1022.0h0M1380.3 958.6h0M1389.3 1036.0h0M1409.0 965.7h0M1382.1 956.5h0M1417.7 952.3h0M1419.8 956.4h0M1439.1 1013.4h0M1334.5 948.4h0M1370.4 969.7h0M1383.4 981.8h0M1415.8 965.1h0M1329.9 1002.9h0M1316.4 957.7h0M1315.8 1032.2h0M1394.3 955.6h0M1375.7 926.2h0M1323.0 926.2h0M1322.9 956.2h0M1373.5 998.2h0M1369.4 1029.1h0M1342.7 936.0h0M1388.2 989.8h0M1358.3 934.2h0M1424.4 935.7h0M1352.5 1005.1h0M1440.1 979.6h0M1398.8 957.2h0M1335.0 1029.9h0M1408.1 975.2h0M1439.3 979.1h0M1366.8 938.6h0M1337.1 1008.8h0M1434.5 927.3h0M1331.8 1013.7h0M1328.4 987.3h0M1438.6 920.7h0M1327.6 1011.7h0M1341.1 962.4h0M1422.8 970.7h0M1320.7 1035.9h0M1390.6 910.6h0M1437.0 941.8h0M1365.0 1026.5h0M1417.4 1032.3h0M1396.5 1035.7h0M1332.9 989.9h0M1381.6 974.4h0M1420.9 1025.1h0M1328.2 995.5h0" stroke="#eadfe6" stroke-width="1.6" stroke-linecap="round" fill="none"/>
<path d="M1357.0 940.0h0M1370.3 941.3h0M1433.3 1008.0h0M1429.7 942.0h0M1374.6 953.9h0M1409.3 946.0h0M1409.7 989.3h0M1367.8 1026.1h0M1411.6 1035.5h0M1406.4 1022.6h0M1342.0 1037.2h0M1358.3 1014.6h0M1351.5 987.4h0M1361.2 1020.7h0M1440.5 931.8h0M1438.3 1031.0h0M1436.0 941.6h0M1338.2 1014.9h0M1381.5 988.5h0M1418.1 943.9h0M1410.3 979.0h0M1378.4 920.3h0M1396.5 1030.8h0M1371.7 1036.8h0M1321.8 967.5h0M1434.7 973.2h0M1340.5 970.4h0M1423.0 969.8h0M1437.5 951.2h0M1346.6 1035.3h0M1439.1 970.5h0M1335.2 1021.5h0M1323.7 1033.8h0M1325.3 945.3h0M1428.1 925.2h0M1338.2 939.2h0M1429.5 973.8h0M1407.4 946.7h0M1411.8 1010.6h0M1356.8 987.4h0M1427.9 975.6h0M1401.4 920.6h0M1397.6 1013.3h0M1345.6 1025.1h0M1340.2 911.0h0M1335.7 915.3h0M1417.8 979.1h0M1391.4 1018.8h0M1319.6 963.9h0M1351.2 968.4h0M1359.6 914.0h0M1333.9 930.6h0M1420.5 926.0h0M1377.6 973.4h0M1381.5 920.9h0M1356.8 1029.9h0M1367.3 976.3h0M1382.8 957.8h0M1324.8 981.9h0M1435.5 1021.9h0M1356.6 972.8h0M1343.5 980.4h0M1412.8 982.3h0M1335.0 951.9h0M1318.2 958.7h0M1352.6 915.2h0M1400.5 980.5h0M1359.9 951.6h0M1327.7 981.8h0M1387.5 961.4h0M1346.8 982.3h0M1366.6 1003.6h0M1319.5 1028.4h0M1429.8 1037.8h0M1323.4 978.3h0M1359.4 956.1h0M1394.0 1021.7h0M1388.6 1010.7h0M1427.0 953.1h0M1318.5 953.9h0M1381.8 922.1h0M1397.8 977.0h0M1379.8 922.4h0M1441.7 913.1h0M1334.9 1020.8h0M1433.1 1015.1h0M1426.4 915.5h0M1439.2 1023.1h0M1394.9 1009.8h0M1346.8 984.9h0M1370.1 985.6h0M1368.5 1030.5h0M1366.7 953.6h0M1386.4 1008.8h0M1332.4 975.0h0M1441.3 940.3h0M1378.9 1033.0h0M1416.4 983.1h0M1387.3 922.1h0M1317.2 1037.0h0M1371.0 943.1h0M1360.0 1024.7h0M1372.1 1003.7h0M1320.0 1012.5h0M1366.5 992.4h0M1408.4 924.6h0M1398.8 963.0h0M1367.5 954.3h0M1425.4 910.7h0M1368.4 920.6h0M1381.4 932.3h0M1380.3 1030.8h0M1424.8 928.4h0M1368.5 921.4h0M1341.2 1007.6h0M1384.4 936.7h0M1382.1 1022.2h0M1342.9 975.4h0M1377.7 911.8h0M1435.6 928.0h0M1340.4 929.8h0M1406.2 991.7h0M1335.8 918.4h0M1380.6 934.2h0M1404.1 913.2h0M1334.8 949.5h0M1388.7 1022.7h0M1426.8 978.6h0M1361.0 976.9h0M1325.7 994.2h0M1376.0 962.4h0M1393.1 1015.0h0M1326.0 998.0h0M1388.3 1015.6h0M1343.3 972.0h0M1420.7 963.1h0M1380.0 1033.1h0M1406.7 918.6h0M1441.9 1034.2h0M1383.6 1009.9h0M1332.9 1001.5h0M1425.1 1008.8h0M1330.2 962.3h0M1438.5 1004.0h0M1390.3 969.7h0M1385.4 952.3h0M1418.5 950.2h0M1421.3 968.7h0M1413.0 961.5h0M1346.6 921.7h0M1406.3 928.7h0M1383.3 1030.7h0M1403.3 1026.3h0M1411.4 927.1h0M1366.1 1025.0h0M1326.7 952.4h0M1379.7 974.6h0M1405.5 985.7h0M1419.2 1033.6h0M1437.7 938.7h0" stroke="#fbf8fb" stroke-width="1.8" stroke-linecap="round" fill="none"/>
<path d="M1349.7 930.7h0M1398.3 1017.5h0M1418.7 1012.9h0M1331.2 985.6h0M1326.4 995.5h0M1341.3 1005.6h0M1365.8 986.4h0M1396.4 988.6h0M1439.8 954.9h0M1392.8 963.5h0M1351.4 969.3h0M1407.1 946.5h0M1370.5 929.9h0M1329.4 921.1h0M1318.2 962.4h0M1436.4 943.6h0M1396.0 959.1h0M1324.4 940.4h0M1426.6 1009.1h0M1370.0 968.0h0M1316.5 954.0h0M1433.4 971.5h0M1423.8 917.8h0M1320.3 992.9h0M1319.7 1032.5h0M1426.1 990.8h0M1435.2 991.6h0M1403.7 949.7h0M1394.8 916.5h0M1423.4 933.8h0M1420.8 957.0h0M1394.5 957.9h0M1358.6 980.6h0M1351.1 996.3h0M1439.9 1011.9h0M1409.5 929.6h0" stroke="#dcc2b6" stroke-width="1.5" stroke-linecap="round" fill="none"/>
<ellipse cx="1396.7" cy="1013.9" rx="10" ry="1.6" fill="#fff" opacity="0.9" transform="rotate(68 1396.7 1013.9)"/>
<ellipse cx="1342.7" cy="1005.9" rx="2" ry="1.5" fill="#fff" opacity="0.9" transform="rotate(0 1342.7 1005.9)"/>
<ellipse cx="1428.7" cy="961.9" rx="2.2" ry="1.6" fill="#fff" opacity="0.9" transform="rotate(0 1428.7 961.9)"/>
<ellipse cx="1318.7" cy="999.9" rx="4" ry="1.2" fill="#fff" opacity="0.9" transform="rotate(70 1318.7 999.9)"/>
</g><g>
<ellipse cx="1384.6" cy="919.7" rx="0.9" ry="0.7" fill="#b4805a" opacity="0.40" transform="rotate(51 1384.6 919.7)"/>
<ellipse cx="1324.1" cy="937.4" rx="0.9" ry="0.7" fill="#b4805a" opacity="0.40" transform="rotate(41 1324.1 937.4)"/>
<ellipse cx="1401.1" cy="964.9" rx="0.9" ry="0.7" fill="#b4805a" opacity="0.40" transform="rotate(14 1401.1 964.9)"/>
<ellipse cx="1355.7" cy="984.5" rx="0.9" ry="0.7" fill="#b4805a" opacity="0.40" transform="rotate(52 1355.7 984.5)"/>
<ellipse cx="1372.9" cy="949.1" rx="0.9" ry="0.7" fill="#b4805a" opacity="0.40" transform="rotate(79 1372.9 949.1)"/>
<ellipse cx="1415.2" cy="998.6" rx="0.9" ry="0.7" fill="#b4805a" opacity="0.40" transform="rotate(100 1415.2 998.6)"/>
<ellipse cx="1347.0" cy="983.1" rx="0.9" ry="0.7" fill="#b4805a" opacity="0.40" transform="rotate(136 1347.0 983.1)"/>
<ellipse cx="1381.8" cy="1020.4" rx="0.9" ry="0.7" fill="#b4805a" opacity="0.40" transform="rotate(61 1381.8 1020.4)"/>
<ellipse cx="1407.2" cy="947.6" rx="0.9" ry="0.7" fill="#b4805a" opacity="0.40" transform="rotate(93 1407.2 947.6)"/>
<ellipse cx="1438.2" cy="926.5" rx="0.9" ry="0.7" fill="#b4805a" opacity="0.40" transform="rotate(156 1438.2 926.5)"/>
<ellipse cx="1368.5" cy="1005.8" rx="0.9" ry="0.7" fill="#b4805a" opacity="0.40" transform="rotate(76 1368.5 1005.8)"/>
<ellipse cx="1335.5" cy="972.5" rx="0.9" ry="0.7" fill="#b4805a" opacity="0.40" transform="rotate(121 1335.5 972.5)"/>
<ellipse cx="1321.6" cy="994.8" rx="0.9" ry="0.7" fill="#b4805a" opacity="0.40" transform="rotate(144 1321.6 994.8)"/>
<ellipse cx="1411.5" cy="983.0" rx="0.9" ry="0.7" fill="#b4805a" opacity="0.40" transform="rotate(103 1411.5 983.0)"/>
<ellipse cx="1425.3" cy="950.8" rx="0.9" ry="0.7" fill="#b4805a" opacity="0.40" transform="rotate(171 1425.3 950.8)"/>
<ellipse cx="1402.9" cy="985.6" rx="0.9" ry="0.7" fill="#b4805a" opacity="0.40" transform="rotate(21 1402.9 985.6)"/>
</g></g>
<rect x="1313.7" y="908.9" width="130.2" height="130.2" fill="none" stroke="#000" stroke-width="2"/>
<line x1="1436.9" y1="1035.8" x2="1440.4" y2="1035.8" stroke="#444" stroke-width="0.7"/>
<rect x="1463.8" y="908.9" width="130.2" height="130.2" fill="#f6f0f4"/>
<g clip-path="url(#cp04)"><g filter="url(#bl)">
<path d="M1587.7 1021.5h0M1558.5 939.0h0M1507.1 1001.3h0M1568.1 912.0h0M1486.1 1024.5h0M1479.9 993.8h0M1507.0 992.5h0M1575.2 984.3h0M1514.9 951.2h0M1544.3 990.3h0M1517.2 969.6h0M1533.5 943.0h0M1487.8 982.7h0M1477.6 986.4h0M1567.4 1015.9h0M1497.1 963.0h0M1583.0 954.7h0M1591.7 935.5h0M1572.4 915.1h0M1550.2 1013.0h0M1534.9 990.9h0M1581.8 1037.4h0M1487.8 976.8h0M1469.9 958.4h0M1483.4 930.4h0M1544.8 920.7h0M1484.5 911.2h0M1568.9 941.1h0M1474.1 989.4h0M1556.6 990.6h0M1534.9 978.3h0M1556.9 949.6h0M1572.7 998.7h0M1574.6 1023.9h0M1572.3 976.4h0M1531.7 1003.8h0M1538.9 913.5h0M1582.2 935.4h0M1526.8 967.8h0M1476.7 983.9h0M1540.4 1014.0h0M1543.2 949.1h0M1537.1 1032.7h0M1546.3 1017.9h0M1466.2 998.2h0M1491.8 930.7h0M1507.2 932.7h0M1475.8 936.9h0M1494.3 941.8h0M1567.1 920.5h0M1490.4 916.9h0M1529.6 939.2h0M1532.7 940.3h0M1490.0 972.4h0M1474.0 1023.1h0M1536.8 960.5h0M1535.2 1031.2h0M1528.1 960.4h0M1492.6 958.6h0M1563.8 988.4h0M1500.1 1024.9h0M1481.9 955.4h0M1564.1 1027.0h0M1523.6 911.3h0M1536.6 964.6h0M1468.6 954.5h0M1577.7 914.7h0M1487.6 931.3h0M1566.9 949.3h0M1552.4 996.3h0M1466.3 966.0h0M1480.0 1012.2h0M1527.4 957.1h0M1568.8 1015.2h0M1473.5 922.0h0M1506.1 950.0h0M1521.2 964.6h0M1589.3 995.8h0M1587.9 989.0h0M1494.7 982.6h0M1485.3 984.7h0M1483.1 1029.0h0M1503.6 1024.4h0M1493.0 936.5h0M1496.3 1015.3h0M1570.8 1005.3h0M1538.4 928.6h0M1495.3 914.1h0M1583.9 926.3h0M1556.4 910.0h0M1501.2 987.1h0M1488.2 918.8h0M1579.5 946.6h0M1465.6 1000.1h0M1591.4 979.7h0M1469.3 963.4h0M1542.8 941.2h0M1518.2 1004.8h0M1549.0 1016.3h0M1586.4 976.3h0M1590.4 924.9h0M1531.0 996.4h0M1583.7 970.1h0M1520.7 1024.0h0M1525.0 917.3h0M1522.6 944.5h0M1548.8 1014.4h0M1470.8 950.4h0M1580.0 1013.5h0M1565.1 959.7h0M1586.9 1018.5h0M1569.6 979.5h0M1546.9 926.8h0M1469.3 911.8h0M1471.7 975.2h0M1585.7 983.6h0M1565.7 1006.5h0M1585.7 945.3h0M1528.4 1028.3h0M1507.1 999.2h0M1517.6 929.5h0M1490.8 956.0h0M1468.5 1022.8h0M1510.3 940.7h0M1567.2 910.6h0M1562.3 967.5h0M1476.3 960.8h0M1591.0 915.0h0M1501.2 932.7h0M1540.5 935.4h0M1573.4 956.5h0M1586.4 925.4h0M1494.2 913.3h0M1470.5 933.4h0M1540.0 980.4h0M1557.8 939.8h0M1541.5 1035.9h0M1505.9 940.0h0M1488.6 1033.4h0M1546.3 973.1h0M1528.2 920.1h0M1493.6 999.5h0M1497.0 975.7h0M1580.5 933.3h0M1525.2 1007.5h0M1560.0 1015.7h0M1581.4 983.8h0M1493.7 975.1h0M1583.5 935.3h0M1502.4 935.2h0M1577.3 922.3h0M1484.2 987.9h0M1558.1 963.9h0M1560.6 1000.4h0M1514.7 919.3h0M1553.3 989.3h0M1587.5 999.7h0M1472.8 934.9h0M1504.2 1002.8h0M1504.4 939.9h0M1488.7 944.6h0M1528.4 1000.6h0M1573.3 922.7h0M1535.5 1034.4h0M1515.5 925.8h0M1548.5 1015.4h0M1469.9 920.8h0M1504.0 956.6h0M1479.6 920.7h0M1518.7 1032.2h0M1537.3 945.3h0M1587.5 946.1h0M1482.9 925.8h0M1467.8 1027.1h0M1532.9 1035.4h0M1534.0 919.0h0M1512.2 954.0h0M1485.1 920.2h0M1553.1 1021.4h0M1584.4 940.4h0M1543.7 942.4h0M1572.8 1026.8h0M1466.2 934.2h0M1576.0 1035.6h0M1573.4 918.1h0M1541.6 1008.5h0M1537.9 979.5h0M1563.9 917.5h0M1537.7 1034.3h0M1535.2 956.0h0M1482.2 1023.9h0M1550.6 1032.2h0M1588.2 998.4h0M1574.2 1014.5h0M1559.9 963.2h0M1551.4 1010.2h0M1498.8 1010.6h0M1541.9 958.5h0M1520.3 1027.5h0M1473.3 915.6h0M1528.6 923.6h0M1574.3 1027.6h0M1510.5 954.8h0M1549.3 1023.0h0M1546.5 1024.4h0M1508.5 969.7h0M1552.8 1004.9h0M1513.8 955.1h0M1573.2 995.3h0M1532.9 942.1h0M1511.5 920.8h0M1496.1 921.4h0M1493.5 989.7h0M1536.2 1018.7h0M1537.1 953.5h0M1509.4 1016.2h0M1467.3 930.8h0M1521.8 928.6h0M1515.7 930.2h0M1543.9 1020.9h0M1514.9 1008.8h0M1465.0 923.7h0M1483.6 1010.2h0M1500.1 983.1h0M1575.6 982.1h0M1516.8 980.1h0M1549.1 985.9h0M1534.3 927.3h0M1589.0 1002.9h0M1577.4 1010.9h0M1493.0 966.6h0M1541.3 932.4h0M1569.5 972.6h0M1539.5 1027.3h0M1505.5 953.3h0M1541.0 922.9h0M1497.4 936.6h0M1589.2 991.7h0M1566.9 991.4h0M1505.7 957.2h0M1586.4 988.5h0M1542.5 964.7h0M1580.5 939.1h0M1577.0 999.3h0M1558.3 1036.9h0M1527.4 978.1h0M1518.2 996.1h0M1573.8 1007.9h0M1494.4 1013.6h0M1469.0 992.5h0M1487.2 950.8h0M1537.6 928.1h0M1556.9 994.8h0M1564.3 971.3h0M1572.4 1005.2h0M1534.7 994.0h0M1497.5 986.0h0M1501.0 927.9h0M1542.2 1028.4h0M1524.9 931.1h0M1546.7 934.8h0M1547.7 1004.5h0M1491.6 948.0h0M1521.6 994.8h0M1553.6 1031.9h0M1541.7 1029.1h0M1492.1 942.3h0M1589.0 1010.5h0M1515.1 917.9h0M1497.2 962.1h0M1467.5 987.3h0M1581.8 953.2h0M1509.1 945.9h0M1516.0 987.6h0M1502.5 916.0h0M1473.2 1028.0h0M1549.1 926.4h0M1518.0 1006.1h0M1513.5 994.1h0M1592.5 956.2h0M1522.7 929.0h0M1554.5 971.1h0M1533.6 949.5h0M1544.5 986.7h0M1581.9 1008.1h0M1475.2 925.9h0M1514.1 934.5h0M1487.9 932.8h0M1572.5 923.1h0M1565.8 970.0h0M1559.1 969.0h0M1493.9 960.7h0M1581.2 1008.5h0M1548.1 962.5h0M1560.0 929.1h0M1524.2 955.9h0M1518.5 1014.1h0M1485.4 945.9h0M1537.0 948.0h0M1580.4 966.5h0M1465.3 945.4h0M1500.4 962.6h0M1464.8 1029.0h0M1519.0 1000.1h0M1523.7 968.8h0M1503.7 1025.2h0M1483.7 976.0h0M1500.2 949.5h0M1477.6 1032.0h0M1504.7 999.8h0M1560.1 1027.2h0M1521.9 972.3h0M1570.6 980.3h0M1494.7 956.0h0M1580.9 949.8h0M1542.0 1008.8h0M1567.4 989.4h0M1564.2 1035.4h0M1527.1 953.8h0M1515.6 1005.2h0M1489.7 1018.7h0M1498.5 929.9h0M1558.1 950.8h0M1561.7 935.8h0M1499.1 969.9h0M1556.2 979.6h0M1587.0 1029.3h0M1481.1 1017.3h0M1592.7 946.9h0M1517.9 981.4h0M1590.9 942.3h0M1502.9 1020.9h0M1501.9 1028.7h0M1523.7 1037.2h0M1504.7 955.3h0M1562.5 1012.7h0M1555.5 943.4h0M1532.6 1003.9h0M1559.7 1033.3h0M1562.8 995.7h0M1555.7 994.3h0M1571.3 965.9h0M1549.5 979.1h0M1472.7 963.8h0M1502.5 954.9h0M1467.9 1017.8h0M1505.7 977.7h0M1489.1 971.0h0M1561.6 991.7h0M1561.7 994.0h0M1588.8 984.9h0M1483.5 921.0h0M1585.8 984.2h0M1544.9 1002.2h0M1560.1 954.2h0M1495.0 979.4h0M1508.7 977.6h0M1514.7 1034.7h0M1585.4 997.5h0M1579.0 986.2h0M1511.8 951.4h0M1508.4 982.0h0M1472.5 919.7h0M1590.9 931.6h0M1490.4 997.1h0M1526.7 1004.5h0M1467.8 912.3h0M1511.3 1010.7h0M1493.2 967.8h0M1566.6 1004.0h0M1526.4 924.6h0M1484.5 932.2h0M1517.8 1035.0h0M1492.5 999.1h0M1560.8 962.7h0M1566.3 927.9h0M1589.9 919.6h0M1510.5 916.4h0M1495.4 916.1h0M1533.9 947.0h0M1591.2 976.3h0M1478.0 1024.0h0M1469.6 981.3h0M1506.4 942.2h0M1530.6 922.1h0M1527.6 980.8h0M1546.6 1006.3h0M1471.4 1012.9h0M1515.8 969.1h0M1471.3 955.9h0M1504.6 1010.5h0M1543.8 1020.5h0M1500.0 936.8h0M1522.7 916.7h0M1479.2 960.4h0M1591.2 1014.0h0M1493.4 911.1h0M1482.7 922.0h0M1585.1 947.6h0M1498.0 1023.6h0M1530.8 984.6h0M1470.7 915.9h0M1495.3 950.5h0M1522.7 988.3h0M1540.4 955.2h0M1465.4 933.6h0M1591.0 947.0h0M1567.0 955.5h0M1540.5 922.5h0M1561.3 956.5h0M1567.0 1020.0h0M1497.9 1001.1h0M1591.3 966.6h0M1473.6 979.1h0M1501.7 940.8h0M1592.7 922.6h0M1494.4 962.9h0M1494.7 932.5h0M1500.7 974.1h0M1554.0 1033.8h0" stroke="#e6dce4" stroke-width="1.3" stroke-linecap="round" fill="none"/>
<path d="M1517.9 917.2h0M1576.7 991.9h0M1588.0 1014.9h0M1469.5 994.1h0M1513.4 988.3h0M1474.6 914.2h0M1529.5 970.5h0M1582.2 940.6h0M1539.3 980.9h0M1522.6 990.0h0M1551.3 975.6h0M1509.8 924.9h0M1471.8 980.3h0M1523.3 961.5h0M1562.6 953.5h0M1506.3 968.8h0M1583.4 962.7h0M1483.7 996.4h0M1580.6 1000.4h0M1541.1 1014.9h0M1540.0 1006.6h0M1476.8 987.8h0M1496.2 956.7h0M1517.5 974.9h0M1476.0 956.2h0M1476.8 987.7h0M1486.6 923.4h0M1578.5 967.2h0M1488.6 954.3h0M1582.2 1010.3h0M1559.6 933.5h0M1501.8 942.1h0M1524.3 991.1h0M1535.3 1012.9h0M1504.5 950.4h0M1580.1 996.8h0M1542.9 944.5h0M1521.2 945.9h0M1576.7 928.3h0M1536.3 974.1h0M1540.5 911.8h0M1549.5 1026.2h0M1560.6 918.4h0M1548.9 951.2h0M1544.0 970.9h0M1583.5 927.0h0M1584.5 973.4h0M1588.3 996.0h0M1589.7 926.0h0M1496.8 937.6h0M1531.8 994.1h0M1479.7 991.0h0M1546.8 1003.8h0M1483.8 942.5h0M1534.9 919.9h0M1486.5 925.7h0M1573.1 1032.0h0M1553.4 1014.7h0M1567.9 948.9h0M1567.4 974.3h0M1569.4 989.1h0M1475.3 1007.0h0M1573.8 1022.3h0M1478.1 999.2h0M1529.3 922.0h0M1566.3 995.1h0M1511.1 988.1h0M1530.3 925.2h0M1531.8 1015.8h0M1537.6 973.8h0M1472.0 944.8h0M1496.1 980.0h0M1494.0 986.6h0M1478.3 957.5h0M1518.1 944.1h0M1586.3 1010.9h0M1464.9 911.2h0M1529.9 990.1h0M1556.9 963.2h0M1584.4 922.5h0M1467.4 964.4h0M1491.3 1030.3h0M1562.2 1020.5h0M1466.0 910.9h0M1492.2 923.7h0M1513.5 920.8h0M1544.9 984.5h0M1489.3 946.9h0M1473.1 1016.7h0M1494.5 1019.0h0M1544.1 973.1h0M1562.7 933.9h0M1563.8 978.0h0M1528.8 1017.1h0M1570.7 976.1h0M1519.8 1026.2h0M1495.4 926.0h0M1518.9 954.2h0M1540.7 991.9h0M1575.0 932.9h0M1518.9 1004.5h0M1479.2 1020.7h0M1503.3 1008.1h0M1504.8 1035.6h0M1513.7 1007.1h0M1578.3 923.0h0M1541.8 946.1h0M1538.0 1014.2h0M1477.1 914.8h0M1534.5 932.6h0M1555.8 936.8h0M1492.2 921.3h0M1550.4 1035.3h0M1565.9 966.0h0M1544.1 1032.3h0M1538.2 1008.7h0M1526.4 929.3h0M1575.1 981.5h0M1591.2 980.0h0M1518.0 955.6h0M1517.7 974.0h0M1580.6 964.4h0M1496.3 1033.0h0M1474.3 970.6h0M1576.3 1022.5h0M1472.9 942.1h0M1524.3 954.0h0M1522.0 984.4h0M1486.6 1034.2h0M1468.4 1008.9h0M1503.2 1024.9h0M1493.5 950.0h0M1518.4 1033.9h0M1590.5 955.0h0M1515.4 980.8h0M1506.7 1006.9h0M1474.8 922.5h0M1534.4 929.3h0M1592.4 977.3h0M1569.7 982.3h0M1568.2 954.4h0M1565.3 975.9h0M1580.5 911.6h0M1569.0 939.4h0M1557.5 1037.7h0M1513.4 979.3h0M1555.2 966.2h0M1503.5 917.2h0M1575.1 917.4h0M1541.4 997.4h0M1562.3 1030.7h0M1509.9 1015.3h0M1525.8 981.8h0M1587.0 933.3h0M1578.7 1009.2h0M1530.3 1000.5h0M1578.1 973.3h0M1543.6 997.7h0M1537.6 949.4h0M1485.0 939.6h0M1494.6 947.6h0M1533.9 989.1h0M1533.2 1002.7h0M1500.9 937.8h0M1589.0 962.4h0M1468.9 917.7h0M1578.4 980.7h0M1506.7 976.2h0M1572.6 1029.4h0M1542.7 1018.9h0M1525.1 973.9h0M1476.8 991.6h0M1534.6 976.0h0M1466.7 912.6h0M1498.7 989.4h0M1479.5 1018.8h0M1532.6 933.7h0M1529.9 917.1h0M1470.0 973.2h0M1514.1 945.9h0M1588.9 984.4h0M1470.4 969.2h0M1550.6 977.5h0M1591.8 1009.5h0M1585.4 914.9h0M1546.3 938.5h0M1482.8 947.5h0M1475.2 1014.3h0M1532.2 979.1h0M1522.4 1009.8h0M1575.4 979.0h0M1496.6 1032.6h0M1548.5 996.2h0M1545.7 955.2h0M1570.3 913.7h0M1503.1 1035.6h0M1588.7 949.4h0M1478.4 940.8h0M1581.2 1001.8h0M1468.2 941.1h0M1571.5 973.5h0M1481.1 930.1h0M1590.2 980.7h0M1547.3 944.0h0M1517.4 965.0h0M1577.1 960.5h0M1480.2 992.4h0M1562.7 1006.5h0M1585.6 1034.6h0M1556.0 951.7h0M1539.0 987.3h0M1540.5 999.3h0M1562.4 978.8h0M1535.1 1034.7h0M1516.3 990.8h0M1523.3 921.8h0M1583.1 946.8h0M1482.3 942.8h0M1542.2 978.4h0M1496.0 986.6h0M1504.9 971.3h0M1573.2 1018.4h0M1530.1 975.5h0M1569.2 980.9h0M1470.2 914.2h0M1537.4 951.2h0M1535.9 1011.5h0M1489.5 927.3h0M1468.5 912.4h0M1550.8 988.8h0M1583.8 921.5h0M1585.4 1020.2h0M1475.3 947.1h0M1479.0 963.4h0M1474.8 952.5h0M1584.8 1002.0h0M1525.1 1035.9h0M1476.9 920.7h0M1550.6 954.3h0M1526.9 933.4h0M1568.2 916.7h0M1562.6 961.2h0M1553.0 962.4h0M1531.1 944.4h0M1505.7 1001.9h0M1534.3 1003.1h0M1550.1 1002.3h0M1554.2 927.9h0M1559.9 1029.2h0M1512.5 1001.4h0M1484.9 925.2h0M1578.1 981.1h0M1537.2 920.2h0M1591.3 910.0h0M1577.6 987.0h0M1486.0 978.0h0M1509.1 1007.5h0M1572.2 1020.1h0M1564.0 912.7h0M1503.1 937.1h0" stroke="#eadfe6" stroke-width="1.6" stroke-linecap="round" fill="none"/>
<path d="M1557.1 995.4h0M1496.8 1036.5h0M1478.9 943.5h0M1532.7 1036.4h0M1505.5 914.0h0M1481.8 1018.7h0M1537.1 931.6h0M1544.3 1031.6h0M1536.5 967.2h0M1467.0 994.9h0M1466.3 923.0h0M1570.0 1010.8h0M1514.4 977.3h0M1484.4 985.0h0M1518.8 1013.0h0M1523.6 975.2h0M1578.2 941.4h0M1494.1 990.4h0M1529.9 924.1h0M1522.5 967.7h0M1541.8 933.2h0M1540.2 983.7h0M1522.5 950.3h0M1479.3 1005.4h0M1479.3 975.3h0M1511.3 1008.1h0M1562.5 982.0h0M1492.6 959.5h0M1475.2 977.3h0M1527.9 990.6h0M1519.3 940.4h0M1503.9 940.0h0M1577.1 972.7h0M1566.4 929.3h0M1522.8 965.8h0M1527.8 971.4h0M1588.3 949.0h0M1580.9 1036.5h0M1573.4 986.4h0M1570.4 975.1h0M1578.8 1004.7h0M1575.2 938.4h0M1541.0 967.5h0M1542.2 946.8h0M1506.0 951.9h0M1496.0 954.7h0M1592.7 941.5h0M1531.9 1009.2h0M1550.6 963.2h0M1565.1 945.2h0M1581.9 978.2h0M1537.4 997.4h0M1474.4 953.6h0M1565.9 912.4h0M1531.1 1008.9h0M1496.8 973.1h0M1486.4 1036.0h0M1551.5 1010.8h0M1589.8 1023.5h0M1544.5 927.2h0M1464.8 994.4h0M1472.8 1024.7h0M1508.4 1009.4h0M1529.4 1018.1h0M1473.5 937.4h0M1587.2 982.7h0M1509.7 1015.0h0M1516.0 1037.1h0M1468.2 1018.2h0M1481.8 981.6h0M1475.5 921.6h0M1581.3 995.0h0M1536.1 984.3h0M1477.1 955.0h0M1583.5 1004.0h0M1557.5 953.2h0M1580.6 964.4h0M1579.7 939.2h0M1496.7 987.7h0M1541.0 1026.4h0M1466.8 954.1h0M1581.0 921.3h0M1579.3 928.0h0M1523.2 941.4h0M1465.2 1010.8h0M1485.2 981.5h0M1478.5 1019.4h0M1584.1 1020.3h0M1546.1 1018.9h0M1566.9 1036.1h0M1475.4 921.7h0M1569.1 1008.6h0M1585.7 982.7h0M1584.1 955.9h0M1500.9 961.3h0M1521.7 1002.6h0M1581.6 920.4h0M1519.0 930.1h0M1495.1 914.5h0M1515.7 977.6h0M1480.3 1032.3h0M1499.6 1036.7h0M1590.1 994.6h0M1578.2 1012.5h0M1522.2 987.2h0M1509.0 1023.0h0M1587.7 935.6h0M1483.3 1022.2h0M1468.3 994.6h0M1577.6 934.6h0M1578.2 960.4h0M1554.1 922.2h0M1532.2 1030.7h0M1467.6 966.8h0M1544.4 941.1h0M1497.2 1014.0h0M1582.7 987.5h0M1507.0 966.6h0M1484.0 913.4h0M1476.7 993.1h0M1567.9 1007.1h0M1573.7 950.1h0M1504.0 958.9h0M1517.9 954.2h0M1542.8 921.4h0M1509.5 980.7h0M1585.2 1026.7h0M1566.2 1000.7h0M1588.9 923.2h0M1491.9 1017.2h0M1499.6 1000.1h0M1472.8 986.8h0M1484.1 917.9h0M1482.7 967.2h0M1486.6 997.0h0M1582.8 997.7h0M1525.9 930.6h0M1500.0 967.7h0M1583.3 988.2h0M1504.5 910.3h0M1517.3 952.1h0M1561.6 1017.4h0M1515.7 983.4h0M1542.3 926.0h0M1568.1 1031.2h0M1561.0 912.7h0M1479.2 967.5h0M1541.7 984.9h0M1494.6 982.7h0M1494.6 914.5h0M1503.4 958.1h0M1531.1 949.9h0M1499.9 940.5h0M1538.0 1031.7h0M1544.7 985.2h0M1513.6 965.1h0M1580.9 963.1h0M1531.8 994.5h0M1485.3 922.3h0M1549.4 960.9h0" stroke="#fbf8fb" stroke-width="1.8" stroke-linecap="round" fill="none"/>
<path d="M1577.1 948.8h0M1464.9 927.3h0M1569.4 958.3h0M1516.0 1018.2h0M1487.6 954.2h0M1520.2 988.9h0M1503.7 1020.1h0M1487.4 916.3h0M1495.4 996.7h0M1533.7 948.1h0" stroke="#dcc2b6" stroke-width="1.5" stroke-linecap="round" fill="none"/>
<ellipse cx="1512.8" cy="1019.9" rx="3" ry="2.6" fill="#fff" opacity="0.9" transform="rotate(0 1512.8 1019.9)"/>
<ellipse cx="1484.8" cy="929.9" rx="2" ry="1.5" fill="#fff" opacity="0.9" transform="rotate(0 1484.8 929.9)"/>
</g><g>
<ellipse cx="1538.7" cy="968.5" rx="0.8" ry="0.6" fill="#b4805a" opacity="0.20" transform="rotate(6 1538.7 968.5)"/>
<ellipse cx="1571.0" cy="1029.0" rx="0.8" ry="0.6" fill="#b4805a" opacity="0.20" transform="rotate(174 1571.0 1029.0)"/>
<ellipse cx="1525.6" cy="994.3" rx="0.8" ry="0.6" fill="#b4805a" opacity="0.20" transform="rotate(96 1525.6 994.3)"/>
<ellipse cx="1474.3" cy="998.9" rx="0.8" ry="0.6" fill="#b4805a" opacity="0.20" transform="rotate(51 1474.3 998.9)"/>
<ellipse cx="1547.0" cy="1035.0" rx="0.8" ry="0.6" fill="#b4805a" opacity="0.20" transform="rotate(46 1547.0 1035.0)"/>
<ellipse cx="1568.7" cy="947.2" rx="0.8" ry="0.6" fill="#b4805a" opacity="0.20" transform="rotate(154 1568.7 947.2)"/>
<ellipse cx="1514.6" cy="994.8" rx="0.8" ry="0.6" fill="#b4805a" opacity="0.20" transform="rotate(96 1514.6 994.8)"/>
<ellipse cx="1469.6" cy="969.2" rx="0.8" ry="0.6" fill="#b4805a" opacity="0.20" transform="rotate(170 1469.6 969.2)"/>
</g></g>
<rect x="1463.8" y="908.9" width="130.2" height="130.2" fill="none" stroke="#000" stroke-width="2"/>
<line x1="1587.0" y1="1035.8" x2="1590.5" y2="1035.8" stroke="#444" stroke-width="0.7"/>
<rect x="863.1" y="1049.9" width="130.2" height="130.2" fill="#f7f1f6"/>
<g clip-path="url(#cp10)"><g filter="url(#bl)">
<path d="M983.7 1100.6h0M969.3 1082.6h0M925.8 1085.9h0M933.5 1060.5h0M917.4 1091.4h0M869.2 1155.3h0M980.9 1070.2h0M945.0 1118.6h0M918.5 1126.4h0M948.7 1086.4h0M910.5 1115.8h0M991.3 1170.0h0M963.6 1109.5h0M980.4 1176.2h0M977.2 1075.8h0M916.7 1080.0h0M921.9 1160.2h0M927.4 1093.1h0M885.2 1068.8h0M969.4 1172.7h0M977.9 1051.4h0M898.3 1068.9h0M923.4 1076.7h0M926.5 1108.6h0M944.9 1116.8h0M928.4 1056.6h0M984.8 1105.6h0M975.5 1092.3h0M875.7 1177.8h0M927.2 1072.5h0M987.4 1169.7h0M878.2 1172.6h0M880.9 1067.4h0M883.2 1163.0h0M941.7 1122.0h0M953.6 1088.6h0M871.9 1061.1h0M894.4 1125.9h0M873.5 1056.6h0M889.9 1052.3h0M871.3 1068.4h0M879.5 1093.6h0M972.9 1136.4h0M865.0 1059.9h0M907.2 1109.7h0M922.2 1119.9h0M956.5 1132.2h0M895.8 1085.7h0M991.2 1117.8h0M981.4 1169.7h0M967.9 1131.1h0M958.8 1088.0h0M890.5 1100.9h0M888.2 1074.1h0M878.4 1073.5h0M866.2 1068.3h0M958.2 1057.1h0M954.7 1141.3h0M885.5 1112.0h0M941.2 1171.4h0M942.2 1068.3h0M871.3 1073.3h0M881.7 1155.3h0M972.4 1064.7h0M963.0 1166.6h0M892.5 1115.2h0M894.0 1105.2h0M962.0 1076.7h0M928.5 1131.4h0M975.3 1174.0h0M979.8 1102.4h0M908.6 1167.2h0M974.4 1154.3h0M942.2 1173.2h0M881.0 1074.7h0M961.5 1085.9h0M944.9 1125.3h0M943.0 1084.7h0M987.4 1122.9h0M864.5 1091.6h0M930.6 1161.8h0M942.3 1172.3h0M906.1 1058.0h0M921.6 1168.0h0M933.3 1159.8h0M971.0 1165.9h0M928.0 1054.0h0M937.2 1063.4h0M912.3 1080.8h0M910.3 1112.0h0M951.8 1173.2h0M972.8 1155.9h0M884.2 1125.0h0M913.0 1107.0h0M875.1 1109.4h0M987.1 1163.1h0M970.1 1063.3h0M972.0 1102.6h0M908.0 1114.6h0M905.3 1083.7h0M979.6 1126.0h0M922.9 1118.8h0M873.2 1062.8h0M868.4 1096.3h0M976.5 1055.8h0M901.5 1163.1h0M889.5 1115.8h0M979.3 1148.6h0M914.3 1089.6h0M899.2 1093.0h0M990.3 1125.2h0M920.3 1170.7h0M914.4 1080.8h0M930.0 1065.4h0M984.5 1051.2h0M912.1 1055.0h0M891.7 1162.5h0M883.8 1150.1h0M948.4 1057.4h0M987.1 1057.3h0" stroke="#fdfbfd" stroke-width="3.0" stroke-linecap="round" fill="none"/>
<path d="M970.3 1173.0h0M915.7 1099.5h0M912.7 1139.3h0M944.6 1071.5h0M881.3 1070.8h0M874.5 1063.1h0M927.2 1067.7h0M950.9 1090.6h0M985.6 1059.4h0M943.7 1108.9h0M959.3 1054.5h0M887.8 1170.8h0M923.8 1096.8h0M875.0 1125.8h0M988.1 1130.5h0M986.5 1132.4h0M866.3 1130.0h0M935.6 1176.7h0M965.6 1141.0h0M881.3 1107.0h0M961.1 1119.9h0M938.8 1061.6h0M932.1 1062.3h0M866.9 1144.5h0M916.7 1077.1h0M923.7 1061.1h0M944.5 1174.6h0M966.5 1162.9h0M950.6 1173.4h0M917.9 1065.5h0M887.1 1052.2h0M890.7 1065.6h0M885.0 1147.9h0M912.1 1093.5h0M879.3 1149.0h0M896.8 1164.7h0M876.8 1052.5h0M969.4 1113.2h0M972.8 1141.1h0M954.4 1084.2h0M947.6 1064.1h0M980.7 1160.5h0M945.1 1065.7h0M891.7 1109.4h0M880.5 1174.6h0M982.5 1112.8h0M894.8 1115.8h0M991.0 1108.3h0M959.1 1109.0h0M881.1 1089.6h0M918.8 1138.5h0M913.6 1079.4h0M875.2 1170.7h0M972.0 1105.6h0M960.3 1103.7h0M898.5 1060.6h0M944.4 1051.8h0M979.5 1070.7h0M982.4 1101.4h0M950.7 1075.1h0M890.3 1149.6h0M933.9 1122.4h0M910.3 1129.5h0M989.7 1174.4h0M976.2 1120.8h0M919.7 1159.8h0M969.6 1100.2h0M930.3 1051.6h0M945.0 1116.1h0M880.6 1172.0h0M955.5 1114.8h0M970.2 1122.6h0M929.3 1053.1h0M954.3 1113.4h0M931.5 1125.3h0M958.6 1140.5h0M951.2 1178.6h0M915.5 1176.0h0M875.9 1160.4h0M940.7 1112.0h0M897.1 1070.3h0M912.9 1113.0h0M865.0 1140.8h0M975.6 1124.8h0M954.2 1065.0h0M907.4 1054.0h0M989.5 1171.3h0M922.1 1080.3h0M943.5 1148.7h0M889.3 1081.0h0M967.3 1138.8h0M883.3 1092.5h0M968.1 1128.1h0M991.9 1168.8h0M920.3 1169.6h0M869.5 1129.9h0M988.1 1074.6h0M966.7 1102.0h0M868.8 1110.4h0M969.1 1105.6h0M873.2 1085.6h0M924.6 1145.2h0M876.9 1127.6h0M903.8 1116.2h0M985.9 1158.9h0M871.1 1145.0h0M931.5 1114.2h0M984.7 1146.5h0M871.7 1132.0h0M979.3 1073.9h0M927.0 1054.3h0M960.0 1081.8h0M941.4 1116.8h0M970.6 1100.5h0M871.2 1104.0h0M984.6 1112.3h0M882.1 1097.9h0M892.5 1111.2h0M976.6 1178.5h0M959.0 1150.1h0M909.6 1156.1h0M943.8 1111.5h0M945.0 1077.3h0M864.6 1121.3h0M970.7 1089.1h0M966.1 1082.9h0M917.1 1115.7h0M938.1 1108.5h0M894.3 1158.6h0M953.1 1078.6h0M982.1 1178.2h0M893.7 1141.3h0M918.9 1107.6h0M987.8 1071.8h0M891.8 1078.1h0M887.7 1174.4h0M882.7 1127.7h0M944.9 1163.2h0M957.8 1123.1h0M979.9 1137.3h0M958.7 1053.0h0M910.2 1069.4h0M889.9 1163.7h0M927.4 1130.8h0M875.4 1126.8h0M903.6 1170.3h0M927.2 1097.0h0M875.0 1098.4h0M957.1 1081.7h0M982.9 1150.9h0M867.9 1071.5h0M917.6 1085.5h0M959.1 1055.1h0M883.3 1149.4h0M957.2 1137.2h0M937.4 1161.3h0M977.9 1146.8h0M959.6 1160.4h0M957.8 1156.3h0M968.0 1161.7h0M973.0 1123.4h0M986.5 1108.8h0M875.6 1093.8h0M977.7 1085.6h0M905.3 1078.9h0M889.9 1117.6h0M914.9 1087.9h0M931.4 1111.3h0M912.0 1052.6h0M969.6 1142.2h0M893.2 1077.6h0M895.0 1169.5h0M891.0 1100.5h0M919.7 1079.8h0M879.4 1109.2h0M930.2 1151.0h0M918.7 1088.9h0M935.3 1139.7h0M970.8 1065.6h0M969.9 1076.2h0M931.7 1075.6h0M938.7 1101.1h0M864.3 1051.7h0M881.0 1114.5h0M865.1 1147.2h0M935.7 1134.3h0M868.3 1170.2h0M991.2 1130.9h0M969.1 1111.6h0M892.4 1066.0h0M946.7 1115.8h0M963.9 1119.8h0M893.4 1167.6h0M952.4 1132.4h0M890.3 1066.9h0M988.1 1172.2h0M927.3 1114.3h0M927.5 1089.5h0M965.6 1169.5h0M925.1 1105.1h0M874.0 1063.4h0M913.7 1092.4h0M927.3 1137.1h0M990.9 1080.6h0M953.6 1156.3h0M919.1 1147.3h0M880.5 1066.6h0M975.8 1157.9h0M905.3 1118.9h0M906.9 1167.9h0M944.6 1101.8h0M947.6 1099.3h0M937.6 1160.5h0M870.8 1054.9h0M990.5 1164.8h0M964.1 1163.8h0M983.2 1076.5h0M986.9 1166.7h0M887.6 1175.6h0M928.4 1109.0h0M938.2 1147.9h0M874.3 1071.9h0M936.0 1114.5h0M950.2 1090.6h0M990.1 1167.2h0M896.0 1093.6h0M986.3 1170.7h0M986.9 1101.6h0M948.2 1052.7h0M968.6 1149.7h0M929.5 1142.5h0M877.4 1055.1h0M961.9 1129.5h0M933.2 1081.6h0M974.9 1106.2h0M938.3 1084.8h0M874.0 1139.4h0M978.0 1059.2h0M928.5 1142.5h0M979.6 1094.7h0M884.5 1174.0h0M972.4 1161.4h0M928.8 1142.8h0M947.2 1154.0h0M921.1 1176.8h0M879.7 1076.6h0M976.0 1079.8h0M958.3 1107.0h0M914.1 1059.8h0M930.5 1131.3h0M865.2 1173.7h0M933.1 1075.7h0M959.2 1129.1h0M941.3 1072.7h0M927.2 1080.4h0M886.1 1153.1h0M976.0 1079.3h0M990.9 1059.8h0M961.9 1099.6h0M902.2 1073.5h0M991.5 1131.4h0M981.2 1113.9h0M943.7 1169.6h0M945.5 1089.7h0M976.8 1150.0h0M936.9 1140.8h0M924.4 1122.3h0M974.0 1157.0h0M878.4 1161.7h0M941.5 1126.6h0M971.1 1128.0h0M959.6 1079.2h0M908.8 1105.9h0M943.6 1155.8h0M953.1 1141.1h0M881.0 1116.9h0M953.7 1077.0h0M866.2 1093.2h0M912.6 1051.6h0M935.8 1154.5h0" stroke="#eedfe2" stroke-width="2.2" stroke-linecap="round" fill="none"/>
<path d="M903.4 1125.4h0M983.0 1090.9h0M875.1 1134.9h0M938.6 1071.0h0M896.1 1127.8h0M945.7 1142.3h0M884.5 1149.7h0M961.7 1157.5h0M872.7 1130.8h0M922.1 1081.7h0M933.2 1089.1h0M865.8 1082.8h0M988.1 1055.4h0M907.8 1137.6h0M966.0 1060.9h0M874.5 1096.4h0M899.3 1077.3h0M874.4 1100.5h0M950.2 1156.1h0M976.4 1082.4h0M932.0 1157.5h0M965.9 1111.7h0M956.9 1100.1h0M992.0 1134.1h0M916.2 1075.1h0M906.9 1108.1h0M980.7 1123.9h0M902.9 1060.2h0M912.8 1164.4h0M904.2 1054.1h0M876.8 1153.4h0M962.9 1127.7h0M879.6 1122.6h0M974.2 1164.2h0M984.0 1114.7h0M985.9 1103.4h0M953.7 1141.8h0M928.8 1143.3h0M920.8 1124.5h0M924.9 1091.3h0M965.5 1102.5h0M970.4 1148.3h0M899.3 1118.2h0M884.4 1093.4h0M888.2 1169.5h0M871.4 1117.6h0M952.6 1138.7h0M866.4 1155.4h0M947.2 1150.2h0M899.7 1137.1h0M954.7 1134.0h0M992.0 1160.7h0M932.5 1154.6h0M916.3 1100.8h0M971.6 1118.2h0M981.5 1150.7h0M902.7 1147.7h0M935.3 1153.0h0M971.5 1091.5h0M889.4 1103.6h0M944.7 1105.7h0M966.5 1150.9h0M975.8 1140.6h0M955.0 1152.8h0M933.8 1090.2h0M865.8 1088.8h0M954.9 1123.6h0M876.1 1143.7h0M941.9 1099.8h0M896.1 1160.4h0M869.0 1052.7h0M889.5 1056.1h0M936.6 1055.9h0M970.8 1120.9h0M943.6 1096.5h0M905.6 1070.3h0M867.5 1125.1h0M914.8 1152.9h0M926.1 1051.7h0M888.1 1111.7h0M955.2 1151.5h0M934.0 1167.5h0M952.4 1174.0h0M895.0 1093.4h0M973.8 1054.2h0M937.9 1172.8h0M926.9 1115.5h0M912.3 1170.0h0M988.6 1107.2h0M945.1 1161.9h0M991.0 1079.9h0M961.7 1088.7h0M956.9 1118.3h0M967.4 1138.6h0M868.9 1149.5h0M924.0 1058.9h0M933.3 1102.2h0M942.0 1075.3h0M906.2 1089.6h0M888.4 1157.5h0M932.9 1100.6h0M975.9 1098.8h0M919.2 1148.4h0M917.3 1057.7h0M880.7 1057.1h0M990.7 1146.6h0M877.9 1174.3h0M977.8 1132.0h0M887.6 1059.2h0M912.8 1088.9h0M889.8 1117.6h0M972.4 1085.5h0M960.5 1129.1h0M981.1 1107.1h0M885.2 1058.8h0M943.4 1057.4h0M921.2 1152.3h0M917.4 1133.2h0M878.3 1091.0h0M956.4 1052.0h0M984.0 1175.5h0M966.6 1159.3h0M987.5 1161.3h0M878.2 1158.8h0M869.6 1066.7h0M975.9 1135.1h0M892.7 1169.6h0M922.2 1136.4h0M936.6 1105.6h0M880.4 1147.5h0M887.9 1128.4h0M933.5 1055.5h0M921.3 1073.3h0M865.7 1090.7h0M972.5 1126.4h0M880.7 1152.0h0M867.6 1121.5h0M983.4 1088.9h0M891.6 1145.7h0M891.0 1142.8h0M927.9 1131.5h0M893.0 1054.6h0M864.3 1158.9h0M925.1 1159.9h0M898.2 1111.0h0M944.5 1164.1h0M938.0 1072.4h0M898.3 1088.8h0M874.8 1162.4h0M951.6 1103.2h0M949.5 1150.8h0M929.6 1092.9h0M953.3 1136.9h0M920.5 1144.8h0M894.3 1103.1h0M874.3 1132.3h0M944.1 1111.2h0M908.9 1094.1h0M867.0 1176.0h0M942.8 1101.6h0M875.4 1101.6h0M990.6 1103.8h0M914.8 1131.7h0M879.8 1134.6h0M950.9 1155.0h0M971.3 1060.9h0M971.1 1062.7h0M974.7 1091.4h0M870.4 1145.3h0M919.0 1138.8h0M951.0 1114.5h0M910.8 1087.9h0M917.9 1125.7h0M957.7 1101.2h0M977.4 1077.5h0M975.8 1079.4h0M899.9 1120.1h0M920.4 1084.3h0M957.6 1078.6h0M953.3 1158.7h0M953.9 1135.5h0M962.5 1146.4h0M970.1 1083.2h0M902.7 1130.3h0M988.5 1163.5h0M921.6 1066.7h0M921.1 1092.4h0M947.4 1170.8h0M912.5 1112.7h0M903.3 1080.4h0M974.6 1154.2h0M937.9 1131.3h0M884.1 1157.3h0M934.5 1065.2h0M896.2 1139.2h0M888.9 1125.4h0M978.9 1128.2h0M964.5 1064.1h0M906.6 1115.5h0M928.2 1117.4h0M899.9 1163.0h0M865.2 1051.8h0M969.1 1142.9h0M934.0 1080.7h0M941.3 1171.1h0M901.3 1139.8h0M976.0 1118.7h0M960.3 1073.8h0M909.5 1090.4h0M942.7 1082.5h0M897.7 1077.4h0M928.6 1174.4h0M946.1 1054.4h0M865.8 1083.6h0M918.8 1167.5h0M879.1 1167.5h0M881.0 1169.2h0M967.7 1077.5h0M924.9 1172.8h0M883.3 1087.7h0M939.5 1053.1h0M966.5 1051.1h0M990.8 1087.7h0M938.8 1095.2h0M928.2 1056.2h0M872.2 1140.4h0M879.3 1139.0h0M876.8 1071.4h0M906.4 1175.8h0M978.8 1091.8h0M967.1 1094.9h0M885.7 1122.3h0M987.5 1072.4h0M977.9 1150.1h0M956.8 1171.4h0M926.5 1084.6h0M933.7 1141.9h0M944.0 1117.6h0M971.5 1113.9h0M918.5 1133.3h0M971.6 1125.0h0M945.2 1140.7h0M910.7 1114.3h0M865.3 1106.6h0M952.5 1110.4h0M869.8 1162.6h0M899.5 1155.4h0M919.3 1125.1h0M898.0 1130.3h0M887.2 1072.7h0M912.4 1175.6h0M916.3 1129.8h0M894.0 1086.3h0M895.5 1147.4h0M901.9 1168.8h0M988.7 1051.6h0M936.3 1148.5h0M871.5 1148.8h0M959.1 1108.3h0M876.1 1155.0h0M918.4 1111.9h0M977.3 1079.3h0M887.2 1092.3h0M967.9 1060.6h0M958.3 1065.1h0M952.1 1092.6h0M927.8 1059.8h0M961.2 1151.4h0M876.8 1158.5h0M989.6 1077.5h0" stroke="#e4deef" stroke-width="2.9" stroke-linecap="round" fill="none"/>
<path d="M872.2 1125.9h0M880.2 1078.3h0M978.6 1144.8h0M912.4 1161.5h0M891.6 1062.3h0M957.1 1143.9h0M911.7 1127.2h0M917.5 1121.8h0M940.8 1076.9h0M868.2 1069.2h0M896.1 1114.7h0M980.1 1053.7h0M988.4 1152.6h0M955.2 1110.3h0M909.5 1078.0h0M946.0 1150.7h0M922.9 1145.6h0M912.1 1135.3h0M966.9 1178.9h0M877.0 1152.0h0M882.1 1084.0h0M915.4 1148.9h0M961.9 1067.3h0M926.0 1123.1h0M919.0 1079.1h0M872.6 1084.4h0M986.1 1112.6h0M930.0 1141.3h0M950.9 1115.2h0M917.4 1165.7h0M901.3 1079.5h0M954.3 1079.9h0M935.2 1053.3h0M950.1 1125.0h0M890.8 1098.7h0M929.4 1077.3h0M967.8 1091.0h0M883.1 1151.1h0M973.8 1121.6h0M922.9 1053.8h0M977.5 1109.7h0M987.3 1128.1h0M901.5 1166.3h0M899.6 1176.7h0M868.3 1102.7h0M872.1 1059.7h0M928.9 1069.8h0M888.0 1167.8h0M880.0 1142.5h0M943.2 1080.1h0M888.2 1120.4h0M872.0 1101.2h0M971.7 1055.3h0M965.7 1060.0h0M931.2 1119.5h0M888.3 1087.5h0M900.5 1076.8h0M890.5 1107.2h0M897.3 1109.2h0M964.6 1076.0h0M972.6 1170.5h0M871.6 1128.4h0M968.9 1062.2h0M876.5 1079.8h0M958.8 1094.2h0M867.7 1131.1h0M868.7 1086.6h0M872.6 1108.0h0M939.8 1060.2h0M915.7 1158.9h0M944.0 1087.9h0M876.6 1159.1h0M893.1 1063.5h0M984.1 1105.2h0M929.9 1111.1h0M937.2 1174.9h0M900.5 1174.0h0M903.7 1163.9h0M978.4 1111.5h0M948.4 1078.3h0M868.2 1087.0h0M910.3 1081.2h0M980.1 1130.8h0M953.6 1114.1h0M959.4 1055.0h0M935.5 1112.9h0M880.0 1106.9h0M876.6 1071.0h0M909.9 1175.0h0M942.4 1063.6h0M954.6 1125.4h0M885.5 1094.2h0M942.3 1121.1h0M988.7 1094.0h0M917.5 1091.8h0M934.5 1104.4h0M945.4 1065.8h0M880.4 1169.4h0M925.0 1143.7h0M943.1 1154.6h0M939.9 1123.0h0M957.6 1135.1h0M944.1 1128.4h0M959.4 1145.3h0M984.3 1177.3h0M947.6 1148.5h0M907.1 1149.6h0M938.2 1177.0h0M876.6 1064.8h0M959.1 1059.4h0M871.8 1157.2h0M941.3 1058.1h0M900.3 1061.6h0M881.7 1137.9h0M977.4 1153.9h0M990.1 1150.9h0M869.6 1115.9h0M957.1 1123.0h0M923.0 1156.1h0M966.8 1092.5h0M916.2 1117.3h0M933.8 1068.3h0M896.5 1130.6h0M910.7 1152.1h0M958.7 1052.1h0M965.2 1076.7h0M969.5 1122.9h0M968.0 1115.7h0M903.6 1143.2h0M949.2 1176.3h0" stroke="#d6c4c8" stroke-width="1.3" stroke-linecap="round" fill="none"/>
<ellipse cx="966.1" cy="1172.9" rx="5" ry="4" fill="#fff" opacity="0.9" transform="rotate(0 966.1 1172.9)"/>
</g><g filter="url(#bl2)">
</g></g>
<rect x="863.1" y="1049.9" width="130.2" height="130.2" fill="none" stroke="#000" stroke-width="2"/>
<line x1="986.3" y1="1176.8" x2="989.8" y2="1176.8" stroke="#444" stroke-width="0.7"/>
<rect x="1012.9" y="1049.9" width="130.2" height="130.2" fill="#f7eff2"/>
<g clip-path="url(#cp11)"><g filter="url(#bl)">
<path d="M1119.8 1078.1h0M1134.5 1114.1h0M1064.8 1129.9h0M1035.6 1075.7h0M1067.9 1080.3h0M1099.7 1104.2h0M1063.0 1086.5h0M1042.2 1142.6h0M1129.4 1095.7h0M1116.8 1091.0h0M1111.2 1081.5h0M1086.7 1103.1h0M1125.4 1148.3h0M1027.7 1063.6h0M1072.8 1078.5h0M1044.3 1172.6h0M1134.3 1053.1h0M1016.7 1131.2h0M1135.2 1164.6h0M1102.6 1145.6h0M1075.7 1113.6h0M1123.6 1064.7h0M1101.2 1143.0h0M1033.8 1149.5h0M1035.5 1174.8h0M1111.7 1109.3h0M1088.6 1175.6h0M1060.9 1077.0h0M1102.2 1166.5h0M1033.9 1148.7h0M1063.7 1138.9h0M1075.0 1172.6h0M1087.6 1174.6h0M1137.1 1067.4h0M1134.0 1148.0h0M1032.3 1124.9h0M1048.7 1057.0h0M1021.3 1097.4h0M1125.8 1060.2h0M1088.9 1162.7h0M1060.4 1142.9h0M1089.9 1148.4h0M1075.5 1176.5h0M1065.0 1078.1h0M1029.5 1083.8h0M1029.0 1171.3h0M1030.9 1158.5h0M1112.5 1111.0h0M1020.4 1076.8h0M1133.7 1103.9h0M1113.9 1066.9h0M1019.9 1097.0h0M1058.8 1077.2h0M1095.9 1124.8h0M1085.6 1091.3h0M1066.5 1085.3h0M1084.6 1100.6h0M1097.2 1174.2h0M1055.3 1126.7h0M1026.1 1157.1h0M1082.0 1126.8h0M1085.7 1065.6h0M1126.3 1052.4h0M1038.6 1112.9h0M1132.1 1140.4h0M1129.4 1094.4h0M1084.4 1127.7h0M1043.9 1062.9h0M1057.4 1062.1h0M1014.8 1073.6h0M1124.1 1129.5h0M1109.9 1124.4h0M1075.6 1164.7h0M1057.9 1084.3h0M1051.0 1060.4h0M1016.2 1085.7h0M1095.0 1076.0h0M1074.9 1087.9h0M1110.1 1081.5h0M1071.6 1146.6h0M1106.0 1165.7h0M1015.9 1110.7h0M1038.4 1164.9h0M1045.8 1153.9h0M1080.1 1149.2h0M1115.8 1161.2h0M1127.5 1102.6h0M1100.2 1168.4h0M1116.1 1107.5h0M1120.0 1151.0h0M1070.6 1107.5h0M1069.9 1170.9h0M1043.3 1173.2h0M1031.4 1083.5h0M1108.4 1141.5h0M1053.0 1089.2h0M1086.4 1148.0h0M1063.1 1111.0h0M1069.0 1157.1h0M1129.6 1131.4h0M1046.2 1105.1h0M1067.3 1130.9h0M1054.3 1128.8h0M1081.0 1120.3h0M1137.7 1104.1h0M1046.3 1051.7h0M1015.1 1138.9h0M1128.1 1136.0h0M1040.6 1055.0h0M1071.4 1059.7h0M1023.5 1131.9h0M1033.6 1112.8h0M1122.2 1113.3h0M1063.1 1116.0h0M1131.4 1074.1h0M1105.0 1080.9h0M1092.5 1055.5h0M1020.1 1077.4h0M1105.0 1081.1h0M1106.8 1090.3h0" stroke="#fdfbfd" stroke-width="3.0" stroke-linecap="round" fill="none"/>
<path d="M1122.8 1165.6h0M1109.7 1077.2h0M1022.0 1109.4h0M1048.2 1053.8h0M1107.0 1157.0h0M1122.5 1167.4h0M1087.5 1116.3h0M1140.8 1099.8h0M1111.7 1087.7h0M1134.3 1130.0h0M1141.6 1159.8h0M1093.0 1116.2h0M1035.0 1076.6h0M1023.6 1128.9h0M1041.2 1053.1h0M1089.7 1136.2h0M1024.7 1082.1h0M1127.8 1140.0h0M1114.6 1083.4h0M1020.0 1135.3h0M1087.3 1126.0h0M1021.5 1130.5h0M1121.5 1113.0h0M1079.9 1071.8h0M1062.3 1078.3h0M1023.0 1174.6h0M1049.5 1066.5h0M1088.3 1075.8h0M1118.3 1077.7h0M1057.1 1088.5h0M1019.2 1154.3h0M1090.3 1129.6h0M1136.3 1066.2h0M1116.3 1089.6h0M1127.1 1174.8h0M1065.6 1158.8h0M1064.5 1063.9h0M1067.6 1131.0h0M1079.5 1111.5h0M1027.5 1130.6h0M1105.0 1130.3h0M1043.0 1142.2h0M1114.6 1092.7h0M1052.8 1105.9h0M1088.6 1173.0h0M1112.3 1052.3h0M1050.0 1126.2h0M1132.9 1133.9h0M1121.4 1074.1h0M1046.9 1090.2h0M1027.3 1142.8h0M1094.6 1139.7h0M1103.7 1139.2h0M1018.2 1118.2h0M1083.6 1080.4h0M1045.1 1159.3h0M1024.2 1053.3h0M1126.1 1164.4h0M1066.0 1099.9h0M1117.5 1130.4h0M1069.6 1098.0h0M1093.3 1109.4h0M1047.1 1178.9h0M1082.9 1095.6h0M1104.4 1075.6h0M1043.2 1112.5h0M1018.1 1104.6h0M1024.5 1146.3h0M1088.6 1159.0h0M1033.2 1068.3h0M1089.7 1128.2h0M1054.2 1058.2h0M1076.6 1176.9h0M1110.6 1064.1h0M1099.5 1148.3h0M1049.8 1063.1h0M1111.7 1054.2h0M1085.5 1055.5h0M1125.2 1089.2h0M1086.5 1135.5h0M1089.2 1138.3h0M1032.1 1060.7h0M1106.6 1056.2h0M1029.8 1119.1h0M1112.1 1064.0h0M1053.5 1053.1h0M1114.4 1072.3h0M1070.4 1093.4h0M1022.0 1170.4h0M1031.8 1053.9h0M1095.5 1056.6h0M1052.2 1096.3h0M1058.5 1167.6h0M1127.9 1131.4h0M1084.8 1131.6h0M1130.5 1097.6h0M1064.5 1142.7h0M1064.4 1098.1h0M1103.9 1126.4h0M1030.9 1091.1h0M1036.6 1114.8h0M1126.8 1130.8h0M1086.5 1058.2h0M1057.7 1167.1h0M1096.3 1160.2h0M1039.7 1056.9h0M1022.0 1086.1h0M1060.5 1107.0h0M1054.1 1157.6h0M1094.0 1133.6h0M1019.5 1177.9h0M1078.4 1095.2h0M1105.6 1169.5h0M1049.1 1124.1h0M1096.1 1089.3h0M1035.8 1072.1h0M1040.2 1176.1h0M1104.6 1097.1h0M1139.5 1090.6h0M1114.1 1120.8h0M1024.2 1166.6h0M1015.5 1166.6h0M1061.4 1131.5h0M1014.3 1094.4h0M1125.3 1167.0h0M1110.7 1129.1h0M1085.7 1063.7h0M1086.4 1154.2h0M1127.9 1060.3h0M1097.7 1059.0h0M1030.0 1140.7h0M1053.3 1111.5h0M1135.0 1154.0h0M1123.3 1149.6h0M1121.2 1098.2h0M1074.0 1085.3h0M1135.7 1143.6h0M1014.3 1085.9h0M1098.4 1055.1h0M1117.9 1054.2h0M1108.8 1088.1h0M1083.1 1073.8h0M1063.4 1122.5h0M1068.9 1153.8h0M1074.2 1131.3h0M1103.6 1129.2h0M1115.8 1051.4h0M1015.6 1154.4h0M1086.3 1112.2h0M1124.4 1161.2h0M1041.8 1117.2h0M1057.8 1095.9h0M1040.4 1111.5h0M1077.4 1124.6h0M1091.8 1147.2h0M1030.3 1063.2h0M1035.1 1176.3h0M1106.6 1142.3h0M1112.0 1066.7h0M1141.5 1143.2h0M1028.7 1066.6h0M1136.0 1133.7h0M1078.2 1092.2h0M1069.8 1126.1h0M1113.4 1104.4h0M1136.1 1147.1h0M1017.8 1152.6h0M1086.7 1113.8h0M1038.5 1068.3h0M1045.9 1063.8h0M1071.6 1172.6h0M1118.4 1080.9h0M1089.1 1060.5h0M1082.3 1101.9h0M1049.9 1059.1h0M1119.9 1095.2h0M1132.1 1146.9h0M1037.9 1123.3h0M1104.3 1109.5h0M1083.0 1089.4h0M1136.7 1068.2h0M1070.7 1066.5h0M1099.0 1148.8h0M1022.1 1158.7h0M1137.6 1080.7h0M1046.1 1051.1h0M1059.5 1130.3h0M1040.4 1059.6h0M1106.5 1080.2h0M1141.0 1144.0h0M1062.3 1154.2h0M1067.6 1135.9h0M1051.4 1109.5h0M1098.4 1149.7h0M1074.4 1157.3h0M1057.0 1168.7h0M1108.6 1173.8h0M1131.8 1159.7h0M1117.4 1095.4h0M1131.7 1052.9h0M1127.7 1092.9h0M1024.8 1144.6h0M1018.3 1129.4h0M1129.4 1178.6h0M1050.7 1084.4h0M1019.0 1106.1h0M1119.5 1080.1h0M1034.6 1171.0h0M1033.4 1096.7h0M1137.6 1069.9h0M1053.6 1137.8h0M1026.7 1150.2h0M1115.5 1081.2h0M1052.0 1156.3h0M1137.5 1175.0h0M1054.0 1068.6h0M1079.4 1095.4h0M1100.5 1139.0h0M1097.8 1094.6h0M1100.1 1051.6h0M1059.0 1170.1h0M1096.4 1104.3h0M1022.1 1100.3h0M1091.0 1059.2h0M1042.2 1132.9h0M1041.6 1172.6h0M1024.4 1142.0h0M1027.4 1175.9h0M1128.3 1077.6h0M1129.6 1141.9h0M1112.6 1091.0h0M1029.2 1129.9h0M1090.2 1066.2h0M1128.4 1115.6h0M1030.7 1136.9h0M1103.4 1160.7h0M1055.8 1053.2h0M1061.1 1167.3h0M1076.0 1155.6h0M1030.1 1063.7h0M1115.9 1151.6h0M1074.8 1078.8h0M1044.8 1160.7h0M1058.5 1135.9h0M1093.0 1172.1h0M1087.6 1074.7h0M1061.5 1094.1h0M1086.1 1178.7h0M1087.4 1119.0h0M1099.2 1129.8h0M1087.4 1161.8h0M1112.0 1118.1h0M1059.2 1095.5h0M1049.5 1098.7h0M1109.9 1110.6h0M1026.1 1150.4h0M1123.1 1129.8h0M1029.8 1174.6h0M1093.3 1111.5h0M1072.4 1076.0h0M1096.5 1169.5h0M1017.0 1134.2h0M1108.1 1156.3h0M1066.2 1139.3h0M1087.8 1140.3h0M1021.6 1056.8h0M1022.9 1080.6h0M1039.0 1114.0h0M1075.4 1076.3h0M1027.0 1055.1h0M1040.1 1082.3h0M1111.4 1123.6h0M1131.6 1106.5h0M1047.8 1115.1h0M1038.3 1125.2h0M1050.0 1075.9h0M1140.0 1064.8h0M1131.1 1142.4h0M1017.4 1070.9h0M1128.5 1051.9h0" stroke="#eedfe2" stroke-width="2.2" stroke-linecap="round" fill="none"/>
<path d="M1016.8 1123.9h0M1020.9 1101.9h0M1015.4 1174.2h0M1078.0 1148.3h0M1055.4 1123.5h0M1120.5 1123.3h0M1028.9 1082.7h0M1089.2 1119.1h0M1048.6 1135.7h0M1106.8 1053.6h0M1135.2 1061.4h0M1119.7 1054.8h0M1036.6 1140.6h0M1139.8 1074.3h0M1050.0 1078.4h0M1140.5 1127.0h0M1064.8 1102.8h0M1071.2 1168.3h0M1107.6 1069.4h0M1076.3 1076.3h0M1080.1 1121.7h0M1068.9 1058.0h0M1079.2 1145.3h0M1108.9 1091.1h0M1069.2 1178.2h0M1083.5 1144.0h0M1052.1 1148.6h0M1037.1 1079.9h0M1069.1 1120.4h0M1036.1 1083.3h0M1135.0 1102.8h0M1020.5 1058.6h0M1131.0 1056.4h0M1033.8 1099.7h0M1024.6 1104.9h0M1057.4 1108.8h0M1072.4 1068.4h0M1019.9 1109.4h0M1129.1 1071.4h0M1126.2 1135.9h0M1035.6 1109.9h0M1014.6 1164.5h0M1104.6 1063.0h0M1047.0 1114.6h0M1132.5 1075.2h0M1056.1 1112.2h0M1131.8 1143.3h0M1088.7 1142.4h0M1101.1 1078.5h0M1030.1 1121.8h0M1137.4 1094.2h0M1105.2 1154.5h0M1141.4 1150.1h0M1046.2 1080.1h0M1052.0 1058.4h0M1023.7 1141.3h0M1069.4 1101.9h0M1111.8 1171.0h0M1095.9 1070.3h0M1039.9 1079.5h0M1113.4 1077.7h0M1034.7 1164.0h0M1041.3 1166.4h0M1126.3 1171.2h0M1031.1 1077.4h0M1053.0 1114.1h0M1053.9 1095.7h0M1102.7 1127.8h0M1016.8 1098.4h0M1109.7 1123.5h0M1109.8 1109.1h0M1107.9 1056.7h0M1087.6 1118.3h0M1071.2 1112.2h0M1029.9 1151.6h0M1141.3 1157.2h0M1074.5 1137.0h0M1061.8 1064.3h0M1138.1 1119.2h0M1057.4 1148.8h0M1066.8 1146.3h0M1100.3 1090.9h0M1140.3 1173.7h0M1050.1 1122.5h0M1136.7 1075.9h0M1066.5 1172.0h0M1098.3 1178.1h0M1130.9 1068.2h0M1083.0 1132.9h0M1107.9 1121.2h0M1074.5 1177.5h0M1106.5 1160.4h0M1059.8 1129.1h0M1056.5 1139.0h0M1053.5 1136.4h0M1136.6 1164.5h0M1139.7 1178.1h0M1048.8 1063.0h0M1119.5 1156.1h0M1019.4 1071.2h0M1059.8 1132.7h0M1063.2 1096.9h0M1124.6 1090.1h0M1057.0 1147.0h0M1052.2 1175.3h0M1094.3 1133.0h0M1015.1 1111.0h0M1084.1 1155.2h0M1056.7 1083.0h0M1072.7 1117.5h0M1032.8 1078.3h0M1132.3 1177.0h0M1097.5 1068.8h0M1044.1 1153.8h0M1051.5 1117.7h0M1061.8 1132.2h0M1021.3 1105.6h0M1036.1 1116.1h0M1110.8 1063.4h0M1112.7 1159.7h0M1082.4 1124.5h0M1086.3 1160.9h0M1099.8 1055.6h0M1016.8 1092.9h0M1113.3 1078.3h0M1120.6 1147.9h0M1036.2 1108.4h0M1103.9 1154.8h0M1139.6 1085.6h0M1078.0 1106.7h0M1099.4 1104.9h0M1068.5 1111.5h0M1058.9 1175.5h0M1131.9 1114.6h0M1040.5 1118.7h0M1093.1 1136.5h0M1048.4 1086.4h0M1094.9 1177.1h0M1115.1 1079.0h0M1070.5 1069.5h0M1055.1 1109.8h0M1122.1 1094.6h0M1103.9 1110.9h0M1117.3 1152.5h0M1047.2 1068.5h0M1125.6 1066.8h0M1111.7 1112.4h0M1043.8 1172.3h0M1030.7 1161.0h0M1017.0 1171.6h0M1037.1 1073.5h0M1123.4 1143.9h0M1114.7 1084.7h0M1060.7 1159.1h0M1027.6 1128.9h0M1022.2 1067.2h0M1048.7 1155.8h0M1062.3 1066.2h0M1132.9 1134.7h0M1048.5 1132.8h0M1110.0 1092.7h0M1137.5 1104.4h0M1137.2 1135.2h0M1059.9 1156.5h0M1094.1 1160.8h0M1085.0 1153.4h0M1090.0 1136.6h0M1085.5 1169.0h0M1029.7 1136.1h0M1072.2 1176.4h0M1068.3 1050.9h0M1062.2 1077.6h0M1033.6 1083.9h0M1058.4 1095.9h0M1056.6 1120.9h0M1044.0 1074.9h0M1129.9 1096.4h0M1015.8 1107.5h0M1101.9 1146.5h0M1042.0 1135.4h0M1094.2 1121.7h0M1059.5 1125.6h0M1113.2 1137.2h0M1093.9 1161.5h0M1030.3 1156.7h0M1015.6 1092.9h0M1108.1 1087.4h0M1083.5 1113.2h0M1084.5 1175.4h0M1138.1 1081.1h0M1048.6 1067.8h0M1104.9 1103.8h0M1104.0 1144.9h0M1137.6 1125.9h0M1066.2 1146.3h0M1027.1 1086.3h0M1100.1 1116.8h0M1132.9 1126.4h0M1042.1 1115.8h0M1022.3 1099.2h0M1044.3 1065.7h0M1121.5 1091.2h0M1064.0 1125.1h0M1082.3 1126.0h0M1118.1 1149.9h0M1100.8 1106.1h0M1068.5 1160.5h0M1079.0 1095.5h0M1038.3 1127.2h0M1103.8 1081.3h0M1118.9 1176.3h0M1091.8 1109.1h0M1065.9 1117.6h0M1080.7 1073.7h0M1100.8 1168.2h0M1050.3 1175.9h0M1020.7 1108.4h0M1120.9 1074.0h0M1103.8 1128.8h0M1022.6 1146.4h0M1082.4 1091.6h0M1102.5 1152.2h0M1033.5 1057.1h0M1138.0 1093.2h0M1128.3 1137.8h0M1094.5 1163.2h0M1137.0 1052.7h0M1075.4 1141.8h0M1065.7 1064.0h0M1117.1 1128.5h0M1107.0 1104.3h0M1088.0 1107.1h0M1090.5 1061.5h0M1116.0 1063.3h0M1126.4 1082.4h0M1094.9 1055.4h0M1057.3 1161.2h0M1075.2 1074.5h0M1139.4 1051.9h0M1081.7 1109.0h0M1086.0 1135.3h0M1048.3 1129.4h0M1131.1 1140.3h0M1107.6 1135.5h0M1077.4 1066.7h0M1125.0 1107.9h0M1018.0 1102.0h0M1130.6 1094.9h0M1048.3 1149.3h0M1115.1 1119.6h0M1118.5 1170.4h0M1038.2 1158.4h0M1134.7 1072.0h0M1101.9 1154.7h0M1114.8 1107.3h0M1130.3 1166.7h0M1084.9 1152.3h0M1123.9 1134.8h0M1075.7 1093.0h0M1056.1 1089.3h0M1050.1 1138.3h0M1069.6 1093.4h0M1071.8 1096.5h0M1032.8 1100.6h0M1082.6 1169.4h0M1014.1 1115.6h0M1082.0 1067.0h0M1123.8 1129.9h0M1031.9 1153.0h0M1069.5 1108.8h0" stroke="#e2dbed" stroke-width="2.9" stroke-linecap="round" fill="none"/>
<path d="M1096.5 1149.3h0M1115.8 1123.8h0M1076.6 1168.2h0M1123.5 1081.1h0M1133.4 1054.6h0M1111.6 1072.4h0M1115.9 1059.5h0M1132.9 1062.2h0M1110.5 1150.1h0M1033.8 1093.0h0M1088.3 1053.2h0M1086.4 1062.3h0M1029.5 1052.8h0M1079.1 1153.8h0M1021.9 1078.6h0M1110.5 1175.5h0M1081.5 1076.8h0M1023.3 1092.0h0M1095.8 1083.6h0M1033.4 1079.5h0M1056.4 1168.3h0M1134.9 1073.2h0M1061.1 1166.3h0M1126.5 1100.9h0M1074.7 1136.6h0M1130.7 1088.1h0M1094.5 1065.8h0M1092.2 1164.8h0M1026.4 1110.9h0M1071.7 1075.3h0M1130.7 1162.1h0M1095.0 1169.1h0M1075.8 1053.3h0M1085.4 1109.6h0M1069.3 1170.4h0M1101.4 1086.2h0M1062.2 1146.8h0M1131.7 1110.9h0M1083.0 1171.0h0M1053.3 1121.2h0M1090.3 1169.8h0M1061.2 1139.7h0M1105.9 1059.3h0M1104.7 1165.2h0M1100.3 1153.5h0M1117.8 1138.3h0M1113.3 1093.1h0M1112.8 1116.3h0M1038.8 1125.2h0M1072.2 1057.5h0M1089.2 1124.1h0M1027.3 1107.4h0M1045.8 1069.9h0M1103.2 1092.3h0M1113.2 1073.8h0M1118.7 1062.9h0M1023.3 1132.7h0M1059.4 1174.4h0M1099.5 1052.3h0M1087.1 1125.6h0M1138.8 1140.1h0M1135.5 1107.9h0M1139.0 1112.2h0M1107.4 1165.5h0M1038.3 1111.7h0M1099.6 1088.9h0M1054.0 1060.0h0M1070.7 1143.3h0M1027.1 1069.3h0M1081.1 1087.2h0M1066.9 1166.3h0M1123.6 1103.8h0M1135.5 1122.9h0M1100.5 1171.7h0M1042.1 1167.9h0M1019.0 1098.6h0M1076.5 1095.0h0M1018.1 1118.2h0M1051.5 1068.5h0M1084.9 1130.9h0M1042.6 1177.5h0M1087.9 1078.0h0M1063.5 1063.0h0M1104.8 1089.9h0M1093.0 1151.2h0M1114.4 1059.9h0M1093.4 1090.9h0M1046.7 1168.2h0M1018.4 1094.8h0M1135.4 1063.0h0M1076.1 1098.8h0M1047.0 1138.1h0M1086.3 1083.8h0M1057.4 1147.8h0M1028.3 1070.1h0M1035.0 1087.0h0M1103.4 1159.8h0M1140.3 1141.1h0M1076.3 1052.3h0M1101.9 1094.6h0M1030.4 1125.1h0M1127.2 1118.5h0M1057.1 1133.5h0M1059.4 1132.3h0M1052.4 1176.5h0M1039.4 1055.4h0M1061.2 1111.6h0M1036.2 1131.9h0M1023.1 1125.2h0M1025.6 1111.9h0M1090.8 1123.0h0M1079.9 1148.7h0M1045.7 1126.2h0M1101.7 1144.6h0M1078.0 1159.9h0M1049.0 1088.1h0M1021.4 1069.5h0M1131.7 1122.5h0M1065.5 1124.4h0M1039.4 1091.6h0M1099.9 1067.5h0M1087.4 1098.4h0M1111.0 1053.5h0M1019.1 1059.7h0M1114.5 1178.6h0M1034.3 1081.5h0M1103.4 1099.0h0M1052.3 1139.8h0M1113.8 1130.9h0M1014.8 1118.8h0" stroke="#d6c4c8" stroke-width="1.3" stroke-linecap="round" fill="none"/>
<ellipse cx="1105.9" cy="1061.4" rx="4.2" ry="5" fill="#fff" opacity="0.9" transform="rotate(0 1105.9 1061.4)"/>
</g><g filter="url(#bl2)">
<ellipse cx="1049.6" cy="1057.9" rx="3.4" ry="2.5" fill="#cfae98" opacity="0.42" transform="rotate(32 1049.6 1057.9)"/>
<ellipse cx="1049.2" cy="1057.4" rx="2.1" ry="1.5" fill="#9e6b49" opacity="0.54" transform="rotate(32 1049.6 1057.9)"/>
<ellipse cx="1020.7" cy="1082.5" rx="3.4" ry="2.5" fill="#cfae98" opacity="0.35" transform="rotate(160 1020.7 1082.5)"/>
<ellipse cx="1020.5" cy="1082.0" rx="2.1" ry="1.5" fill="#9e6b49" opacity="0.45" transform="rotate(160 1020.7 1082.5)"/>
<ellipse cx="1032.8" cy="1083.5" rx="4.6" ry="3.4" fill="#cfae98" opacity="0.24" transform="rotate(47 1032.8 1083.5)"/>
<ellipse cx="1052.4" cy="1074.1" rx="2.9" ry="2.1" fill="#cfae98" opacity="0.35" transform="rotate(70 1052.4 1074.1)"/>
<ellipse cx="1052.5" cy="1073.9" rx="1.8" ry="1.2" fill="#9e6b49" opacity="0.45" transform="rotate(70 1052.4 1074.1)"/>
<ellipse cx="1083.3" cy="1095.9" rx="5.2" ry="3.8" fill="#cfae98" opacity="0.35" transform="rotate(110 1083.3 1095.9)"/>
<ellipse cx="1083.7" cy="1095.8" rx="3.1" ry="2.2" fill="#9e6b49" opacity="0.45" transform="rotate(110 1083.3 1095.9)"/>
<ellipse cx="1087.9" cy="1100.9" rx="5.2" ry="3.8" fill="#cfae98" opacity="0.35" transform="rotate(2 1087.9 1100.9)"/>
<ellipse cx="1088.3" cy="1101.5" rx="3.1" ry="2.2" fill="#9e6b49" opacity="0.45" transform="rotate(2 1087.9 1100.9)"/>
<ellipse cx="1128.9" cy="1065.7" rx="3.4" ry="2.5" fill="#cfae98" opacity="0.35" transform="rotate(106 1128.9 1065.7)"/>
<ellipse cx="1128.9" cy="1066.1" rx="2.1" ry="1.5" fill="#9e6b49" opacity="0.45" transform="rotate(106 1128.9 1065.7)"/>
<ellipse cx="1135.6" cy="1110.5" rx="4.6" ry="3.4" fill="#cfae98" opacity="0.28" transform="rotate(15 1135.6 1110.5)"/>
<ellipse cx="1025.4" cy="1127.4" rx="4.6" ry="3.4" fill="#cfae98" opacity="0.56" transform="rotate(37 1025.4 1127.4)"/>
<ellipse cx="1025.5" cy="1127.6" rx="2.8" ry="2.0" fill="#9e6b49" opacity="0.72" transform="rotate(37 1025.4 1127.4)"/>
<ellipse cx="1038.4" cy="1118.9" rx="2.3" ry="1.7" fill="#cfae98" opacity="0.42" transform="rotate(84 1038.4 1118.9)"/>
<ellipse cx="1038.3" cy="1118.9" rx="1.4" ry="1.0" fill="#9e6b49" opacity="0.54" transform="rotate(84 1038.4 1118.9)"/>
<ellipse cx="1035.6" cy="1147.9" rx="4.6" ry="3.4" fill="#cfae98" opacity="0.63" transform="rotate(13 1035.6 1147.9)"/>
<ellipse cx="1035.8" cy="1147.5" rx="2.8" ry="2.0" fill="#9e6b49" opacity="0.81" transform="rotate(13 1035.6 1147.9)"/>
<ellipse cx="1044.9" cy="1147.5" rx="4.6" ry="3.4" fill="#cfae98" opacity="0.63" transform="rotate(136 1044.9 1147.5)"/>
<ellipse cx="1044.9" cy="1147.7" rx="2.8" ry="2.0" fill="#9e6b49" opacity="0.81" transform="rotate(136 1044.9 1147.5)"/>
<ellipse cx="1097.9" cy="1131.9" rx="3.7" ry="2.7" fill="#cfae98" opacity="0.59" transform="rotate(140 1097.9 1131.9)"/>
<ellipse cx="1098.3" cy="1132.1" rx="2.2" ry="1.6" fill="#9e6b49" opacity="0.77" transform="rotate(140 1097.9 1131.9)"/>
<ellipse cx="1101.4" cy="1137.4" rx="3.4" ry="2.5" fill="#cfae98" opacity="0.59" transform="rotate(89 1101.4 1137.4)"/>
<ellipse cx="1101.2" cy="1137.5" rx="2.1" ry="1.5" fill="#9e6b49" opacity="0.77" transform="rotate(89 1101.4 1137.4)"/>
<ellipse cx="1118.8" cy="1130.2" rx="4.6" ry="3.4" fill="#cfae98" opacity="0.39" transform="rotate(67 1118.8 1130.2)"/>
<ellipse cx="1119.0" cy="1130.4" rx="2.8" ry="2.0" fill="#9e6b49" opacity="0.50" transform="rotate(67 1118.8 1130.2)"/>
<ellipse cx="1089.8" cy="1146.0" rx="2.3" ry="1.7" fill="#cfae98" opacity="0.42" transform="rotate(153 1089.8 1146.0)"/>
<ellipse cx="1090.3" cy="1146.4" rx="1.4" ry="1.0" fill="#9e6b49" opacity="0.54" transform="rotate(153 1089.8 1146.0)"/>
<ellipse cx="1086.1" cy="1166.4" rx="4.1" ry="3.1" fill="#cfae98" opacity="0.66" transform="rotate(103 1086.1 1166.4)"/>
<ellipse cx="1085.9" cy="1166.8" rx="2.5" ry="1.8" fill="#9e6b49" opacity="0.85" transform="rotate(103 1086.1 1166.4)"/>
<ellipse cx="1088.7" cy="1171.9" rx="3.7" ry="2.7" fill="#cfae98" opacity="0.66" transform="rotate(164 1088.7 1171.9)"/>
<ellipse cx="1088.8" cy="1172.2" rx="2.2" ry="1.6" fill="#9e6b49" opacity="0.85" transform="rotate(164 1088.7 1171.9)"/>
<ellipse cx="1099.9" cy="1166.4" rx="4.1" ry="3.1" fill="#cfae98" opacity="0.63" transform="rotate(117 1099.9 1166.4)"/>
<ellipse cx="1099.4" cy="1166.8" rx="2.5" ry="1.8" fill="#9e6b49" opacity="0.81" transform="rotate(117 1099.9 1166.4)"/>
<ellipse cx="1102.9" cy="1171.4" rx="3.9" ry="2.9" fill="#cfae98" opacity="0.63" transform="rotate(137 1102.9 1171.4)"/>
<ellipse cx="1103.5" cy="1171.7" rx="2.4" ry="1.7" fill="#9e6b49" opacity="0.81" transform="rotate(137 1102.9 1171.4)"/>
<ellipse cx="1128.9" cy="1167.5" rx="4.6" ry="3.4" fill="#cfae98" opacity="0.21" transform="rotate(173 1128.9 1167.5)"/>
<ellipse cx="1036.6" cy="1102.1" rx="4.6" ry="3.4" fill="#cfae98" opacity="0.17" transform="rotate(144 1036.6 1102.1)"/>
</g></g>
<rect x="1012.9" y="1049.9" width="130.2" height="130.2" fill="none" stroke="#000" stroke-width="2"/>
<line x1="1136.1" y1="1176.8" x2="1139.6" y2="1176.8" stroke="#444" stroke-width="0.7"/>
<rect x="1163.2" y="1049.9" width="130.2" height="130.2" fill="#f7f0f2"/>
<g clip-path="url(#cp12)"><g filter="url(#bl)">
<path d="M1225.8 1136.2h0M1243.5 1140.4h0M1279.7 1147.1h0M1185.0 1079.2h0M1222.4 1100.8h0M1287.5 1144.2h0M1224.2 1095.9h0M1193.3 1128.1h0M1282.5 1072.3h0M1222.1 1095.0h0M1242.2 1083.4h0M1172.6 1137.5h0M1203.5 1133.7h0M1280.3 1125.4h0M1281.0 1153.6h0M1172.3 1082.3h0M1249.0 1112.1h0M1164.8 1156.1h0M1247.4 1106.5h0M1230.9 1072.8h0M1234.6 1069.1h0M1249.2 1171.5h0M1191.9 1084.9h0M1237.9 1163.0h0M1185.8 1101.0h0M1241.7 1072.0h0M1173.0 1146.6h0M1243.8 1125.2h0M1234.0 1064.1h0M1225.7 1113.3h0M1230.1 1071.8h0M1172.9 1116.9h0M1253.3 1136.3h0M1284.1 1098.4h0M1214.3 1093.2h0M1228.8 1136.6h0M1274.8 1062.7h0M1237.9 1149.1h0M1260.1 1106.0h0M1173.3 1092.2h0M1240.5 1150.5h0M1192.1 1092.5h0M1211.2 1057.6h0M1288.7 1096.0h0M1220.7 1175.0h0M1264.3 1086.1h0M1284.6 1156.6h0M1236.5 1107.5h0M1272.9 1168.8h0M1250.0 1091.9h0M1275.8 1135.3h0M1283.3 1155.3h0M1252.8 1165.6h0M1220.7 1128.5h0M1259.9 1107.2h0M1180.8 1156.9h0M1232.9 1109.2h0M1232.6 1088.1h0M1272.2 1087.5h0M1195.6 1131.4h0M1226.7 1091.0h0M1174.7 1107.6h0M1217.2 1121.1h0M1246.9 1086.1h0M1172.7 1058.7h0M1234.7 1170.7h0M1258.9 1169.8h0M1183.7 1077.4h0M1255.7 1103.2h0M1218.0 1157.5h0M1174.6 1171.5h0M1188.3 1126.0h0M1248.2 1122.6h0M1254.6 1090.0h0M1193.6 1135.4h0M1285.3 1059.0h0M1177.6 1177.5h0M1170.9 1067.5h0M1228.7 1092.1h0M1254.3 1110.5h0M1266.2 1065.1h0M1192.5 1075.5h0M1266.9 1178.8h0M1212.5 1079.5h0M1173.5 1074.3h0M1290.1 1172.7h0M1282.5 1073.9h0M1173.8 1178.0h0M1256.7 1163.9h0M1278.8 1162.4h0M1165.7 1162.4h0M1237.0 1176.6h0M1189.4 1101.2h0M1180.2 1148.6h0M1239.6 1161.7h0M1235.5 1151.9h0M1211.1 1058.8h0M1173.1 1060.1h0M1167.7 1144.8h0M1257.6 1177.4h0M1264.7 1076.3h0M1186.9 1097.6h0M1207.9 1067.8h0M1263.0 1143.7h0M1218.0 1124.1h0M1241.1 1123.3h0M1242.1 1131.5h0M1290.2 1089.4h0M1174.8 1068.3h0M1241.2 1112.9h0M1283.2 1120.6h0M1280.6 1158.4h0M1209.4 1081.1h0M1249.8 1103.9h0M1184.3 1056.9h0M1270.4 1176.1h0M1257.7 1066.9h0M1165.9 1129.9h0M1215.2 1170.2h0M1222.3 1139.7h0" stroke="#fdfbfd" stroke-width="3.0" stroke-linecap="round" fill="none"/>
<path d="M1168.3 1056.4h0M1260.9 1130.7h0M1277.5 1098.5h0M1235.0 1111.5h0M1262.8 1128.5h0M1272.5 1070.3h0M1247.4 1098.4h0M1265.1 1103.4h0M1184.6 1052.4h0M1228.7 1067.3h0M1261.3 1163.7h0M1205.8 1146.8h0M1250.5 1121.2h0M1175.0 1175.5h0M1203.8 1059.8h0M1262.3 1173.3h0M1267.3 1135.8h0M1206.4 1175.4h0M1224.7 1142.9h0M1264.8 1102.2h0M1290.6 1103.1h0M1251.8 1078.6h0M1194.9 1113.4h0M1183.1 1139.6h0M1188.3 1091.2h0M1279.4 1161.5h0M1284.6 1150.0h0M1205.8 1092.9h0M1264.2 1121.8h0M1282.4 1169.1h0M1220.6 1070.9h0M1277.6 1154.8h0M1231.1 1132.4h0M1250.0 1115.7h0M1201.7 1101.7h0M1278.4 1162.4h0M1280.4 1169.7h0M1227.4 1094.8h0M1275.3 1051.1h0M1274.4 1056.1h0M1250.7 1059.8h0M1205.3 1062.8h0M1228.9 1108.2h0M1275.9 1103.0h0M1265.8 1169.0h0M1285.4 1093.3h0M1282.4 1080.1h0M1218.8 1166.9h0M1236.6 1077.8h0M1216.4 1091.3h0M1281.1 1139.0h0M1288.6 1134.4h0M1291.0 1074.1h0M1219.6 1072.7h0M1224.2 1115.7h0M1276.3 1131.1h0M1244.6 1124.5h0M1276.7 1159.8h0M1204.4 1113.4h0M1208.1 1054.8h0M1196.2 1087.2h0M1278.0 1177.4h0M1180.0 1095.1h0M1249.6 1065.0h0M1220.9 1101.1h0M1247.9 1173.9h0M1269.9 1080.3h0M1188.0 1109.9h0M1228.3 1139.9h0M1256.9 1150.3h0M1194.2 1092.1h0M1260.3 1115.8h0M1277.1 1139.0h0M1213.2 1176.4h0M1232.1 1077.6h0M1196.3 1171.0h0M1191.4 1086.3h0M1210.4 1162.0h0M1254.5 1126.0h0M1253.2 1163.0h0M1215.2 1162.3h0M1168.1 1109.0h0M1271.6 1076.0h0M1232.9 1106.9h0M1215.6 1063.0h0M1264.2 1175.1h0M1289.6 1165.2h0M1235.5 1126.3h0M1284.0 1054.8h0M1166.9 1118.5h0M1264.0 1130.8h0M1170.9 1123.5h0M1234.8 1144.4h0M1167.9 1129.3h0M1217.4 1117.3h0M1262.6 1090.8h0M1190.9 1065.8h0M1262.7 1144.3h0M1204.1 1125.9h0M1263.3 1145.1h0M1204.6 1109.6h0M1216.3 1062.9h0M1247.9 1082.7h0M1250.3 1127.2h0M1209.2 1094.0h0M1265.3 1117.6h0M1277.1 1169.1h0M1244.7 1148.2h0M1246.4 1120.8h0M1216.0 1134.5h0M1258.7 1067.0h0M1261.3 1164.9h0M1291.9 1134.0h0M1287.5 1121.2h0M1167.0 1121.2h0M1253.4 1094.0h0M1216.3 1126.9h0M1240.3 1128.1h0M1243.4 1119.3h0M1263.7 1076.1h0M1165.2 1099.4h0M1165.5 1075.4h0M1223.6 1094.9h0M1260.0 1052.0h0M1251.4 1174.0h0M1181.8 1164.6h0M1221.8 1056.8h0M1231.9 1168.5h0M1276.2 1094.0h0M1238.9 1134.6h0M1177.9 1084.7h0M1186.8 1137.1h0M1290.0 1081.9h0M1167.8 1146.6h0M1286.6 1116.4h0M1172.9 1163.4h0M1231.0 1072.6h0M1180.2 1062.0h0M1196.2 1117.9h0M1241.6 1093.8h0M1274.8 1152.2h0M1164.5 1133.2h0M1176.1 1102.1h0M1218.1 1092.7h0M1179.9 1106.0h0M1165.1 1065.5h0M1218.5 1106.7h0M1186.8 1081.1h0M1179.3 1116.4h0M1222.8 1128.5h0M1285.8 1157.3h0M1172.5 1057.4h0M1188.4 1052.3h0M1255.1 1109.0h0M1234.1 1104.6h0M1244.5 1151.3h0M1213.0 1130.6h0M1227.1 1175.1h0M1249.7 1098.4h0M1229.8 1166.5h0M1290.5 1143.5h0M1288.9 1144.6h0M1215.8 1087.4h0M1184.2 1133.0h0M1254.7 1063.9h0M1284.5 1129.2h0M1259.7 1170.2h0M1194.6 1084.6h0M1185.8 1126.7h0M1276.1 1104.5h0M1193.9 1088.0h0M1193.1 1152.9h0M1248.2 1120.6h0M1280.7 1096.1h0M1235.8 1165.5h0M1193.2 1175.1h0M1282.4 1069.4h0M1201.4 1166.1h0M1277.9 1121.3h0M1165.4 1163.4h0M1266.3 1084.3h0M1175.1 1078.2h0M1291.0 1104.2h0M1270.5 1176.1h0M1209.0 1053.6h0M1166.5 1149.5h0M1185.8 1096.4h0M1222.7 1091.3h0M1248.5 1124.6h0M1241.2 1071.5h0M1238.8 1079.7h0M1244.5 1086.0h0M1225.0 1131.3h0M1168.2 1167.8h0M1193.5 1072.4h0M1248.8 1147.4h0M1170.4 1154.1h0M1218.0 1107.8h0M1287.6 1094.2h0M1193.9 1155.4h0M1182.3 1125.2h0M1267.4 1087.7h0M1239.0 1129.3h0M1260.4 1170.0h0M1176.2 1103.2h0M1175.8 1165.6h0M1274.9 1097.6h0M1264.4 1117.4h0M1246.9 1155.8h0M1203.3 1116.6h0M1212.5 1063.8h0M1286.0 1111.0h0M1283.2 1103.1h0M1280.9 1136.8h0M1226.9 1127.7h0M1251.1 1133.5h0M1165.7 1082.6h0M1253.1 1082.0h0M1196.3 1167.0h0M1165.5 1104.5h0M1256.4 1101.0h0M1250.1 1105.1h0M1265.6 1070.6h0M1286.4 1074.3h0M1238.8 1096.1h0M1198.3 1105.2h0M1208.3 1123.7h0M1246.1 1067.6h0M1174.7 1112.9h0M1231.9 1121.9h0M1262.2 1158.1h0M1192.0 1110.9h0M1222.8 1076.6h0M1180.0 1167.4h0M1213.5 1085.1h0M1280.3 1087.1h0M1193.7 1077.9h0M1286.4 1075.6h0M1216.7 1102.3h0M1164.9 1115.9h0M1255.8 1155.7h0M1290.2 1139.5h0M1267.0 1103.2h0M1285.5 1106.1h0M1215.1 1085.9h0M1237.1 1108.2h0M1248.2 1099.6h0M1256.2 1156.3h0M1275.8 1120.7h0M1204.8 1064.3h0M1166.3 1150.3h0M1180.6 1134.7h0M1253.4 1091.9h0M1252.1 1054.0h0M1179.2 1128.9h0M1264.9 1142.7h0M1196.1 1172.3h0M1283.7 1105.2h0M1290.1 1092.4h0M1284.6 1062.7h0M1172.5 1150.1h0M1261.2 1121.4h0M1179.2 1137.6h0M1175.0 1093.7h0M1167.0 1068.4h0M1239.9 1140.9h0M1218.5 1054.3h0M1183.9 1069.1h0M1292.0 1171.6h0M1176.3 1115.1h0M1228.6 1075.0h0M1227.0 1159.5h0M1223.9 1153.7h0M1246.8 1125.9h0M1289.0 1081.5h0M1227.9 1071.0h0M1249.0 1138.6h0M1192.4 1128.0h0M1259.2 1159.6h0M1205.9 1069.8h0" stroke="#eedfe2" stroke-width="2.2" stroke-linecap="round" fill="none"/>
<path d="M1245.3 1054.3h0M1213.9 1104.6h0M1275.7 1145.3h0M1288.9 1176.5h0M1253.9 1074.3h0M1255.6 1159.7h0M1288.3 1128.8h0M1289.7 1169.6h0M1242.1 1166.3h0M1181.8 1126.6h0M1255.1 1137.8h0M1252.8 1133.4h0M1233.5 1123.5h0M1258.3 1072.3h0M1167.5 1131.0h0M1276.9 1144.6h0M1248.0 1075.2h0M1264.7 1061.3h0M1287.5 1059.9h0M1198.3 1100.5h0M1232.5 1150.6h0M1171.4 1099.9h0M1245.3 1087.8h0M1239.8 1132.5h0M1168.6 1103.8h0M1269.1 1104.7h0M1246.5 1052.9h0M1256.2 1147.1h0M1179.3 1085.7h0M1216.7 1068.5h0M1226.1 1160.1h0M1241.0 1147.3h0M1182.0 1128.4h0M1205.2 1099.3h0M1240.9 1140.4h0M1239.9 1126.1h0M1267.6 1156.0h0M1266.2 1110.5h0M1239.9 1120.3h0M1277.0 1150.8h0M1172.6 1104.7h0M1262.2 1111.0h0M1196.3 1115.4h0M1179.0 1065.2h0M1196.5 1088.7h0M1186.1 1133.7h0M1203.6 1125.1h0M1202.1 1111.2h0M1176.1 1113.7h0M1174.0 1051.6h0M1182.5 1141.7h0M1190.8 1103.9h0M1169.8 1141.9h0M1264.6 1168.7h0M1264.3 1170.6h0M1282.2 1129.8h0M1274.3 1086.6h0M1174.3 1074.8h0M1281.2 1092.8h0M1280.8 1120.8h0M1219.4 1093.6h0M1215.0 1097.7h0M1225.3 1094.2h0M1217.0 1083.7h0M1251.2 1135.2h0M1234.1 1149.6h0M1205.3 1059.9h0M1281.0 1107.8h0M1201.6 1126.1h0M1203.3 1097.7h0M1177.9 1062.7h0M1246.6 1125.0h0M1286.1 1128.4h0M1266.3 1160.1h0M1279.2 1068.3h0M1181.2 1131.8h0M1171.0 1084.9h0M1259.8 1177.0h0M1166.2 1128.9h0M1165.4 1144.2h0M1279.0 1086.9h0M1164.2 1173.2h0M1211.3 1090.1h0M1172.9 1108.2h0M1170.9 1095.2h0M1253.1 1145.8h0M1221.4 1169.0h0M1207.2 1056.8h0M1269.8 1088.2h0M1172.1 1173.7h0M1291.8 1136.9h0M1218.1 1117.5h0M1284.3 1143.5h0M1249.0 1139.2h0M1201.1 1121.8h0M1257.8 1151.0h0M1246.1 1107.6h0M1262.8 1064.5h0M1269.3 1072.9h0M1288.8 1149.9h0M1193.6 1175.4h0M1255.5 1137.7h0M1246.9 1053.8h0M1201.9 1081.5h0M1290.9 1115.1h0M1223.3 1074.5h0M1194.5 1097.6h0M1216.3 1053.7h0M1279.7 1132.4h0M1228.6 1163.5h0M1267.8 1099.7h0M1252.9 1063.8h0M1232.1 1122.9h0M1231.0 1144.1h0M1238.1 1086.9h0M1291.7 1127.9h0M1243.0 1091.8h0M1265.2 1145.7h0M1182.4 1084.7h0M1229.7 1177.7h0M1205.2 1101.4h0M1261.0 1154.9h0M1194.1 1166.3h0M1281.3 1125.5h0M1243.5 1134.6h0M1208.5 1144.9h0M1269.1 1097.4h0M1231.8 1072.7h0M1173.3 1141.4h0M1258.4 1095.7h0M1278.6 1095.4h0M1286.6 1113.1h0M1273.1 1119.5h0M1234.3 1113.6h0M1279.6 1110.7h0M1179.6 1075.0h0M1201.5 1091.1h0M1179.0 1156.8h0M1225.5 1124.9h0M1184.5 1125.4h0M1210.2 1166.0h0M1169.1 1156.7h0M1187.9 1061.3h0M1279.0 1121.9h0M1193.3 1121.9h0M1173.4 1118.6h0M1220.3 1060.9h0M1185.5 1092.8h0M1233.6 1113.5h0M1280.6 1119.4h0M1250.6 1164.2h0M1231.0 1126.5h0M1202.5 1167.3h0M1180.5 1118.0h0M1165.3 1087.0h0M1217.2 1089.2h0M1290.8 1137.0h0M1169.8 1128.9h0M1260.0 1142.6h0M1183.5 1142.7h0M1283.7 1169.8h0M1268.3 1141.3h0M1171.7 1065.6h0M1181.7 1152.8h0M1242.6 1099.1h0M1184.8 1102.1h0M1180.3 1152.4h0M1167.3 1153.7h0M1225.8 1162.4h0M1208.1 1140.3h0M1219.0 1158.4h0M1173.1 1174.1h0M1231.7 1152.0h0M1213.8 1145.3h0M1268.0 1139.4h0M1257.2 1053.1h0M1190.7 1129.2h0M1194.8 1160.5h0M1255.4 1173.3h0M1172.2 1170.7h0M1255.9 1056.8h0M1168.7 1104.9h0M1184.9 1058.9h0M1254.4 1128.9h0M1291.3 1090.5h0M1204.4 1112.9h0M1171.7 1126.2h0M1213.6 1070.2h0M1178.3 1144.6h0M1176.5 1063.5h0M1201.7 1076.3h0M1272.3 1139.8h0M1185.8 1166.7h0M1245.5 1142.8h0M1227.8 1079.3h0M1247.6 1103.2h0M1187.6 1104.5h0M1209.0 1156.3h0M1172.2 1091.5h0M1273.1 1139.2h0M1164.6 1081.3h0M1177.2 1110.5h0M1279.4 1059.6h0M1176.9 1172.3h0M1290.7 1059.5h0M1177.9 1104.4h0M1238.7 1126.1h0M1246.6 1063.7h0M1190.1 1172.2h0M1279.7 1061.6h0M1273.2 1084.0h0M1186.7 1136.3h0M1168.2 1153.0h0M1177.9 1138.7h0M1281.7 1138.4h0M1171.3 1083.2h0M1231.7 1162.4h0M1237.7 1173.2h0M1168.7 1173.6h0M1253.2 1165.7h0M1290.2 1074.0h0M1246.6 1091.0h0M1194.0 1135.8h0M1190.8 1136.8h0M1230.8 1066.2h0M1271.3 1155.7h0M1287.9 1112.8h0M1282.1 1155.7h0M1245.4 1122.2h0M1181.9 1132.5h0M1165.1 1131.0h0M1246.1 1175.4h0M1178.0 1142.1h0M1271.9 1114.8h0M1203.6 1085.4h0M1276.0 1140.2h0M1183.2 1082.3h0M1268.1 1136.3h0M1235.2 1094.8h0M1226.3 1117.8h0M1282.6 1076.4h0M1174.9 1086.1h0M1227.4 1129.9h0M1275.1 1065.9h0M1269.5 1145.5h0M1191.4 1093.5h0M1227.5 1058.6h0M1200.6 1072.6h0M1198.7 1171.9h0M1196.3 1080.1h0M1215.4 1157.1h0M1184.8 1153.2h0M1231.7 1170.6h0M1273.7 1100.1h0M1214.6 1104.2h0M1285.7 1076.7h0M1225.3 1151.7h0M1246.7 1083.8h0M1213.1 1052.0h0M1164.6 1135.6h0M1191.7 1153.8h0M1243.3 1137.6h0M1195.2 1163.1h0M1190.3 1078.7h0M1212.2 1149.2h0M1231.4 1101.2h0M1254.1 1084.6h0M1201.3 1051.4h0M1181.2 1136.5h0M1216.7 1072.1h0" stroke="#e3dced" stroke-width="2.9" stroke-linecap="round" fill="none"/>
<path d="M1232.7 1123.8h0M1192.1 1119.5h0M1280.8 1104.2h0M1249.9 1051.0h0M1175.6 1119.1h0M1180.1 1144.0h0M1249.3 1117.8h0M1284.0 1123.3h0M1185.1 1172.4h0M1220.5 1066.3h0M1193.4 1122.0h0M1164.9 1072.8h0M1281.0 1160.3h0M1176.4 1131.3h0M1210.2 1097.9h0M1170.1 1107.8h0M1222.2 1051.2h0M1171.2 1175.6h0M1224.5 1106.0h0M1290.2 1159.8h0M1207.5 1131.2h0M1277.6 1089.8h0M1255.2 1086.9h0M1269.9 1060.9h0M1178.8 1097.1h0M1189.6 1084.9h0M1262.2 1174.9h0M1168.7 1112.4h0M1235.3 1162.1h0M1218.0 1119.9h0M1281.8 1172.4h0M1211.9 1143.2h0M1219.6 1107.1h0M1246.8 1176.3h0M1214.3 1061.4h0M1165.2 1088.0h0M1238.9 1067.2h0M1287.7 1141.1h0M1272.6 1163.5h0M1223.6 1160.3h0M1258.5 1101.1h0M1245.2 1141.4h0M1247.0 1094.5h0M1267.3 1135.4h0M1290.9 1173.6h0M1241.4 1077.3h0M1286.2 1153.3h0M1226.8 1055.0h0M1276.8 1106.1h0M1273.8 1150.0h0M1253.7 1151.2h0M1186.3 1119.6h0M1260.2 1128.4h0M1206.3 1068.1h0M1210.2 1171.0h0M1255.1 1067.3h0M1184.4 1140.5h0M1230.7 1068.3h0M1195.7 1107.1h0M1280.1 1106.0h0M1271.2 1089.0h0M1281.0 1133.9h0M1202.3 1162.5h0M1234.4 1121.0h0M1242.0 1117.8h0M1204.0 1051.7h0M1191.2 1131.1h0M1248.8 1147.3h0M1237.0 1083.5h0M1177.3 1155.7h0M1239.1 1077.8h0M1230.6 1070.3h0M1230.6 1072.2h0M1181.5 1160.5h0M1244.7 1116.6h0M1219.6 1169.5h0M1238.8 1150.2h0M1170.6 1059.3h0M1252.1 1127.5h0M1216.2 1144.1h0M1287.7 1066.7h0M1204.4 1137.9h0M1274.6 1117.1h0M1277.4 1117.8h0M1292.1 1075.4h0M1207.2 1053.8h0M1236.9 1087.4h0M1185.8 1052.1h0M1189.0 1088.4h0M1204.6 1096.4h0M1253.9 1091.2h0M1203.2 1155.1h0M1205.1 1146.3h0M1257.9 1054.9h0M1198.2 1095.0h0M1188.8 1090.0h0M1277.0 1165.6h0M1192.5 1056.8h0M1262.2 1159.9h0M1244.8 1088.3h0M1184.3 1063.6h0M1203.3 1069.9h0M1286.2 1113.6h0M1222.6 1143.1h0M1260.3 1067.4h0M1224.2 1117.0h0M1191.3 1120.7h0M1226.1 1156.3h0M1257.8 1150.1h0M1173.4 1084.1h0M1210.8 1145.2h0M1231.5 1165.8h0M1255.1 1081.7h0M1232.0 1135.0h0M1255.6 1058.3h0M1285.2 1136.7h0M1288.1 1091.3h0M1184.6 1086.9h0M1219.3 1133.8h0M1280.9 1098.5h0M1288.3 1120.7h0M1284.6 1160.5h0M1167.9 1079.1h0M1172.8 1124.0h0M1245.6 1051.7h0M1174.2 1078.0h0M1210.9 1055.3h0M1263.6 1160.5h0M1168.7 1055.3h0M1291.0 1129.5h0" stroke="#d6c4c8" stroke-width="1.3" stroke-linecap="round" fill="none"/>
</g><g filter="url(#bl2)">
<ellipse cx="1178.1" cy="1058.2" rx="4.6" ry="3.4" fill="#cfae98" opacity="0.39" transform="rotate(148 1178.1 1058.2)"/>
<ellipse cx="1178.4" cy="1058.3" rx="2.8" ry="2.0" fill="#9e6b49" opacity="0.50" transform="rotate(148 1178.1 1058.2)"/>
<ellipse cx="1258.4" cy="1063.9" rx="3.4" ry="2.5" fill="#cfae98" opacity="0.21" transform="rotate(94 1258.4 1063.9)"/>
<ellipse cx="1184.6" cy="1099.3" rx="4.0" ry="3.0" fill="#cfae98" opacity="0.42" transform="rotate(116 1184.6 1099.3)"/>
<ellipse cx="1184.8" cy="1098.8" rx="2.4" ry="1.8" fill="#9e6b49" opacity="0.54" transform="rotate(116 1184.6 1099.3)"/>
<ellipse cx="1198.6" cy="1094.7" rx="3.4" ry="2.5" fill="#cfae98" opacity="0.21" transform="rotate(146 1198.6 1094.7)"/>
<ellipse cx="1202.7" cy="1119.9" rx="3.4" ry="2.5" fill="#cfae98" opacity="0.42" transform="rotate(55 1202.7 1119.9)"/>
<ellipse cx="1203.2" cy="1120.0" rx="2.1" ry="1.5" fill="#9e6b49" opacity="0.54" transform="rotate(55 1202.7 1119.9)"/>
<ellipse cx="1192.1" cy="1136.1" rx="4.0" ry="3.0" fill="#cfae98" opacity="0.56" transform="rotate(18 1192.1 1136.1)"/>
<ellipse cx="1192.0" cy="1135.6" rx="2.4" ry="1.8" fill="#9e6b49" opacity="0.72" transform="rotate(18 1192.1 1136.1)"/>
<ellipse cx="1224.8" cy="1128.4" rx="3.4" ry="2.5" fill="#cfae98" opacity="0.59" transform="rotate(15 1224.8 1128.4)"/>
<ellipse cx="1224.4" cy="1128.6" rx="2.1" ry="1.5" fill="#9e6b49" opacity="0.77" transform="rotate(15 1224.8 1128.4)"/>
<ellipse cx="1224.8" cy="1133.9" rx="3.0" ry="2.2" fill="#cfae98" opacity="0.49" transform="rotate(91 1224.8 1133.9)"/>
<ellipse cx="1224.4" cy="1133.5" rx="1.8" ry="1.3" fill="#9e6b49" opacity="0.63" transform="rotate(91 1224.8 1133.9)"/>
<ellipse cx="1266.8" cy="1161.4" rx="3.4" ry="2.5" fill="#cfae98" opacity="0.63" transform="rotate(117 1266.8 1161.4)"/>
<ellipse cx="1266.6" cy="1161.6" rx="2.1" ry="1.5" fill="#9e6b49" opacity="0.81" transform="rotate(117 1266.8 1161.4)"/>
<ellipse cx="1266.8" cy="1166.9" rx="3.2" ry="2.4" fill="#cfae98" opacity="0.59" transform="rotate(141 1266.8 1166.9)"/>
<ellipse cx="1266.9" cy="1166.5" rx="2.0" ry="1.4" fill="#9e6b49" opacity="0.77" transform="rotate(141 1266.8 1166.9)"/>
<ellipse cx="1279.9" cy="1154.4" rx="5.8" ry="4.2" fill="#cfae98" opacity="0.21" transform="rotate(43 1279.9 1154.4)"/>
<ellipse cx="1289.2" cy="1110.5" rx="2.3" ry="1.7" fill="#cfae98" opacity="0.28" transform="rotate(135 1289.2 1110.5)"/>
</g></g>
<rect x="1163.2" y="1049.9" width="130.2" height="130.2" fill="none" stroke="#000" stroke-width="2"/>
<line x1="1286.4" y1="1176.8" x2="1289.9" y2="1176.8" stroke="#444" stroke-width="0.7"/>
<rect x="1313.7" y="1049.9" width="130.2" height="130.2" fill="#f4f0f7"/>
<g clip-path="url(#cp13)"><g filter="url(#bl)">
<path d="M1318.6 1162.0h0M1407.1 1053.2h0M1385.1 1081.5h0M1427.6 1160.2h0M1353.3 1127.5h0M1378.1 1086.9h0M1370.1 1101.4h0M1374.5 1172.8h0M1408.2 1055.8h0M1359.8 1174.8h0M1412.1 1128.5h0M1397.5 1138.5h0M1335.7 1103.0h0M1350.2 1075.5h0M1402.9 1055.5h0M1337.6 1141.8h0M1429.1 1089.7h0M1423.9 1157.5h0M1334.4 1168.0h0M1336.2 1111.3h0M1325.4 1063.1h0M1399.7 1158.4h0M1329.1 1092.8h0M1392.9 1126.9h0M1332.5 1139.7h0M1328.2 1170.3h0M1400.1 1135.7h0M1432.9 1081.1h0M1340.4 1131.1h0M1429.2 1170.1h0M1416.5 1128.0h0M1360.7 1151.7h0M1396.1 1163.3h0M1411.4 1113.7h0M1397.5 1076.9h0M1351.0 1148.8h0M1404.9 1054.4h0M1340.9 1104.6h0M1387.8 1095.9h0M1362.6 1171.9h0M1364.1 1107.8h0M1434.9 1092.7h0M1382.3 1072.4h0M1423.4 1156.3h0M1345.1 1130.8h0M1345.6 1158.1h0M1378.1 1087.5h0M1439.0 1112.8h0M1386.8 1174.5h0M1352.0 1108.9h0M1430.8 1096.5h0M1424.3 1130.2h0M1436.7 1125.5h0M1428.3 1113.3h0M1343.4 1095.2h0M1377.5 1129.6h0M1373.3 1097.4h0M1348.8 1116.0h0M1403.0 1132.4h0M1319.2 1083.7h0M1401.2 1113.2h0M1352.0 1126.0h0M1320.2 1115.9h0M1434.7 1096.3h0M1334.6 1138.8h0M1392.2 1093.3h0M1346.3 1051.3h0M1327.3 1152.6h0M1367.8 1160.0h0M1438.7 1145.3h0M1360.2 1065.5h0M1431.1 1072.7h0M1332.7 1104.7h0M1349.4 1086.5h0M1337.0 1057.6h0M1318.2 1169.6h0M1327.1 1105.6h0M1396.8 1123.6h0M1426.4 1173.9h0M1392.2 1105.9h0M1396.2 1096.4h0M1337.3 1112.6h0M1379.6 1082.0h0M1372.8 1098.5h0M1324.7 1174.0h0M1382.7 1123.5h0M1325.6 1090.3h0M1320.4 1163.3h0M1397.2 1115.1h0M1403.7 1107.0h0M1381.2 1178.4h0M1328.8 1137.0h0M1367.6 1075.7h0M1336.4 1125.0h0M1325.4 1155.0h0M1368.2 1089.8h0M1370.3 1103.5h0M1371.5 1089.9h0M1366.5 1084.2h0M1411.0 1126.0h0M1360.2 1093.7h0M1358.2 1175.1h0M1400.1 1170.9h0M1428.7 1143.6h0M1393.4 1092.9h0M1392.2 1065.3h0M1375.1 1140.6h0M1379.4 1114.7h0M1398.6 1125.8h0M1386.6 1123.3h0M1364.6 1121.2h0M1314.8 1129.1h0M1343.3 1136.0h0M1323.7 1120.7h0M1353.0 1111.2h0M1422.8 1144.0h0M1421.7 1124.1h0M1427.3 1177.3h0M1426.5 1079.0h0M1330.5 1093.1h0" stroke="#fdfbfd" stroke-width="3.0" stroke-linecap="round" fill="none"/>
<path d="M1385.5 1080.0h0M1441.8 1117.1h0M1438.4 1067.4h0M1316.7 1116.5h0M1418.9 1087.5h0M1438.5 1066.1h0M1434.0 1178.4h0M1407.3 1135.4h0M1399.4 1084.7h0M1316.0 1136.8h0M1408.8 1097.6h0M1361.5 1061.9h0M1323.4 1149.7h0M1366.2 1143.1h0M1427.9 1054.6h0M1317.2 1169.0h0M1342.4 1076.6h0M1379.1 1145.6h0M1388.0 1159.5h0M1439.6 1060.3h0M1400.1 1085.9h0M1412.3 1145.8h0M1434.0 1116.4h0M1347.2 1153.9h0M1441.5 1143.0h0M1396.3 1120.8h0M1401.2 1143.7h0M1398.5 1083.5h0M1376.4 1112.7h0M1346.6 1134.0h0M1395.1 1165.9h0M1374.8 1138.1h0M1430.4 1147.3h0M1405.2 1121.6h0M1324.8 1063.7h0M1371.4 1113.7h0M1319.6 1119.0h0M1322.6 1089.4h0M1354.9 1093.5h0M1322.0 1067.3h0M1420.6 1090.9h0M1384.6 1082.8h0M1332.6 1083.8h0M1321.0 1072.1h0M1338.3 1064.1h0M1407.0 1160.6h0M1355.5 1074.2h0M1339.9 1115.0h0M1349.1 1157.6h0M1341.7 1104.3h0M1321.3 1059.2h0M1400.3 1060.4h0M1360.2 1052.9h0M1343.2 1168.3h0M1433.9 1076.2h0M1422.8 1172.9h0M1379.0 1108.2h0M1426.3 1071.5h0M1337.3 1120.4h0M1376.3 1113.1h0M1437.5 1150.0h0M1316.0 1146.3h0M1343.6 1063.5h0M1357.1 1118.4h0M1359.5 1111.6h0M1428.0 1096.4h0M1433.7 1109.1h0M1425.9 1112.3h0M1367.0 1083.9h0M1362.0 1167.6h0M1355.5 1153.0h0M1407.2 1055.7h0M1393.2 1088.8h0M1318.0 1154.6h0M1364.1 1055.1h0M1355.4 1091.1h0M1347.0 1071.9h0M1378.9 1149.3h0M1355.1 1090.3h0M1439.9 1120.6h0M1339.5 1084.8h0M1398.6 1102.2h0M1376.7 1135.1h0M1396.3 1101.0h0M1348.7 1053.9h0M1333.2 1083.4h0M1414.1 1138.4h0M1378.4 1055.2h0M1427.1 1063.6h0M1414.9 1132.3h0M1388.2 1140.7h0M1378.6 1067.9h0M1393.7 1139.8h0M1344.1 1056.4h0M1415.9 1148.4h0M1384.8 1146.9h0M1367.4 1164.9h0M1414.2 1143.0h0M1321.1 1092.5h0M1390.8 1082.9h0M1379.9 1068.4h0M1393.9 1169.9h0M1398.9 1090.6h0M1426.2 1145.0h0M1337.2 1084.0h0M1419.8 1071.7h0M1385.6 1063.8h0M1419.2 1130.1h0M1317.8 1145.1h0M1379.1 1123.5h0M1361.2 1164.2h0M1424.6 1169.5h0M1400.2 1106.3h0M1334.1 1126.3h0M1432.7 1126.9h0M1374.0 1174.2h0M1430.5 1110.0h0M1316.9 1159.3h0M1365.0 1106.9h0M1436.6 1177.5h0M1438.3 1070.5h0M1384.5 1127.9h0M1368.8 1053.2h0M1430.2 1146.2h0M1389.6 1115.0h0M1317.8 1109.0h0M1416.4 1123.2h0M1428.1 1107.8h0M1409.3 1063.6h0M1355.6 1066.4h0M1417.3 1132.7h0M1349.4 1053.8h0M1382.6 1172.9h0M1364.2 1103.7h0M1329.5 1076.7h0M1409.7 1069.6h0M1438.0 1084.1h0M1428.3 1140.3h0M1396.3 1086.5h0M1375.8 1080.2h0M1430.5 1100.9h0M1411.2 1135.5h0M1355.9 1066.8h0M1335.1 1109.4h0M1367.9 1120.4h0M1400.4 1164.7h0M1318.0 1157.1h0M1317.3 1083.3h0M1432.8 1112.5h0M1389.3 1105.9h0M1371.5 1110.6h0M1339.5 1134.5h0M1318.5 1121.3h0M1315.0 1112.8h0M1372.6 1064.9h0M1329.8 1098.8h0M1389.4 1176.5h0M1419.6 1087.3h0M1431.9 1140.8h0M1322.3 1127.6h0M1325.0 1168.5h0M1383.2 1058.1h0M1419.9 1065.5h0M1319.7 1174.7h0M1365.2 1085.6h0M1440.0 1168.6h0M1413.3 1138.0h0M1414.3 1087.7h0M1324.4 1105.6h0M1358.1 1057.1h0M1418.7 1176.3h0M1333.3 1116.7h0M1372.0 1168.9h0M1359.5 1136.0h0M1339.6 1096.9h0M1322.6 1146.6h0M1320.0 1075.7h0M1375.6 1141.2h0M1431.8 1088.4h0M1387.2 1139.0h0M1379.0 1093.3h0M1369.0 1063.9h0M1345.8 1062.8h0M1442.3 1161.1h0M1383.0 1077.2h0M1379.7 1105.0h0M1369.5 1142.3h0M1440.2 1129.4h0M1399.4 1123.2h0M1371.8 1097.5h0M1421.9 1167.9h0M1362.6 1096.9h0M1339.8 1170.0h0M1405.9 1079.2h0M1411.0 1161.4h0M1334.9 1076.7h0M1341.8 1069.4h0M1399.8 1143.7h0M1327.6 1165.3h0M1324.6 1142.6h0M1335.1 1148.4h0M1344.3 1164.0h0M1398.0 1124.0h0M1357.9 1092.0h0M1353.3 1087.8h0M1319.5 1128.9h0M1392.5 1053.8h0M1338.8 1162.0h0M1340.3 1161.9h0M1340.9 1128.6h0M1373.7 1065.5h0M1421.6 1116.8h0M1415.4 1058.1h0M1393.4 1152.5h0M1442.1 1177.8h0M1347.8 1126.2h0M1417.3 1084.9h0M1428.2 1112.1h0M1367.8 1120.4h0M1320.4 1168.1h0M1343.3 1062.2h0M1404.3 1165.9h0M1384.5 1098.0h0M1425.2 1174.9h0M1400.9 1098.6h0M1403.8 1085.2h0M1321.3 1147.6h0M1361.5 1076.0h0M1328.0 1142.1h0M1403.1 1063.7h0M1328.0 1122.3h0M1436.4 1133.5h0M1437.8 1108.2h0M1366.9 1119.5h0M1329.5 1128.6h0M1357.2 1088.1h0M1319.3 1124.8h0M1396.6 1118.9h0M1382.5 1117.2h0M1335.4 1055.3h0M1393.1 1107.0h0M1391.7 1151.9h0M1357.3 1156.6h0M1343.0 1128.5h0M1421.6 1128.2h0M1427.2 1129.9h0M1404.4 1136.6h0M1403.0 1175.8h0M1357.2 1178.9h0M1384.0 1169.7h0M1415.1 1060.7h0M1429.7 1129.8h0M1381.1 1071.8h0M1407.2 1160.6h0M1431.5 1113.4h0M1400.7 1157.2h0M1371.1 1082.6h0M1375.5 1129.7h0M1331.0 1106.5h0M1403.3 1161.2h0M1363.6 1134.3h0M1432.6 1056.7h0M1346.4 1057.6h0M1436.0 1116.0h0M1438.8 1165.4h0M1416.9 1155.4h0M1399.2 1084.9h0M1371.8 1172.2h0M1416.9 1141.2h0M1325.8 1102.1h0M1316.6 1090.2h0M1318.9 1099.3h0M1395.1 1137.8h0M1368.7 1114.6h0M1380.3 1112.4h0M1322.2 1148.5h0M1431.9 1170.6h0M1360.5 1080.9h0M1366.6 1143.6h0M1426.7 1095.6h0" stroke="#eedfe2" stroke-width="2.2" stroke-linecap="round" fill="none"/>
<path d="M1376.6 1087.8h0M1361.7 1115.0h0M1382.6 1117.2h0M1381.1 1148.0h0M1394.0 1137.5h0M1322.1 1053.4h0M1337.2 1150.7h0M1421.1 1074.1h0M1428.7 1113.9h0M1332.8 1087.2h0M1408.3 1079.9h0M1386.4 1057.2h0M1408.5 1129.5h0M1348.8 1137.3h0M1349.3 1070.6h0M1341.5 1064.7h0M1317.2 1149.4h0M1342.3 1074.0h0M1400.1 1136.7h0M1424.1 1124.2h0M1374.9 1097.0h0M1338.0 1059.6h0M1397.0 1085.2h0M1377.9 1129.7h0M1337.1 1074.9h0M1336.3 1166.1h0M1361.8 1150.0h0M1381.2 1164.4h0M1386.4 1068.4h0M1338.2 1133.9h0M1348.5 1175.5h0M1343.3 1095.9h0M1442.3 1104.6h0M1411.2 1150.9h0M1405.7 1134.3h0M1345.6 1065.1h0M1417.2 1102.9h0M1433.9 1157.7h0M1326.0 1090.7h0M1374.0 1155.3h0M1330.4 1150.3h0M1426.5 1133.6h0M1415.9 1099.2h0M1343.2 1054.6h0M1350.8 1133.9h0M1354.8 1082.5h0M1379.4 1054.5h0M1392.7 1058.1h0M1361.4 1053.3h0M1406.3 1120.7h0M1351.5 1074.5h0M1321.6 1153.4h0M1373.3 1103.4h0M1412.9 1130.9h0M1427.7 1151.5h0M1334.1 1120.2h0M1362.5 1138.8h0M1413.1 1138.1h0M1351.4 1148.7h0M1353.3 1082.4h0M1402.5 1171.6h0M1365.6 1111.9h0M1377.8 1079.8h0M1372.2 1083.9h0M1373.4 1101.7h0M1329.4 1170.9h0M1333.2 1072.7h0M1323.1 1108.8h0M1373.4 1175.2h0M1349.8 1057.9h0M1347.2 1164.5h0M1369.3 1099.2h0M1328.3 1071.3h0M1338.1 1127.0h0M1439.9 1155.0h0M1396.4 1177.8h0M1318.7 1135.4h0M1390.3 1141.5h0M1405.7 1085.7h0M1410.1 1163.6h0M1353.2 1087.2h0M1386.5 1132.8h0M1380.6 1102.5h0M1319.1 1091.8h0M1318.8 1084.8h0M1346.5 1158.3h0M1413.2 1145.5h0M1316.0 1157.6h0M1362.5 1118.1h0M1377.5 1131.7h0M1380.8 1165.0h0M1437.0 1081.9h0M1374.2 1168.3h0M1377.6 1114.3h0M1408.7 1132.0h0M1441.6 1071.3h0M1434.1 1160.1h0M1320.5 1087.8h0M1370.7 1141.2h0M1413.9 1121.4h0M1382.4 1056.3h0M1328.8 1164.2h0M1393.3 1054.4h0M1361.0 1162.5h0M1416.5 1066.1h0M1328.8 1060.5h0M1320.9 1175.1h0M1323.2 1152.7h0M1428.6 1097.6h0M1409.2 1177.6h0M1335.8 1138.3h0M1402.9 1106.8h0M1373.1 1147.6h0M1360.9 1129.6h0M1405.6 1114.4h0M1383.7 1127.1h0M1362.3 1125.1h0M1373.6 1077.0h0M1416.0 1170.0h0M1339.8 1132.4h0M1385.6 1121.3h0M1358.5 1072.1h0M1427.0 1068.3h0M1400.2 1075.2h0M1335.0 1110.9h0M1328.8 1052.6h0M1331.7 1136.7h0M1322.1 1116.3h0M1399.8 1067.4h0M1381.9 1126.8h0M1334.3 1148.0h0M1406.5 1154.5h0M1355.7 1062.0h0M1352.6 1122.6h0M1319.8 1059.3h0M1331.3 1060.5h0M1436.0 1092.5h0M1320.1 1135.3h0M1328.3 1113.1h0M1419.4 1151.2h0M1386.3 1131.2h0M1351.4 1092.6h0M1360.9 1106.9h0M1354.4 1071.8h0M1441.6 1052.5h0M1336.8 1132.1h0M1373.0 1070.8h0M1352.8 1109.3h0M1406.8 1053.2h0M1384.7 1144.6h0M1316.4 1146.0h0M1353.6 1111.9h0M1393.0 1130.9h0M1368.5 1085.3h0M1353.3 1131.9h0M1437.5 1149.6h0M1397.2 1173.5h0M1352.1 1054.3h0M1346.4 1146.5h0M1353.4 1152.8h0M1389.4 1098.4h0M1405.1 1090.5h0M1365.4 1133.7h0M1405.5 1066.3h0M1441.5 1067.7h0M1425.8 1129.0h0M1357.3 1131.2h0M1408.2 1148.1h0M1352.5 1116.2h0M1363.7 1066.1h0M1398.0 1117.6h0M1393.9 1069.8h0M1404.6 1123.4h0M1361.6 1055.3h0M1325.7 1100.5h0M1351.4 1126.4h0M1338.6 1154.1h0M1347.6 1157.2h0M1383.9 1051.7h0M1319.3 1142.1h0M1320.6 1147.5h0M1347.3 1059.4h0M1328.9 1052.9h0M1408.7 1087.4h0M1342.2 1066.6h0M1328.2 1118.2h0M1383.9 1135.2h0M1427.8 1089.1h0M1361.0 1100.9h0M1340.2 1085.1h0M1422.7 1088.3h0M1401.1 1106.1h0M1400.4 1125.4h0M1366.3 1163.6h0M1371.2 1124.4h0M1441.9 1068.4h0M1333.6 1134.6h0M1360.3 1089.2h0M1357.6 1177.8h0M1374.9 1087.7h0M1332.2 1162.6h0M1339.4 1149.3h0M1377.9 1054.5h0M1369.6 1103.3h0M1343.8 1178.4h0M1380.0 1146.9h0M1428.9 1075.6h0M1442.4 1156.3h0M1427.2 1067.5h0M1424.9 1100.5h0M1414.3 1109.5h0M1386.0 1153.3h0M1423.1 1160.2h0M1365.5 1177.1h0M1412.7 1123.4h0M1352.1 1141.0h0M1363.5 1097.7h0M1323.1 1119.1h0M1405.0 1057.8h0M1438.1 1112.9h0M1367.9 1095.3h0M1397.4 1120.6h0M1419.5 1125.9h0M1344.3 1079.7h0M1331.4 1094.3h0M1363.0 1054.0h0M1362.2 1145.9h0M1401.1 1147.7h0M1319.5 1175.6h0M1337.4 1074.2h0M1320.0 1127.2h0M1429.0 1170.8h0M1361.3 1113.1h0M1420.7 1081.2h0M1387.8 1054.8h0M1385.7 1102.4h0M1339.1 1111.0h0M1369.6 1093.2h0M1439.4 1151.8h0M1347.6 1068.7h0M1420.2 1108.8h0M1420.5 1172.0h0M1412.4 1066.3h0M1395.1 1081.2h0M1338.0 1100.8h0M1428.3 1122.9h0M1396.4 1091.1h0M1344.4 1069.5h0M1439.2 1060.6h0M1440.1 1140.7h0M1358.1 1154.7h0M1433.6 1095.3h0M1359.9 1089.9h0M1439.3 1073.9h0M1337.1 1098.3h0M1432.2 1124.0h0M1441.6 1143.9h0M1383.4 1172.8h0M1435.7 1084.7h0M1397.8 1054.1h0M1354.8 1072.4h0M1424.8 1131.4h0M1390.0 1144.8h0M1359.9 1092.3h0M1318.1 1098.0h0M1326.7 1112.3h0M1385.9 1147.2h0M1354.0 1061.1h0M1384.6 1175.2h0M1350.6 1137.0h0" stroke="#dfdaf0" stroke-width="2.9" stroke-linecap="round" fill="none"/>
<path d="M1380.5 1095.5h0M1429.8 1061.4h0M1382.3 1131.0h0M1352.1 1132.3h0M1405.6 1062.0h0M1328.7 1120.3h0M1419.0 1168.1h0M1440.9 1106.9h0M1357.1 1077.2h0M1433.4 1124.0h0M1394.1 1129.7h0M1380.6 1058.3h0M1316.8 1133.2h0M1439.6 1085.1h0M1405.5 1077.9h0M1347.3 1168.5h0M1408.6 1106.6h0M1403.5 1068.7h0M1387.2 1162.9h0M1441.8 1127.5h0M1402.2 1112.5h0M1406.1 1146.1h0M1374.9 1060.2h0M1393.0 1090.9h0M1435.6 1133.9h0M1425.6 1072.9h0M1436.1 1083.8h0M1350.8 1108.6h0M1378.8 1148.6h0M1353.3 1128.9h0M1425.6 1174.0h0M1381.4 1176.0h0M1409.0 1107.5h0M1384.1 1161.8h0M1438.0 1092.9h0M1399.9 1134.3h0M1377.0 1144.2h0M1427.8 1056.7h0M1354.8 1095.2h0M1396.9 1122.2h0M1357.7 1059.5h0M1420.9 1169.2h0M1417.6 1107.5h0M1334.1 1112.5h0M1384.3 1137.8h0M1407.8 1104.0h0M1319.2 1059.9h0M1400.8 1178.7h0M1439.9 1153.9h0M1403.5 1098.7h0M1414.0 1157.0h0M1416.0 1165.4h0M1360.8 1158.4h0M1362.1 1122.5h0M1428.1 1135.4h0M1351.2 1164.5h0M1374.9 1161.1h0M1438.0 1059.0h0M1362.0 1172.0h0M1351.2 1120.5h0M1373.9 1091.1h0M1370.4 1055.4h0M1340.0 1122.3h0M1367.3 1146.3h0M1319.9 1098.7h0M1411.9 1177.2h0M1420.9 1176.3h0M1323.8 1168.0h0M1389.3 1087.2h0M1389.7 1061.5h0M1342.7 1149.0h0M1356.9 1124.6h0M1397.1 1059.3h0M1323.4 1116.7h0M1356.0 1154.8h0M1416.9 1128.1h0M1392.0 1174.6h0M1368.3 1074.8h0M1424.2 1135.6h0M1325.1 1122.4h0M1385.2 1099.2h0M1361.2 1098.4h0M1398.6 1126.9h0M1366.2 1114.6h0M1383.1 1159.8h0M1380.9 1093.4h0M1385.7 1063.1h0M1419.7 1061.3h0M1385.3 1055.6h0M1320.6 1064.4h0M1374.6 1147.8h0M1375.4 1147.9h0M1364.8 1165.4h0M1385.4 1099.7h0M1329.9 1124.5h0M1325.2 1070.6h0M1321.5 1159.7h0M1411.2 1142.7h0M1428.1 1178.1h0M1318.4 1099.7h0M1355.4 1098.2h0M1319.1 1133.5h0M1364.6 1066.9h0M1332.0 1137.0h0M1336.5 1107.7h0M1435.0 1093.7h0M1355.9 1054.8h0M1390.3 1065.0h0M1409.2 1073.3h0M1326.3 1122.5h0M1431.6 1147.6h0M1411.0 1054.8h0M1363.4 1064.8h0M1319.7 1137.9h0M1431.3 1157.0h0M1350.0 1079.9h0M1363.8 1156.9h0M1337.8 1067.3h0M1433.7 1069.5h0M1348.6 1091.6h0M1431.1 1140.5h0M1427.6 1131.9h0M1320.9 1096.1h0M1378.3 1053.8h0M1376.4 1099.7h0M1345.4 1126.4h0M1404.0 1112.6h0M1323.6 1117.5h0M1357.6 1054.2h0M1320.5 1159.7h0" stroke="#d6c4c8" stroke-width="1.3" stroke-linecap="round" fill="none"/>
<ellipse cx="1348.7" cy="1174.9" rx="4" ry="2" fill="#fff" opacity="0.9" transform="rotate(0 1348.7 1174.9)"/>
</g><g filter="url(#bl2)">
<ellipse cx="1414.2" cy="1073.3" rx="4.6" ry="3.4" fill="#cfae98" opacity="0.42" transform="rotate(29 1414.2 1073.3)"/>
<ellipse cx="1414.0" cy="1073.2" rx="2.8" ry="2.0" fill="#9e6b49" opacity="0.54" transform="rotate(29 1414.2 1073.3)"/>
<ellipse cx="1427.3" cy="1066.7" rx="3.4" ry="2.5" fill="#cfae98" opacity="0.21" transform="rotate(117 1427.3 1066.7)"/>
<ellipse cx="1339.5" cy="1087.2" rx="2.9" ry="2.1" fill="#cfae98" opacity="0.35" transform="rotate(54 1339.5 1087.2)"/>
<ellipse cx="1339.1" cy="1087.3" rx="1.8" ry="1.2" fill="#9e6b49" opacity="0.45" transform="rotate(54 1339.5 1087.2)"/>
<ellipse cx="1362.3" cy="1094.8" rx="2.3" ry="1.7" fill="#cfae98" opacity="0.42" transform="rotate(177 1362.3 1094.8)"/>
<ellipse cx="1361.8" cy="1095.0" rx="1.4" ry="1.0" fill="#9e6b49" opacity="0.54" transform="rotate(177 1362.3 1094.8)"/>
<ellipse cx="1372.2" cy="1091.7" rx="3.4" ry="2.5" fill="#cfae98" opacity="0.39" transform="rotate(52 1372.2 1091.7)"/>
<ellipse cx="1371.9" cy="1091.3" rx="2.1" ry="1.5" fill="#9e6b49" opacity="0.50" transform="rotate(52 1372.2 1091.7)"/>
<ellipse cx="1386.7" cy="1100.9" rx="4.0" ry="3.0" fill="#cfae98" opacity="0.59" transform="rotate(10 1386.7 1100.9)"/>
<ellipse cx="1386.8" cy="1101.1" rx="2.4" ry="1.8" fill="#9e6b49" opacity="0.77" transform="rotate(10 1386.7 1100.9)"/>
<ellipse cx="1395.9" cy="1091.7" rx="3.4" ry="2.5" fill="#cfae98" opacity="0.39" transform="rotate(97 1395.9 1091.7)"/>
<ellipse cx="1395.8" cy="1091.6" rx="2.1" ry="1.5" fill="#9e6b49" opacity="0.50" transform="rotate(97 1395.9 1091.7)"/>
<ellipse cx="1369.6" cy="1132.3" rx="3.4" ry="2.5" fill="#cfae98" opacity="0.42" transform="rotate(90 1369.6 1132.3)"/>
<ellipse cx="1369.2" cy="1132.1" rx="2.1" ry="1.5" fill="#9e6b49" opacity="0.54" transform="rotate(90 1369.6 1132.3)"/>
<ellipse cx="1325.0" cy="1165.1" rx="3.4" ry="2.5" fill="#cfae98" opacity="0.59" transform="rotate(138 1325.0 1165.1)"/>
<ellipse cx="1324.5" cy="1164.7" rx="2.1" ry="1.5" fill="#9e6b49" opacity="0.77" transform="rotate(138 1325.0 1165.1)"/>
<ellipse cx="1376.2" cy="1158.5" rx="2.3" ry="1.7" fill="#cfae98" opacity="0.35" transform="rotate(14 1376.2 1158.5)"/>
<ellipse cx="1375.9" cy="1158.7" rx="1.4" ry="1.0" fill="#9e6b49" opacity="0.45" transform="rotate(14 1376.2 1158.5)"/>
<ellipse cx="1434.7" cy="1144.1" rx="2.9" ry="2.1" fill="#cfae98" opacity="0.35" transform="rotate(10 1434.7 1144.1)"/>
<ellipse cx="1434.3" cy="1144.6" rx="1.8" ry="1.2" fill="#9e6b49" opacity="0.45" transform="rotate(10 1434.7 1144.1)"/>
<ellipse cx="1334.2" cy="1140.2" rx="1.7" ry="1.3" fill="#cfae98" opacity="0.35" transform="rotate(39 1334.2 1140.2)"/>
<ellipse cx="1334.7" cy="1140.0" rx="1.0" ry="0.8" fill="#9e6b49" opacity="0.45" transform="rotate(39 1334.2 1140.2)"/>
</g></g>
<rect x="1313.7" y="1049.9" width="130.2" height="130.2" fill="none" stroke="#000" stroke-width="2"/>
<line x1="1436.9" y1="1176.8" x2="1440.4" y2="1176.8" stroke="#444" stroke-width="0.7"/>
<rect x="1463.8" y="1049.9" width="130.2" height="130.2" fill="#f7f1f3"/>
<g clip-path="url(#cp14)"><g filter="url(#bl)">
<path d="M1495.6 1063.4h0M1550.0 1082.1h0M1544.7 1070.6h0M1590.3 1137.3h0M1502.5 1059.0h0M1572.0 1165.8h0M1508.0 1064.5h0M1589.9 1165.4h0M1524.0 1065.0h0M1561.0 1175.2h0M1503.4 1098.2h0M1576.0 1146.9h0M1582.2 1130.5h0M1494.4 1172.6h0M1568.5 1161.6h0M1507.6 1089.7h0M1589.5 1169.3h0M1477.5 1061.1h0M1481.9 1135.6h0M1496.9 1072.3h0M1531.3 1174.2h0M1526.2 1061.4h0M1482.7 1089.2h0M1507.5 1077.7h0M1475.3 1094.4h0M1492.8 1077.3h0M1475.7 1123.4h0M1561.7 1096.0h0M1478.8 1105.1h0M1474.4 1068.1h0M1498.3 1166.5h0M1472.0 1113.2h0M1466.6 1096.4h0M1590.3 1158.6h0M1524.9 1084.7h0M1498.5 1120.4h0M1521.0 1084.7h0M1469.2 1150.9h0M1592.7 1174.0h0M1529.7 1102.2h0M1479.7 1177.5h0M1520.8 1059.8h0M1588.9 1134.3h0M1559.9 1119.6h0M1492.2 1153.5h0M1560.2 1116.3h0M1585.2 1073.8h0M1587.6 1125.2h0M1479.0 1158.0h0M1575.1 1155.9h0M1521.1 1128.3h0M1542.3 1142.6h0M1518.0 1066.3h0M1507.9 1096.4h0M1470.4 1073.4h0M1550.5 1117.1h0M1488.9 1159.4h0M1470.9 1051.0h0M1548.8 1165.4h0M1574.6 1132.8h0M1522.6 1083.8h0M1584.8 1135.2h0M1490.3 1163.5h0M1560.3 1175.0h0M1513.3 1107.0h0M1538.6 1088.9h0M1502.9 1169.8h0M1570.3 1164.4h0M1561.2 1134.4h0M1470.0 1155.8h0M1490.3 1131.7h0M1547.8 1076.6h0M1556.2 1061.1h0M1478.6 1148.4h0M1506.2 1115.2h0M1546.2 1119.7h0M1574.1 1154.8h0M1497.9 1063.4h0M1526.1 1170.1h0M1495.5 1151.7h0M1523.0 1172.9h0M1471.8 1076.6h0M1563.7 1176.0h0M1586.4 1161.1h0M1501.5 1119.5h0M1465.3 1110.2h0M1528.0 1063.0h0M1488.5 1162.8h0M1533.1 1136.6h0M1573.5 1171.0h0M1586.6 1081.3h0M1543.1 1060.9h0M1495.6 1099.4h0M1470.4 1066.9h0M1546.5 1155.1h0M1513.2 1071.4h0M1548.0 1070.0h0M1577.5 1053.9h0M1493.6 1167.8h0M1555.7 1091.1h0M1473.8 1133.5h0M1524.2 1057.8h0M1583.0 1064.0h0M1562.0 1112.7h0M1549.4 1063.6h0M1575.3 1176.7h0M1465.7 1096.8h0M1546.2 1122.0h0M1576.7 1119.1h0M1508.7 1178.4h0M1503.8 1130.7h0M1506.3 1053.3h0M1537.3 1105.3h0M1467.2 1157.1h0M1550.5 1149.1h0M1528.7 1129.9h0M1496.7 1113.8h0M1542.8 1114.8h0M1528.7 1102.4h0M1488.1 1076.3h0" stroke="#fdfbfd" stroke-width="3.0" stroke-linecap="round" fill="none"/>
<path d="M1499.9 1175.7h0M1486.2 1093.3h0M1474.2 1093.9h0M1553.5 1084.8h0M1588.9 1100.8h0M1480.8 1161.3h0M1505.1 1109.8h0M1571.8 1091.7h0M1567.5 1059.2h0M1523.8 1080.0h0M1582.1 1094.8h0M1565.6 1142.7h0M1482.9 1165.8h0M1557.7 1096.0h0M1471.4 1171.6h0M1532.3 1055.8h0M1511.5 1078.2h0M1495.1 1136.2h0M1541.2 1124.8h0M1575.5 1071.6h0M1557.8 1114.3h0M1520.4 1159.7h0M1553.9 1102.1h0M1472.9 1154.5h0M1560.5 1157.7h0M1582.0 1167.1h0M1522.1 1123.7h0M1547.6 1130.0h0M1562.0 1063.3h0M1533.2 1105.0h0M1514.7 1092.0h0M1491.4 1168.9h0M1538.7 1177.7h0M1518.2 1138.8h0M1544.0 1126.9h0M1532.1 1051.5h0M1504.6 1155.9h0M1569.3 1064.0h0M1480.0 1117.2h0M1575.3 1074.4h0M1496.6 1154.0h0M1549.0 1055.8h0M1495.8 1062.5h0M1550.6 1063.4h0M1535.2 1067.1h0M1490.8 1068.9h0M1542.5 1130.0h0M1472.9 1109.8h0M1511.1 1114.9h0M1490.1 1102.2h0M1580.3 1145.6h0M1552.8 1087.7h0M1539.8 1057.3h0M1568.1 1085.3h0M1497.7 1067.8h0M1528.2 1171.9h0M1468.6 1124.5h0M1546.6 1082.0h0M1535.8 1054.6h0M1493.7 1147.7h0M1520.6 1177.8h0M1559.9 1069.7h0M1479.0 1067.7h0M1577.0 1087.8h0M1467.9 1174.3h0M1581.6 1130.9h0M1553.3 1064.4h0M1500.4 1069.5h0M1468.6 1075.4h0M1507.8 1135.7h0M1552.9 1116.5h0M1498.8 1089.9h0M1503.7 1090.2h0M1522.5 1102.3h0M1532.9 1149.9h0M1480.6 1064.5h0M1492.1 1119.0h0M1485.9 1156.6h0M1559.6 1175.6h0M1538.2 1106.1h0M1579.0 1172.6h0M1487.9 1093.4h0M1465.3 1075.6h0M1564.4 1110.8h0M1548.3 1120.5h0M1510.6 1132.8h0M1541.5 1058.7h0M1580.9 1080.4h0M1592.2 1133.5h0M1501.9 1096.3h0M1516.9 1174.1h0M1525.6 1093.1h0M1480.5 1152.1h0M1467.4 1062.5h0M1497.3 1099.4h0M1556.1 1123.8h0M1504.4 1169.2h0M1553.3 1083.6h0M1568.6 1159.9h0M1546.3 1153.1h0M1528.5 1084.3h0M1564.0 1159.7h0M1467.6 1100.1h0M1535.5 1160.7h0M1582.7 1115.3h0M1500.2 1127.0h0M1506.9 1156.4h0M1480.7 1109.8h0M1513.4 1101.1h0M1590.5 1160.2h0M1537.0 1136.4h0M1542.7 1173.0h0M1487.6 1172.9h0M1505.1 1152.9h0M1583.3 1082.3h0M1539.1 1083.8h0M1476.0 1133.8h0M1566.3 1111.2h0M1570.1 1091.8h0M1484.9 1131.2h0M1479.1 1073.0h0M1473.0 1178.6h0M1540.3 1101.5h0M1588.8 1132.8h0M1501.1 1061.8h0M1490.9 1092.7h0M1496.4 1170.5h0M1497.6 1151.0h0M1523.2 1116.2h0M1490.3 1085.1h0M1472.9 1158.9h0M1557.5 1119.0h0M1588.3 1072.2h0M1560.4 1176.6h0M1549.3 1083.3h0M1479.0 1169.2h0M1475.2 1147.6h0M1465.1 1152.4h0M1572.9 1149.0h0M1586.1 1126.0h0M1541.4 1131.5h0M1508.6 1154.6h0M1502.0 1097.2h0M1474.3 1132.6h0M1543.1 1084.7h0M1538.5 1110.3h0M1515.8 1176.8h0M1524.5 1093.9h0M1546.6 1122.8h0M1484.0 1078.6h0M1557.6 1078.4h0M1493.8 1171.8h0M1490.8 1113.4h0M1534.4 1068.2h0M1495.3 1112.2h0M1536.2 1133.7h0M1493.3 1070.8h0M1512.6 1150.4h0M1574.3 1096.1h0M1555.0 1072.7h0M1527.8 1105.4h0M1507.5 1117.2h0M1555.8 1101.3h0M1569.0 1135.7h0M1520.6 1100.2h0M1503.3 1119.5h0M1566.1 1063.6h0M1509.5 1116.1h0M1472.8 1142.5h0M1505.5 1131.5h0M1482.8 1120.8h0M1485.2 1128.6h0M1493.7 1108.4h0M1579.9 1171.0h0M1477.1 1099.1h0M1573.5 1166.8h0M1516.1 1113.9h0M1495.0 1056.1h0M1514.6 1148.1h0M1549.0 1162.8h0M1509.0 1178.0h0M1526.5 1088.5h0M1582.1 1123.9h0M1481.2 1131.5h0M1556.8 1078.1h0M1477.0 1058.5h0M1546.5 1058.4h0M1561.3 1159.1h0M1478.0 1093.1h0M1470.4 1124.7h0M1547.6 1060.4h0M1565.2 1157.7h0M1502.4 1118.3h0M1468.9 1079.4h0M1509.4 1115.2h0M1585.0 1163.8h0M1516.3 1171.0h0M1468.8 1087.2h0M1521.6 1178.1h0M1582.4 1144.1h0M1552.2 1087.0h0M1519.5 1161.3h0M1583.6 1053.4h0M1488.2 1071.0h0M1567.1 1104.2h0M1532.5 1167.6h0M1501.9 1068.7h0M1521.0 1104.8h0M1523.9 1082.5h0M1466.4 1063.0h0M1466.4 1059.5h0M1509.7 1149.9h0M1524.8 1057.6h0M1548.8 1125.7h0M1575.5 1067.5h0M1471.9 1143.9h0M1575.8 1108.0h0M1576.4 1137.4h0M1554.1 1149.6h0M1503.3 1093.2h0M1578.1 1166.4h0M1569.5 1171.7h0M1516.5 1167.4h0M1568.4 1088.1h0M1570.9 1171.5h0M1486.1 1088.8h0M1535.0 1154.2h0M1522.7 1132.0h0M1528.9 1135.1h0M1535.4 1130.5h0M1507.7 1167.3h0M1557.7 1141.0h0M1505.0 1108.3h0M1555.9 1123.4h0M1570.8 1139.6h0M1500.9 1135.2h0M1490.3 1089.0h0M1478.3 1058.2h0M1574.4 1157.1h0M1563.7 1097.1h0M1535.2 1065.9h0M1570.6 1147.8h0M1529.7 1068.4h0M1520.9 1051.4h0M1540.9 1098.4h0M1511.0 1062.8h0M1538.4 1113.5h0M1485.1 1052.6h0M1544.8 1128.4h0M1512.8 1178.3h0M1501.4 1137.9h0M1583.2 1144.3h0M1516.4 1157.5h0M1483.6 1175.6h0M1506.8 1069.7h0M1520.2 1127.4h0M1488.6 1125.3h0M1590.0 1158.9h0M1484.2 1130.2h0M1469.9 1056.5h0M1486.0 1159.3h0M1496.1 1076.7h0M1585.1 1156.0h0M1527.5 1126.2h0M1502.0 1153.2h0M1545.3 1102.5h0M1539.8 1131.3h0M1481.8 1164.9h0M1538.0 1145.9h0M1583.0 1084.1h0M1490.3 1162.1h0M1518.6 1132.0h0M1573.7 1157.6h0M1528.2 1121.9h0M1531.9 1061.2h0M1586.5 1163.1h0M1502.9 1070.3h0M1472.7 1122.6h0M1590.7 1102.5h0M1525.6 1084.9h0" stroke="#eedfe2" stroke-width="2.2" stroke-linecap="round" fill="none"/>
<path d="M1572.8 1099.2h0M1518.0 1063.1h0M1489.1 1080.5h0M1550.4 1064.1h0M1588.8 1168.5h0M1550.3 1173.7h0M1526.3 1112.6h0M1490.8 1058.8h0M1513.3 1097.0h0M1558.6 1146.9h0M1494.3 1111.5h0M1582.6 1178.5h0M1532.9 1163.5h0M1529.9 1143.0h0M1504.7 1118.1h0M1544.9 1069.3h0M1500.2 1091.5h0M1506.4 1163.3h0M1581.1 1108.8h0M1573.0 1161.3h0M1545.3 1161.2h0M1473.1 1165.5h0M1530.5 1168.5h0M1529.3 1147.5h0M1474.4 1138.8h0M1497.0 1131.5h0M1510.1 1078.4h0M1494.9 1168.7h0M1490.0 1139.4h0M1549.5 1106.1h0M1500.8 1132.8h0M1515.7 1067.5h0M1558.3 1065.9h0M1492.1 1167.3h0M1555.1 1149.1h0M1493.2 1122.9h0M1534.2 1157.7h0M1503.1 1167.1h0M1468.6 1162.3h0M1576.0 1107.5h0M1526.0 1160.9h0M1539.3 1054.8h0M1487.3 1174.5h0M1511.7 1163.9h0M1523.7 1142.8h0M1498.1 1126.1h0M1547.0 1106.4h0M1472.2 1122.5h0M1502.2 1130.1h0M1467.7 1122.1h0M1565.2 1072.7h0M1570.3 1069.4h0M1557.1 1108.5h0M1502.2 1166.6h0M1505.2 1153.0h0M1564.6 1161.9h0M1552.1 1158.5h0M1573.5 1135.2h0M1528.8 1064.7h0M1583.0 1174.7h0M1492.1 1072.8h0M1506.8 1123.2h0M1514.5 1119.6h0M1515.0 1090.2h0M1497.6 1175.7h0M1560.7 1176.8h0M1504.5 1101.8h0M1482.1 1119.7h0M1552.9 1156.3h0M1590.8 1156.7h0M1482.2 1051.4h0M1492.2 1081.1h0M1554.1 1078.9h0M1563.6 1091.6h0M1502.4 1104.4h0M1530.5 1061.5h0M1573.4 1092.1h0M1523.7 1115.2h0M1579.7 1129.4h0M1487.1 1143.9h0M1565.5 1086.7h0M1530.4 1128.0h0M1538.5 1172.2h0M1495.2 1073.8h0M1566.2 1128.8h0M1560.2 1057.8h0M1493.9 1126.2h0M1539.8 1083.3h0M1495.9 1063.0h0M1585.2 1095.2h0M1539.9 1061.0h0M1515.0 1131.5h0M1507.6 1099.7h0M1520.2 1130.4h0M1486.7 1129.1h0M1483.4 1095.9h0M1565.0 1124.8h0M1536.9 1148.9h0M1568.8 1072.6h0M1520.1 1060.8h0M1570.8 1151.1h0M1568.5 1090.4h0M1531.2 1065.4h0M1474.0 1100.6h0M1589.1 1051.9h0M1533.6 1124.2h0M1574.1 1086.6h0M1510.4 1080.8h0M1564.7 1073.6h0M1486.6 1072.6h0M1480.7 1171.4h0M1494.9 1053.9h0M1539.2 1093.4h0M1533.8 1123.4h0M1559.2 1097.4h0M1567.2 1098.2h0M1553.2 1153.1h0M1579.1 1070.1h0M1575.4 1111.2h0M1476.5 1090.1h0M1532.0 1153.9h0M1560.8 1162.2h0M1484.6 1089.9h0M1581.2 1146.4h0M1519.0 1059.2h0M1564.9 1099.2h0M1479.9 1074.8h0M1587.8 1067.8h0M1505.2 1148.0h0M1491.0 1100.8h0M1555.9 1051.0h0M1508.6 1089.9h0M1509.3 1168.9h0M1560.8 1147.7h0M1543.7 1105.3h0M1548.9 1155.3h0M1574.5 1172.4h0M1510.8 1169.7h0M1513.1 1133.4h0M1530.5 1162.0h0M1550.9 1174.2h0M1488.4 1071.5h0M1503.3 1126.5h0M1535.9 1145.9h0M1494.4 1086.9h0M1494.6 1087.2h0M1540.2 1112.3h0M1466.2 1072.1h0M1547.6 1071.8h0M1477.1 1164.0h0M1554.7 1093.9h0M1502.8 1051.9h0M1570.4 1059.7h0M1571.5 1111.4h0M1589.7 1076.5h0M1472.8 1170.1h0M1528.3 1074.0h0M1532.2 1127.4h0M1556.8 1167.9h0M1501.3 1149.3h0M1533.8 1167.6h0M1471.0 1166.2h0M1549.4 1172.0h0M1571.8 1065.7h0M1546.6 1133.7h0M1581.8 1105.2h0M1529.2 1139.6h0M1465.7 1052.3h0M1547.1 1056.8h0M1495.8 1104.1h0M1520.3 1162.8h0M1471.1 1174.3h0M1591.2 1174.8h0M1504.8 1060.1h0M1524.6 1075.1h0M1559.3 1177.1h0M1572.9 1137.8h0M1544.9 1134.7h0M1565.6 1143.1h0M1512.4 1068.9h0M1548.1 1131.0h0M1491.2 1069.6h0M1563.8 1105.0h0M1508.0 1115.8h0M1573.0 1094.1h0M1553.3 1155.2h0M1567.9 1163.2h0M1520.3 1146.8h0M1494.5 1162.2h0M1552.4 1129.9h0M1517.3 1139.1h0M1580.5 1101.5h0M1587.8 1175.4h0M1530.4 1100.1h0M1511.7 1070.2h0M1532.6 1119.1h0M1590.2 1141.1h0M1475.5 1154.8h0M1486.3 1074.4h0M1481.9 1124.2h0M1538.3 1089.6h0M1545.6 1070.4h0M1576.9 1160.1h0M1555.9 1053.7h0M1522.1 1162.8h0M1586.7 1113.4h0M1589.4 1130.6h0M1550.6 1157.0h0M1586.6 1148.9h0M1526.4 1106.2h0M1496.5 1108.7h0M1513.9 1152.9h0M1589.8 1103.9h0M1537.0 1177.5h0M1511.0 1139.4h0M1532.8 1165.5h0M1510.0 1066.8h0M1544.5 1097.4h0M1503.8 1071.1h0M1550.6 1060.0h0M1510.1 1114.3h0M1520.2 1060.9h0M1489.3 1110.0h0M1512.3 1156.0h0M1517.7 1096.4h0M1475.3 1075.7h0M1498.0 1142.2h0M1592.0 1145.1h0M1557.0 1065.7h0M1534.7 1134.3h0M1476.0 1077.8h0M1560.8 1074.1h0M1585.1 1106.6h0M1502.3 1086.4h0M1545.0 1158.8h0M1531.2 1136.5h0M1558.0 1140.7h0M1520.0 1092.8h0M1479.9 1153.4h0M1533.3 1088.2h0M1529.7 1135.7h0M1569.4 1066.2h0M1564.6 1168.8h0M1505.7 1078.4h0M1518.3 1156.9h0M1550.6 1136.5h0M1522.2 1117.1h0M1519.8 1111.0h0M1529.5 1137.0h0M1507.8 1118.6h0M1552.9 1131.5h0M1468.9 1099.4h0M1565.2 1052.7h0M1499.8 1123.2h0M1566.9 1162.9h0M1505.9 1147.8h0M1553.2 1104.9h0M1475.7 1142.1h0M1577.9 1137.4h0M1513.7 1101.8h0M1506.1 1140.6h0M1513.3 1102.7h0M1488.5 1160.1h0M1528.0 1150.1h0M1525.8 1076.6h0M1577.0 1078.5h0M1521.8 1118.8h0M1588.8 1059.3h0M1569.7 1082.0h0M1589.6 1131.7h0" stroke="#e5dfef" stroke-width="2.9" stroke-linecap="round" fill="none"/>
<path d="M1469.6 1163.4h0M1524.2 1125.3h0M1502.0 1147.8h0M1527.6 1076.4h0M1587.7 1123.9h0M1569.1 1089.4h0M1588.0 1124.4h0M1555.9 1066.3h0M1475.7 1073.2h0M1552.6 1066.7h0M1551.5 1144.2h0M1567.4 1126.4h0M1579.8 1114.6h0M1499.0 1146.4h0M1557.8 1131.2h0M1545.1 1084.4h0M1513.0 1131.9h0M1475.3 1131.4h0M1515.5 1113.5h0M1498.6 1156.2h0M1473.9 1084.7h0M1569.5 1132.8h0M1475.3 1156.9h0M1521.4 1154.0h0M1588.2 1175.5h0M1496.0 1159.0h0M1552.7 1132.7h0M1492.1 1069.0h0M1488.2 1081.4h0M1583.5 1106.4h0M1472.3 1135.2h0M1487.6 1112.5h0M1482.9 1170.9h0M1550.0 1099.6h0M1565.6 1056.9h0M1530.0 1088.7h0M1559.2 1053.0h0M1564.8 1059.5h0M1490.1 1157.9h0M1473.1 1101.6h0M1586.4 1160.3h0M1488.6 1056.2h0M1493.7 1119.1h0M1478.8 1056.2h0M1554.9 1066.6h0M1508.5 1168.6h0M1550.6 1158.5h0M1484.8 1105.7h0M1516.0 1155.5h0M1473.4 1145.6h0M1475.6 1137.1h0M1535.2 1134.6h0M1490.2 1138.5h0M1486.9 1123.4h0M1590.9 1055.5h0M1493.0 1145.4h0M1538.5 1111.5h0M1490.9 1177.7h0M1569.0 1084.8h0M1592.4 1095.5h0M1583.7 1091.4h0M1520.4 1135.5h0M1579.7 1072.4h0M1508.7 1129.9h0M1499.4 1063.5h0M1549.8 1146.2h0M1545.3 1134.9h0M1571.3 1135.4h0M1548.0 1164.9h0M1510.5 1080.2h0M1489.8 1086.6h0M1519.8 1066.2h0M1475.0 1125.7h0M1569.2 1134.9h0M1586.0 1117.4h0M1542.9 1075.7h0M1466.2 1109.1h0M1489.5 1140.3h0M1513.8 1137.6h0M1566.6 1140.0h0M1538.9 1061.7h0M1483.0 1149.1h0M1502.2 1137.0h0M1551.0 1145.8h0M1528.0 1100.4h0M1477.2 1117.5h0M1497.1 1052.3h0M1581.7 1176.5h0M1542.6 1099.2h0M1478.2 1075.4h0M1543.3 1155.0h0M1588.7 1090.5h0M1561.4 1145.6h0M1501.9 1160.6h0M1466.7 1145.2h0M1466.9 1118.6h0M1549.2 1158.9h0M1486.1 1085.7h0M1488.8 1059.9h0M1484.3 1167.2h0M1547.7 1090.3h0M1586.6 1078.3h0M1545.1 1136.9h0M1529.4 1156.4h0M1539.2 1051.6h0M1495.5 1164.5h0M1567.8 1166.1h0M1551.9 1118.1h0M1588.1 1058.4h0M1472.0 1119.3h0M1580.6 1101.0h0M1558.0 1080.3h0M1478.4 1177.4h0M1489.6 1156.0h0M1509.2 1098.3h0M1542.9 1051.0h0M1570.0 1145.2h0M1531.2 1161.7h0M1486.0 1093.1h0M1578.4 1174.5h0M1553.6 1129.3h0M1572.0 1067.7h0M1546.6 1052.5h0M1498.5 1121.8h0M1487.6 1115.1h0M1553.5 1118.6h0M1487.1 1114.4h0M1564.0 1059.4h0M1575.3 1142.1h0M1502.6 1113.1h0" stroke="#d6c4c8" stroke-width="1.3" stroke-linecap="round" fill="none"/>
<ellipse cx="1473.3" cy="1144.1" rx="6" ry="5" fill="#fff" opacity="0.9" transform="rotate(0 1473.3 1144.1)"/>
</g><g filter="url(#bl2)">
<ellipse cx="1487.7" cy="1110.0" rx="4.0" ry="3.0" fill="#cfae98" opacity="0.39" transform="rotate(83 1487.7 1110.0)"/>
<ellipse cx="1488.2" cy="1109.9" rx="2.4" ry="1.8" fill="#9e6b49" opacity="0.50" transform="rotate(83 1487.7 1110.0)"/>
<ellipse cx="1529.7" cy="1116.6" rx="3.4" ry="2.5" fill="#cfae98" opacity="0.42" transform="rotate(153 1529.7 1116.6)"/>
<ellipse cx="1530.3" cy="1116.6" rx="2.1" ry="1.5" fill="#9e6b49" opacity="0.54" transform="rotate(153 1529.7 1116.6)"/>
<ellipse cx="1544.9" cy="1112.1" rx="4.0" ry="3.0" fill="#cfae98" opacity="0.42" transform="rotate(63 1544.9 1112.1)"/>
<ellipse cx="1545.2" cy="1112.2" rx="2.4" ry="1.8" fill="#9e6b49" opacity="0.54" transform="rotate(63 1544.9 1112.1)"/>
<ellipse cx="1563.8" cy="1119.7" rx="4.0" ry="3.0" fill="#cfae98" opacity="0.56" transform="rotate(24 1563.8 1119.7)"/>
<ellipse cx="1563.8" cy="1119.9" rx="2.4" ry="1.8" fill="#9e6b49" opacity="0.72" transform="rotate(24 1563.8 1119.7)"/>
<ellipse cx="1584.8" cy="1081.2" rx="3.4" ry="2.5" fill="#cfae98" opacity="0.21" transform="rotate(140 1584.8 1081.2)"/>
<ellipse cx="1576.8" cy="1086.4" rx="2.3" ry="1.7" fill="#cfae98" opacity="0.21" transform="rotate(37 1576.8 1086.4)"/>
</g></g>
<rect x="1463.8" y="1049.9" width="130.2" height="130.2" fill="none" stroke="#000" stroke-width="2"/>
<line x1="1587.0" y1="1176.8" x2="1590.5" y2="1176.8" stroke="#444" stroke-width="0.7"/>
<rect x="1550.6" y="1023.9" width="34.7" height="7.2" fill="#000"/>
<rect x="1550.6" y="1166.4" width="34.7" height="7.3" fill="#000"/>
</g>
<g id="panelF">
<text x="27.5" y="1337.9" font-size="23.5" font-weight="bold" xml:space="preserve">F</text>
<rect x="111.7" y="1660.2" width="32.4" height="27.1" fill="#d1d3d4"/>
<rect x="160.3" y="1489.4" width="32.4" height="197.9" fill="#b4dcea"/>
<rect x="208.9" y="1583.6" width="32.4" height="103.7" fill="#fda29f"/>
<rect x="257.5" y="1566.0" width="32.4" height="121.3" fill="#c6dbf7"/>
<rect x="306.1" y="1608.0" width="32.4" height="79.3" fill="#bfbffa"/>
<line x1="127.9" y1="1660.2" x2="127.9" y2="1655.5" stroke="#d1d3d4" stroke-width="1.2"/>
<line x1="120.3" y1="1655.5" x2="135.5" y2="1655.5" stroke="#d1d3d4" stroke-width="1.2"/>
<line x1="176.5" y1="1489.4" x2="176.5" y2="1454.6" stroke="#a9dcf2" stroke-width="1.2"/>
<line x1="168.9" y1="1454.6" x2="184.1" y2="1454.6" stroke="#a9dcf2" stroke-width="1.2"/>
<line x1="225.1" y1="1622.6" x2="225.1" y2="1544.3" stroke="#f23f3d" stroke-width="1.5"/>
<line x1="217.5" y1="1544.3" x2="232.7" y2="1544.3" stroke="#f23f3d" stroke-width="1.5"/>
<line x1="217.5" y1="1622.6" x2="232.7" y2="1622.6" stroke="#f23f3d" stroke-width="1.5"/>
<line x1="273.7" y1="1566.0" x2="273.7" y2="1540.2" stroke="#b3d2f7" stroke-width="1.2"/>
<line x1="266.1" y1="1540.2" x2="281.3" y2="1540.2" stroke="#b3d2f7" stroke-width="1.2"/>
<line x1="322.3" y1="1608.0" x2="322.3" y2="1583.3" stroke="#b9b8f8" stroke-width="1.2"/>
<line x1="314.7" y1="1583.3" x2="329.9" y2="1583.3" stroke="#b9b8f8" stroke-width="1.2"/>
<circle cx="114.8" cy="1655.8" r="3.0" fill="#5f5f5f"/>
<circle cx="123.5" cy="1652.8" r="3.0" fill="#5f5f5f"/>
<circle cx="123.5" cy="1659.6" r="3.0" fill="#5f5f5f"/>
<circle cx="114.8" cy="1665.1" r="3.0" fill="#5f5f5f"/>
<circle cx="132.6" cy="1665.1" r="3.0" fill="#5f5f5f"/>
<circle cx="141.4" cy="1664.6" r="3.0" fill="#5f5f5f"/>
<rect x="173.7" y="1446.5" width="5.6" height="5.6" fill="#8fa8d3"/>
<rect x="168.2" y="1465.2" width="5.6" height="5.6" fill="#8fa8d3"/>
<rect x="178.7" y="1465.8" width="5.6" height="5.6" fill="#8fa8d3"/>
<rect x="173.7" y="1486.6" width="5.6" height="5.6" fill="#8fa8d3"/>
<rect x="173.7" y="1519.6" width="5.6" height="5.6" fill="#8fa8d3"/>
<rect x="173.7" y="1535.5" width="5.6" height="5.6" fill="#8fa8d3"/>
<path d="M225.1 1531.8 L228.2 1537.4 L222.0 1537.4 Z" fill="#f23d3c"/>
<path d="M225.1 1548.6 L228.2 1554.2 L222.0 1554.2 Z" fill="#f23d3c"/>
<path d="M225.1 1571.3 L228.2 1576.9 L222.0 1576.9 Z" fill="#f23d3c"/>
<path d="M225.1 1584.0 L228.2 1589.6 L222.0 1589.6 Z" fill="#f23d3c"/>
<path d="M225.1 1616.1 L228.2 1621.7 L222.0 1621.7 Z" fill="#f23d3c"/>
<path d="M225.1 1635.0 L228.2 1640.6 L222.0 1640.6 Z" fill="#f23d3c"/>
<path d="M265.8 1544.4 L270.0 1536.8 L261.6 1536.8 Z" fill="#4c9df7"/>
<path d="M281.4 1538.9 L285.6 1531.3 L277.2 1531.3 Z" fill="#4c9df7"/>
<path d="M273.7 1560.6 L277.9 1553.0 L269.5 1553.0 Z" fill="#4c9df7"/>
<path d="M273.7 1582.9 L277.9 1575.3 L269.5 1575.3 Z" fill="#4c9df7"/>
<path d="M281.4 1592.5 L285.6 1584.9 L277.2 1584.9 Z" fill="#4c9df7"/>
<path d="M265.8 1599.3 L270.0 1591.7 L261.6 1591.7 Z" fill="#4c9df7"/>
<path d="M322.3 1576.6 L326.6 1580.9 L322.3 1585.2 L318.0 1580.9 Z" fill="#8d89f6"/>
<path d="M314.3 1586.2 L318.6 1590.5 L314.3 1594.8 L310.0 1590.5 Z" fill="#8d89f6"/>
<path d="M330.3 1594.1 L334.6 1598.4 L330.3 1602.7 L326.0 1598.4 Z" fill="#8d89f6"/>
<path d="M314.3 1596.3 L318.6 1600.6 L314.3 1604.9 L310.0 1600.6 Z" fill="#8d89f6"/>
<path d="M314.3 1634.2 L318.6 1638.5 L314.3 1642.8 L310.0 1638.5 Z" fill="#8d89f6"/>
<path d="M330.3 1633.4 L334.6 1637.7 L330.3 1642.0 L326.0 1637.7 Z" fill="#8d89f6"/>
<line x1="95.5" y1="1412.6" x2="95.5" y2="1688.8" stroke="#000" stroke-width="2.9"/>
<line x1="84.4" y1="1687.3" x2="356.0" y2="1687.3" stroke="#000" stroke-width="2.9"/>
<line x1="84.2" y1="1414.1" x2="95.5" y2="1414.1" stroke="#000" stroke-width="2.9"/>
<text transform="translate(76.3 1421.4) scale(1 1.04)" font-size="23.2" text-anchor="end">5</text>
<line x1="84.2" y1="1468.7" x2="95.5" y2="1468.7" stroke="#000" stroke-width="2.9"/>
<text transform="translate(76.3 1476.0) scale(1 1.04)" font-size="23.2" text-anchor="end">4</text>
<line x1="84.2" y1="1523.3" x2="95.5" y2="1523.3" stroke="#000" stroke-width="2.9"/>
<text transform="translate(76.3 1530.6) scale(1 1.04)" font-size="23.2" text-anchor="end">3</text>
<line x1="84.2" y1="1577.9" x2="95.5" y2="1577.9" stroke="#000" stroke-width="2.9"/>
<text transform="translate(76.3 1585.2) scale(1 1.04)" font-size="23.2" text-anchor="end">2</text>
<line x1="84.2" y1="1632.5" x2="95.5" y2="1632.5" stroke="#000" stroke-width="2.9"/>
<text transform="translate(76.3 1639.8) scale(1 1.04)" font-size="23.2" text-anchor="end">1</text>
<line x1="84.2" y1="1687.3" x2="95.5" y2="1687.3" stroke="#000" stroke-width="2.9"/>
<text transform="translate(76.3 1694.6) scale(1 1.04)" font-size="23.2" text-anchor="end">0</text>
<line x1="127.7" y1="1687.3" x2="127.7" y2="1699.1" stroke="#000" stroke-width="2.9"/>
<line x1="176.3" y1="1687.3" x2="176.3" y2="1699.1" stroke="#000" stroke-width="2.9"/>
<line x1="224.9" y1="1687.3" x2="224.9" y2="1699.1" stroke="#000" stroke-width="2.9"/>
<line x1="273.5" y1="1687.3" x2="273.5" y2="1699.1" stroke="#000" stroke-width="2.9"/>
<line x1="322.1" y1="1687.3" x2="322.1" y2="1699.1" stroke="#000" stroke-width="2.9"/>
<line x1="155.1" y1="1345.8" x2="326.1" y2="1345.8" stroke="#000" stroke-width="1.9"/>
<text x="261.1" y="1336.5" font-size="18" text-anchor="middle" fill="#222" xml:space="preserve">***</text>
<line x1="153.5" y1="1377.4" x2="282.0" y2="1377.4" stroke="#000" stroke-width="1.9"/>
<text x="221.8" y="1368.0" font-size="18" text-anchor="middle" fill="#222" xml:space="preserve">***</text>
<line x1="153.5" y1="1408.2" x2="230.6" y2="1408.2" stroke="#000" stroke-width="1.9"/>
<text x="197.9" y="1400.2" font-size="18" text-anchor="middle" fill="#222" xml:space="preserve">***</text>
<text x="45.3" y="1531.0" font-size="24" text-anchor="middle" transform="rotate(-90 45.3 1531.0)" xml:space="preserve">HBcAg positive hepatocytes/HPF</text>
<text x="97.1" y="1723.6" font-size="20.8" text-anchor="end" xml:space="preserve">HBV</text>
<text x="125.0" y="1722.8" font-size="21" text-anchor="middle" xml:space="preserve">-</text>
<text x="175.7" y="1725.2" font-size="23.5" text-anchor="middle" xml:space="preserve">+</text>
<text x="226.2" y="1725.2" font-size="23.5" text-anchor="middle" xml:space="preserve">+</text>
<text x="272.6" y="1725.2" font-size="23.5" text-anchor="middle" xml:space="preserve">+</text>
<text x="321.8" y="1725.2" font-size="23.5" text-anchor="middle" xml:space="preserve">+</text>
<text x="97.6" y="1757.7" font-size="20.8" text-anchor="end" xml:space="preserve">STE</text>
<text x="127.7" y="1756.9" font-size="21" text-anchor="middle" xml:space="preserve">-</text>
<text x="175.7" y="1756.9" font-size="21" text-anchor="middle" xml:space="preserve">-</text>
<text x="225.7" y="1756.9" font-size="21" text-anchor="middle" xml:space="preserve">-</text>
<text x="270.4" y="1757.7" font-size="20.5" text-anchor="middle" xml:space="preserve">0.2</text>
<text x="318.5" y="1757.7" font-size="20.5" text-anchor="middle" xml:space="preserve">0.4</text>
<text x="99.0" y="1788.7" font-size="20.8" text-anchor="end" xml:space="preserve">ETV</text>
<text x="127.7" y="1787.9" font-size="21" text-anchor="middle" xml:space="preserve">-</text>
<text x="170.8" y="1787.9" font-size="21" text-anchor="middle" xml:space="preserve">-</text>
<text x="223.7" y="1788.7" font-size="20.5" text-anchor="middle" xml:space="preserve">1</text>
<text x="271.2" y="1787.9" font-size="21" text-anchor="middle" xml:space="preserve">-</text>
<text x="320.1" y="1787.9" font-size="21" text-anchor="middle" xml:space="preserve">-</text>
</g>
<g id="panelG">
<text x="478.8" y="1334.3" font-size="23.5" font-weight="bold" xml:space="preserve">G</text>
<rect x="526.3" y="1510.8" width="32.4" height="172.5" fill="#d1d3d4"/>
<rect x="574.9" y="1439.2" width="32.4" height="244.1" fill="#b4dcea"/>
<rect x="623.5" y="1477.9" width="32.4" height="205.4" fill="#fda29f"/>
<rect x="672.1" y="1497.4" width="32.4" height="185.9" fill="#c6dbf7"/>
<rect x="720.7" y="1509.2" width="32.4" height="174.1" fill="#bfbffa"/>
<line x1="542.5" y1="1510.8" x2="542.5" y2="1499.6" stroke="#d1d3d4" stroke-width="1.2"/>
<line x1="534.9" y1="1499.6" x2="550.1" y2="1499.6" stroke="#d1d3d4" stroke-width="1.2"/>
<line x1="591.1" y1="1439.2" x2="591.1" y2="1424.9" stroke="#a9dcf2" stroke-width="1.2"/>
<line x1="583.5" y1="1424.9" x2="598.7" y2="1424.9" stroke="#a9dcf2" stroke-width="1.2"/>
<line x1="639.7" y1="1492.2" x2="639.7" y2="1463.3" stroke="#f23f3d" stroke-width="1.5"/>
<line x1="632.1" y1="1463.3" x2="647.3" y2="1463.3" stroke="#f23f3d" stroke-width="1.5"/>
<line x1="632.1" y1="1492.2" x2="647.3" y2="1492.2" stroke="#f23f3d" stroke-width="1.5"/>
<line x1="688.3" y1="1497.4" x2="688.3" y2="1484.5" stroke="#b3d2f7" stroke-width="1.2"/>
<line x1="680.7" y1="1484.5" x2="695.9" y2="1484.5" stroke="#b3d2f7" stroke-width="1.2"/>
<line x1="736.9" y1="1509.2" x2="736.9" y2="1497.1" stroke="#b9b8f8" stroke-width="1.2"/>
<line x1="729.3" y1="1497.1" x2="744.5" y2="1497.1" stroke="#b9b8f8" stroke-width="1.2"/>
<circle cx="547.7" cy="1498.2" r="3.0" fill="#5f5f5f"/>
<circle cx="537.3" cy="1503.2" r="3.0" fill="#5f5f5f"/>
<circle cx="547.7" cy="1505.9" r="3.0" fill="#5f5f5f"/>
<circle cx="537.3" cy="1511.9" r="3.0" fill="#5f5f5f"/>
<circle cx="542.5" cy="1517.4" r="3.0" fill="#5f5f5f"/>
<circle cx="542.5" cy="1528.4" r="3.0" fill="#5f5f5f"/>
<rect x="588.0" y="1418.3" width="5.6" height="5.6" fill="#8fa8d3"/>
<rect x="583.1" y="1425.1" width="5.6" height="5.6" fill="#8fa8d3"/>
<rect x="593.5" y="1427.3" width="5.6" height="5.6" fill="#8fa8d3"/>
<rect x="583.1" y="1446.0" width="5.6" height="5.6" fill="#8fa8d3"/>
<rect x="593.5" y="1446.5" width="5.6" height="5.6" fill="#8fa8d3"/>
<rect x="588.0" y="1454.8" width="5.6" height="5.6" fill="#8fa8d3"/>
<path d="M644.9 1458.8 L648.0 1464.4 L641.8 1464.4 Z" fill="#f23d3c"/>
<path d="M634.7 1462.9 L637.8 1468.5 L631.6 1468.5 Z" fill="#f23d3c"/>
<path d="M644.9 1466.5 L648.0 1472.1 L641.8 1472.1 Z" fill="#f23d3c"/>
<path d="M639.7 1479.4 L642.8 1485.0 L636.6 1485.0 Z" fill="#f23d3c"/>
<path d="M634.7 1492.3 L637.8 1497.9 L631.6 1497.9 Z" fill="#f23d3c"/>
<path d="M644.9 1489.5 L648.0 1495.1 L641.8 1495.1 Z" fill="#f23d3c"/>
<path d="M680.0 1488.7 L684.2 1481.1 L675.8 1481.1 Z" fill="#4c9df7"/>
<path d="M696.0 1485.9 L700.2 1478.3 L691.8 1478.3 Z" fill="#4c9df7"/>
<path d="M696.0 1496.4 L700.2 1488.8 L691.8 1488.8 Z" fill="#4c9df7"/>
<path d="M680.0 1501.9 L684.2 1494.3 L675.8 1494.3 Z" fill="#4c9df7"/>
<path d="M696.0 1513.7 L700.2 1506.1 L691.8 1506.1 Z" fill="#4c9df7"/>
<path d="M680.0 1518.3 L684.2 1510.7 L675.8 1510.7 Z" fill="#4c9df7"/>
<path d="M744.5 1490.1 L748.8 1494.4 L744.5 1498.7 L740.2 1494.4 Z" fill="#8d89f6"/>
<path d="M728.9 1494.2 L733.2 1498.5 L728.9 1502.8 L724.6 1498.5 Z" fill="#8d89f6"/>
<path d="M744.5 1501.6 L748.8 1505.9 L744.5 1510.2 L740.2 1505.9 Z" fill="#8d89f6"/>
<path d="M728.9 1509.8 L733.2 1514.1 L728.9 1518.4 L724.6 1514.1 Z" fill="#8d89f6"/>
<path d="M744.5 1514.0 L748.8 1518.3 L744.5 1522.6 L740.2 1518.3 Z" fill="#8d89f6"/>
<path d="M728.9 1521.4 L733.2 1525.7 L728.9 1530.0 L724.6 1525.7 Z" fill="#8d89f6"/>
<line x1="510.4" y1="1408.3" x2="510.4" y2="1684.8" stroke="#000" stroke-width="2.9"/>
<line x1="498.8" y1="1683.3" x2="770.6" y2="1683.3" stroke="#000" stroke-width="2.9"/>
<line x1="499.1" y1="1409.8" x2="510.4" y2="1409.8" stroke="#000" stroke-width="2.9"/>
<text transform="translate(491.2 1417.1) scale(1 1.04)" font-size="23.2" text-anchor="end">100</text>
<line x1="499.1" y1="1464.7" x2="510.4" y2="1464.7" stroke="#000" stroke-width="2.9"/>
<text transform="translate(491.2 1472.0) scale(1 1.04)" font-size="23.2" text-anchor="end">80</text>
<line x1="499.1" y1="1519.6" x2="510.4" y2="1519.6" stroke="#000" stroke-width="2.9"/>
<text transform="translate(491.2 1526.9) scale(1 1.04)" font-size="23.2" text-anchor="end">60</text>
<line x1="499.1" y1="1574.0" x2="510.4" y2="1574.0" stroke="#000" stroke-width="2.9"/>
<text transform="translate(491.2 1581.3) scale(1 1.04)" font-size="23.2" text-anchor="end">40</text>
<line x1="499.1" y1="1628.6" x2="510.4" y2="1628.6" stroke="#000" stroke-width="2.9"/>
<text transform="translate(491.2 1635.9) scale(1 1.04)" font-size="23.2" text-anchor="end">20</text>
<line x1="499.1" y1="1683.3" x2="510.4" y2="1683.3" stroke="#000" stroke-width="2.9"/>
<text transform="translate(491.2 1690.6) scale(1 1.04)" font-size="23.2" text-anchor="end">0</text>
<line x1="541.9" y1="1683.3" x2="541.9" y2="1695.1" stroke="#000" stroke-width="2.9"/>
<line x1="590.5" y1="1683.3" x2="590.5" y2="1695.1" stroke="#000" stroke-width="2.9"/>
<line x1="639.1" y1="1683.3" x2="639.1" y2="1695.1" stroke="#000" stroke-width="2.9"/>
<line x1="687.7" y1="1683.3" x2="687.7" y2="1695.1" stroke="#000" stroke-width="2.9"/>
<line x1="736.3" y1="1683.3" x2="736.3" y2="1695.1" stroke="#000" stroke-width="2.9"/>
<line x1="572.4" y1="1339.5" x2="743.7" y2="1339.5" stroke="#000" stroke-width="1.9"/>
<text x="679.2" y="1332.9" font-size="18" text-anchor="middle" fill="#222" xml:space="preserve">***</text>
<line x1="571.6" y1="1370.6" x2="691.6" y2="1370.6" stroke="#000" stroke-width="1.9"/>
<text x="639.7" y="1365.9" font-size="18" text-anchor="middle" fill="#222" xml:space="preserve">***</text>
<line x1="571.6" y1="1402.1" x2="648.7" y2="1402.1" stroke="#000" stroke-width="1.9"/>
<text x="615.5" y="1398.0" font-size="18" text-anchor="middle" fill="#222" xml:space="preserve">***</text>
<text x="454.9" y="1566.0" font-size="24" text-anchor="middle" transform="rotate(-90 454.9 1566.0)" xml:space="preserve">ALT in serum (IU/L)</text>
<text x="511.6" y="1720.0" font-size="20.8" text-anchor="end" xml:space="preserve">HBV</text>
<text x="540.0" y="1719.2" font-size="21" text-anchor="middle" xml:space="preserve">-</text>
<text x="589.4" y="1721.6" font-size="23.5" text-anchor="middle" xml:space="preserve">+</text>
<text x="641.0" y="1721.6" font-size="23.5" text-anchor="middle" xml:space="preserve">+</text>
<text x="687.2" y="1721.6" font-size="23.5" text-anchor="middle" xml:space="preserve">+</text>
<text x="736.3" y="1721.6" font-size="23.5" text-anchor="middle" xml:space="preserve">+</text>
<text x="512.7" y="1753.8" font-size="20.8" text-anchor="end" xml:space="preserve">STE</text>
<text x="541.9" y="1753.0" font-size="21" text-anchor="middle" xml:space="preserve">-</text>
<text x="590.0" y="1753.0" font-size="21" text-anchor="middle" xml:space="preserve">-</text>
<text x="640.2" y="1753.0" font-size="21" text-anchor="middle" xml:space="preserve">-</text>
<text x="685.0" y="1753.8" font-size="20.5" text-anchor="middle" xml:space="preserve">0.2</text>
<text x="733.0" y="1753.8" font-size="20.5" text-anchor="middle" xml:space="preserve">0.4</text>
<text x="514.1" y="1785.1" font-size="20.8" text-anchor="end" xml:space="preserve">ETV</text>
<text x="542.0" y="1784.3" font-size="21" text-anchor="middle" xml:space="preserve">-</text>
<text x="585.3" y="1784.3" font-size="21" text-anchor="middle" xml:space="preserve">-</text>
<text x="638.3" y="1785.1" font-size="20.5" text-anchor="middle" xml:space="preserve">1</text>
<text x="686.0" y="1784.3" font-size="21" text-anchor="middle" xml:space="preserve">-</text>
<text x="734.7" y="1784.3" font-size="21" text-anchor="middle" xml:space="preserve">-</text>
</g>
<g id="panelH">
<text x="883.8" y="1331.0" font-size="23.5" font-weight="bold" xml:space="preserve">H</text>
<rect x="984.8" y="1517.4" width="32.4" height="163.1" fill="#d1d3d4"/>
<rect x="1033.4" y="1434.0" width="32.4" height="246.5" fill="#b4dcea"/>
<rect x="1082.0" y="1492.2" width="32.4" height="188.3" fill="#fda29f"/>
<rect x="1130.6" y="1466.9" width="32.4" height="213.6" fill="#c6dbf7"/>
<rect x="1179.2" y="1505.4" width="32.4" height="175.1" fill="#bfbffa"/>
<line x1="1001.0" y1="1517.4" x2="1001.0" y2="1503.7" stroke="#d1d3d4" stroke-width="1.2"/>
<line x1="993.4" y1="1503.7" x2="1008.6" y2="1503.7" stroke="#d1d3d4" stroke-width="1.2"/>
<line x1="1049.6" y1="1434.0" x2="1049.6" y2="1424.1" stroke="#a9dcf2" stroke-width="1.2"/>
<line x1="1042.0" y1="1424.1" x2="1057.2" y2="1424.1" stroke="#a9dcf2" stroke-width="1.2"/>
<line x1="1098.2" y1="1504.5" x2="1098.2" y2="1479.8" stroke="#f23f3d" stroke-width="1.5"/>
<line x1="1090.6" y1="1479.8" x2="1105.8" y2="1479.8" stroke="#f23f3d" stroke-width="1.5"/>
<line x1="1090.6" y1="1504.5" x2="1105.8" y2="1504.5" stroke="#f23f3d" stroke-width="1.5"/>
<line x1="1146.8" y1="1466.9" x2="1146.8" y2="1460.6" stroke="#b3d2f7" stroke-width="1.2"/>
<line x1="1139.2" y1="1460.6" x2="1154.4" y2="1460.6" stroke="#b3d2f7" stroke-width="1.2"/>
<line x1="1195.4" y1="1505.4" x2="1195.4" y2="1494.9" stroke="#b9b8f8" stroke-width="1.2"/>
<line x1="1187.8" y1="1494.9" x2="1203.0" y2="1494.9" stroke="#b9b8f8" stroke-width="1.2"/>
<circle cx="1001.0" cy="1493.0" r="3.0" fill="#5f5f5f"/>
<circle cx="996.1" cy="1515.5" r="3.0" fill="#5f5f5f"/>
<circle cx="1006.5" cy="1515.5" r="3.0" fill="#5f5f5f"/>
<circle cx="996.1" cy="1520.5" r="3.0" fill="#5f5f5f"/>
<circle cx="996.1" cy="1529.2" r="3.0" fill="#5f5f5f"/>
<circle cx="1006.5" cy="1529.2" r="3.0" fill="#5f5f5f"/>
<rect x="1036.4" y="1420.7" width="5.6" height="5.6" fill="#8fa8d3"/>
<rect x="1057.2" y="1422.9" width="5.6" height="5.6" fill="#8fa8d3"/>
<rect x="1047.1" y="1425.4" width="5.6" height="5.6" fill="#8fa8d3"/>
<rect x="1047.1" y="1433.6" width="5.6" height="5.6" fill="#8fa8d3"/>
<rect x="1052.0" y="1441.3" width="5.6" height="5.6" fill="#8fa8d3"/>
<rect x="1041.6" y="1444.1" width="5.6" height="5.6" fill="#8fa8d3"/>
<path d="M1093.0 1477.4 L1096.1 1483.0 L1089.9 1483.0 Z" fill="#f23d3c"/>
<path d="M1103.4 1477.2 L1106.5 1482.8 L1100.3 1482.8 Z" fill="#f23d3c"/>
<path d="M1098.2 1486.2 L1101.3 1491.8 L1095.1 1491.8 Z" fill="#f23d3c"/>
<path d="M1093.0 1493.1 L1096.1 1498.7 L1089.9 1498.7 Z" fill="#f23d3c"/>
<path d="M1103.4 1493.1 L1106.5 1498.7 L1100.3 1498.7 Z" fill="#f23d3c"/>
<path d="M1098.2 1509.0 L1101.3 1514.6 L1095.1 1514.6 Z" fill="#f23d3c"/>
<path d="M1146.5 1459.3 L1150.7 1451.7 L1142.3 1451.7 Z" fill="#4c9df7"/>
<path d="M1134.1 1468.9 L1138.3 1461.3 L1129.9 1461.3 Z" fill="#4c9df7"/>
<path d="M1143.2 1469.5 L1147.4 1461.9 L1139.0 1461.9 Z" fill="#4c9df7"/>
<path d="M1134.7 1477.2 L1138.9 1469.6 L1130.5 1469.6 Z" fill="#4c9df7"/>
<path d="M1151.4 1476.6 L1155.6 1469.0 L1147.2 1469.0 Z" fill="#4c9df7"/>
<path d="M1159.4 1475.0 L1163.6 1467.4 L1155.2 1467.4 Z" fill="#4c9df7"/>
<path d="M1189.9 1487.9 L1194.2 1492.2 L1189.9 1496.5 L1185.6 1492.2 Z" fill="#8d89f6"/>
<path d="M1201.4 1487.9 L1205.7 1492.2 L1201.4 1496.5 L1197.1 1492.2 Z" fill="#8d89f6"/>
<path d="M1183.0 1504.3 L1187.3 1508.6 L1183.0 1512.9 L1178.7 1508.6 Z" fill="#8d89f6"/>
<path d="M1195.4 1504.9 L1199.7 1509.2 L1195.4 1513.5 L1191.1 1509.2 Z" fill="#8d89f6"/>
<path d="M1207.4 1508.5 L1211.7 1512.8 L1207.4 1517.1 L1203.1 1512.8 Z" fill="#8d89f6"/>
<path d="M1183.0 1514.8 L1187.3 1519.1 L1183.0 1523.4 L1178.7 1519.1 Z" fill="#8d89f6"/>
<line x1="968.9" y1="1405.0" x2="968.9" y2="1682.0" stroke="#000" stroke-width="2.9"/>
<line x1="957.6" y1="1680.5" x2="1229.1" y2="1680.5" stroke="#000" stroke-width="2.9"/>
<line x1="957.6" y1="1406.5" x2="968.9" y2="1406.5" stroke="#000" stroke-width="2.9"/>
<text transform="translate(951.9 1413.8) scale(1 1.04)" font-size="23.2" text-anchor="end">200</text>
<line x1="957.6" y1="1475.2" x2="968.9" y2="1475.2" stroke="#000" stroke-width="2.9"/>
<text transform="translate(951.9 1482.5) scale(1 1.04)" font-size="23.2" text-anchor="end">150</text>
<line x1="957.6" y1="1543.5" x2="968.9" y2="1543.5" stroke="#000" stroke-width="2.9"/>
<text transform="translate(951.9 1550.8) scale(1 1.04)" font-size="23.2" text-anchor="end">100</text>
<line x1="957.6" y1="1611.9" x2="968.9" y2="1611.9" stroke="#000" stroke-width="2.9"/>
<text transform="translate(951.9 1619.2) scale(1 1.04)" font-size="23.2" text-anchor="end">50</text>
<line x1="957.6" y1="1680.5" x2="968.9" y2="1680.5" stroke="#000" stroke-width="2.9"/>
<text transform="translate(951.9 1687.8) scale(1 1.04)" font-size="23.2" text-anchor="end">0</text>
<line x1="1000.4" y1="1680.5" x2="1000.4" y2="1692.3" stroke="#000" stroke-width="2.9"/>
<line x1="1049.0" y1="1680.5" x2="1049.0" y2="1692.3" stroke="#000" stroke-width="2.9"/>
<line x1="1097.7" y1="1680.5" x2="1097.7" y2="1692.3" stroke="#000" stroke-width="2.9"/>
<line x1="1146.3" y1="1680.5" x2="1146.3" y2="1692.3" stroke="#000" stroke-width="2.9"/>
<line x1="1195.0" y1="1680.5" x2="1195.0" y2="1692.3" stroke="#000" stroke-width="2.9"/>
<line x1="1033.1" y1="1336.0" x2="1204.2" y2="1336.0" stroke="#000" stroke-width="1.9"/>
<text x="1139.6" y="1329.3" font-size="18" text-anchor="middle" fill="#222" xml:space="preserve">***</text>
<line x1="1031.7" y1="1367.5" x2="1151.4" y2="1367.5" stroke="#000" stroke-width="1.9"/>
<text x="1100.1" y="1362.3" font-size="18" text-anchor="middle" fill="#222" xml:space="preserve">***</text>
<line x1="1031.7" y1="1398.6" x2="1108.6" y2="1398.6" stroke="#000" stroke-width="1.9"/>
<text x="1075.9" y="1394.7" font-size="18" text-anchor="middle" fill="#222" xml:space="preserve">***</text>
<text x="909.0" y="1562.0" font-size="24" text-anchor="middle" transform="rotate(-90 909.0 1562.0)" xml:space="preserve">AST in serum (IU/L)</text>
<text x="972.6" y="1716.5" font-size="20.8" text-anchor="end" xml:space="preserve">HBV</text>
<text x="1001.5" y="1715.7" font-size="21" text-anchor="middle" xml:space="preserve">-</text>
<text x="1051.8" y="1718.1" font-size="23.5" text-anchor="middle" xml:space="preserve">+</text>
<text x="1103.1" y="1718.1" font-size="23.5" text-anchor="middle" xml:space="preserve">+</text>
<text x="1149.2" y="1718.1" font-size="23.5" text-anchor="middle" xml:space="preserve">+</text>
<text x="1198.1" y="1718.1" font-size="23.5" text-anchor="middle" xml:space="preserve">+</text>
<text x="974.0" y="1750.2" font-size="20.8" text-anchor="end" xml:space="preserve">STE</text>
<text x="1004.3" y="1749.4" font-size="21" text-anchor="middle" xml:space="preserve">-</text>
<text x="1051.8" y="1749.4" font-size="21" text-anchor="middle" xml:space="preserve">-</text>
<text x="1102.6" y="1749.4" font-size="21" text-anchor="middle" xml:space="preserve">-</text>
<text x="1147.0" y="1750.2" font-size="20.5" text-anchor="middle" xml:space="preserve">0.2</text>
<text x="1195.1" y="1750.2" font-size="20.5" text-anchor="middle" xml:space="preserve">0.4</text>
<text x="976.0" y="1781.8" font-size="20.8" text-anchor="end" xml:space="preserve">ETV</text>
<text x="1004.3" y="1781.0" font-size="21" text-anchor="middle" xml:space="preserve">-</text>
<text x="1047.1" y="1781.0" font-size="21" text-anchor="middle" xml:space="preserve">-</text>
<text x="1099.8" y="1781.8" font-size="20.5" text-anchor="middle" xml:space="preserve">1</text>
<text x="1148.4" y="1781.0" font-size="21" text-anchor="middle" xml:space="preserve">-</text>
<text x="1196.7" y="1781.0" font-size="21" text-anchor="middle" xml:space="preserve">-</text>
</g>
</svg>
</body>
</html>
